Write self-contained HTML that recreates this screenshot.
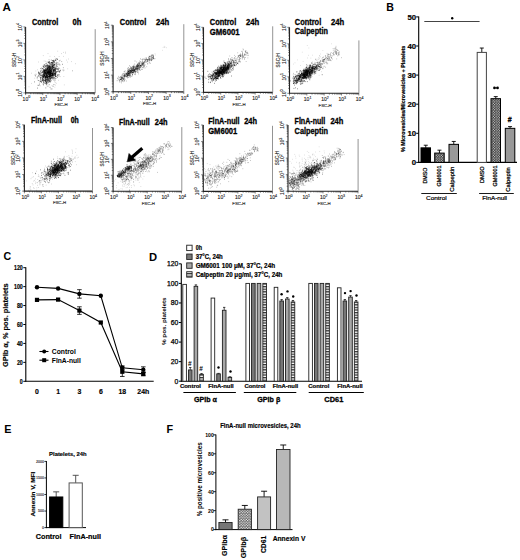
<!DOCTYPE html>
<html><head><meta charset="utf-8"><style>html,body{margin:0;padding:0;background:#fff;width:520px;height:560px;overflow:hidden;font-family:"Liberation Sans",sans-serif}svg{display:block}</style></head>
<body><svg width="520" height="560" viewBox="0 0 520 560" font-family='"Liberation Sans", sans-serif'><defs>
<pattern id="chk" width="2.6" height="2.6" patternUnits="userSpaceOnUse"><rect width="2.6" height="2.6" fill="#333"/><circle cx="0.65" cy="0.65" r="0.55" fill="#fff"/><circle cx="1.95" cy="1.95" r="0.55" fill="#fff"/></pattern>
<pattern id="chk2" width="2.6" height="2.6" patternUnits="userSpaceOnUse"><rect width="2.6" height="2.6" fill="#555"/><circle cx="0.65" cy="0.65" r="0.7" fill="#fff"/><circle cx="1.95" cy="1.95" r="0.7" fill="#fff"/></pattern>
<pattern id="gry" width="2" height="2" patternUnits="userSpaceOnUse"><rect width="2" height="2" fill="#bbb"/><rect width="1" height="1" fill="#999"/></pattern>
<pattern id="str" width="4" height="2.6" patternUnits="userSpaceOnUse"><rect width="4" height="2.6" fill="#fff"/><rect width="4" height="1.3" fill="#333"/></pattern>
</defs><rect width="520" height="560" fill="#fff"/><text x="2.40" y="10.70" font-size="11.6" font-weight="bold" text-anchor="start" fill="#000">A</text>
<line x1="25.60" y1="26.90" x2="25.60" y2="93.40" stroke="#222" stroke-width="1.1"/>
<line x1="25.10" y1="92.90" x2="95.20" y2="92.90" stroke="#222" stroke-width="1.1"/>
<line x1="95.20" y1="29.20" x2="95.20" y2="92.90" stroke="#888" stroke-width="0.9"/>
<path d="M23.40 92.90H25.60M25.60 92.90V95.10M24.30 87.93H25.60M30.77 92.90V94.20M24.30 85.03H25.60M33.79 92.90V94.20M24.30 82.97H25.60M35.94 92.90V94.20M24.30 81.37H25.60M37.60 92.90V94.20M24.30 80.06H25.60M38.96 92.90V94.20M24.30 78.96H25.60M40.11 92.90V94.20M24.30 78.00H25.60M41.11 92.90V94.20M24.30 77.15H25.60M41.99 92.90V94.20M23.40 76.40H25.60M42.77 92.90V95.10M24.30 71.43H25.60M47.95 92.90V94.20M24.30 68.53H25.60M50.97 92.90V94.20M24.30 66.47H25.60M53.12 92.90V94.20M24.30 64.87H25.60M54.78 92.90V94.20M24.30 63.56H25.60M56.14 92.90V94.20M24.30 62.46H25.60M57.29 92.90V94.20M24.30 61.50H25.60M58.29 92.90V94.20M24.30 60.65H25.60M59.16 92.90V94.20M23.40 59.90H25.60M59.95 92.90V95.10M24.30 54.93H25.60M65.12 92.90V94.20M24.30 52.03H25.60M68.14 92.90V94.20M24.30 49.97H25.60M70.29 92.90V94.20M24.30 48.37H25.60M71.95 92.90V94.20M24.30 47.06H25.60M73.31 92.90V94.20M24.30 45.96H25.60M74.46 92.90V94.20M24.30 45.00H25.60M75.46 92.90V94.20M24.30 44.15H25.60M76.34 92.90V94.20M23.40 43.40H25.60M77.12 92.90V95.10M24.30 38.43H25.60M82.30 92.90V94.20M24.30 35.53H25.60M85.32 92.90V94.20M24.30 33.47H25.60M87.47 92.90V94.20M24.30 31.87H25.60M89.13 92.90V94.20M24.30 30.56H25.60M90.49 92.90V94.20M24.30 29.46H25.60M91.64 92.90V94.20M24.30 28.50H25.60M92.64 92.90V94.20M24.30 27.65H25.60M93.51 92.90V94.20M23.40 26.90H25.60M94.30 92.90V95.10" fill="none" stroke="#333" stroke-width="0.6"/>
<g transform="translate(21.60 92.90) rotate(-90)"><text x="0" y="0" font-size="5" text-anchor="middle" fill="#222" stroke="#222" stroke-width="0.12">10<tspan font-size="3.6" dy="-2.2">0</tspan></text></g>
<text x="26.40" y="100.60" font-size="5" text-anchor="middle" fill="#222" stroke="#222" stroke-width="0.12">10<tspan font-size="3.6" dy="-2.2">0</tspan></text>
<g transform="translate(21.60 76.40) rotate(-90)"><text x="0" y="0" font-size="5" text-anchor="middle" fill="#222" stroke="#222" stroke-width="0.12">10<tspan font-size="3.6" dy="-2.2">1</tspan></text></g>
<text x="43.57" y="100.60" font-size="5" text-anchor="middle" fill="#222" stroke="#222" stroke-width="0.12">10<tspan font-size="3.6" dy="-2.2">1</tspan></text>
<g transform="translate(21.60 59.90) rotate(-90)"><text x="0" y="0" font-size="5" text-anchor="middle" fill="#222" stroke="#222" stroke-width="0.12">10<tspan font-size="3.6" dy="-2.2">2</tspan></text></g>
<text x="60.75" y="100.60" font-size="5" text-anchor="middle" fill="#222" stroke="#222" stroke-width="0.12">10<tspan font-size="3.6" dy="-2.2">2</tspan></text>
<g transform="translate(21.60 43.40) rotate(-90)"><text x="0" y="0" font-size="5" text-anchor="middle" fill="#222" stroke="#222" stroke-width="0.12">10<tspan font-size="3.6" dy="-2.2">3</tspan></text></g>
<text x="77.92" y="100.60" font-size="5" text-anchor="middle" fill="#222" stroke="#222" stroke-width="0.12">10<tspan font-size="3.6" dy="-2.2">3</tspan></text>
<g transform="translate(21.60 26.90) rotate(-90)"><text x="0" y="0" font-size="5" text-anchor="middle" fill="#222" stroke="#222" stroke-width="0.12">10<tspan font-size="3.6" dy="-2.2">4</tspan></text></g>
<text x="95.10" y="100.60" font-size="5" text-anchor="middle" fill="#222" stroke="#222" stroke-width="0.12">10<tspan font-size="3.6" dy="-2.2">4</tspan></text>
<text x="60.95" y="106.20" font-size="4.3" text-anchor="middle" fill="#222" stroke="#222" stroke-width="0.12">FSC-H</text>
<text x="0" y="0" font-size="4.6" text-anchor="middle" fill="#222" stroke="#222" stroke-width="0.12" transform="translate(16.10 59.90) rotate(-90)">SSC-H</text>
<line x1="113.10" y1="25.20" x2="113.10" y2="92.30" stroke="#222" stroke-width="1.1"/>
<line x1="112.60" y1="91.80" x2="183.80" y2="91.80" stroke="#222" stroke-width="1.1"/>
<line x1="183.80" y1="24.20" x2="183.80" y2="91.80" stroke="#888" stroke-width="0.9"/>
<path d="M110.90 91.80H113.10M113.10 91.80V94.00M111.80 86.79H113.10M118.42 91.80V93.10M111.80 83.86H113.10M121.53 91.80V93.10M111.80 81.78H113.10M123.74 91.80V93.10M111.80 80.16H113.10M125.45 91.80V93.10M111.80 78.84H113.10M126.85 91.80V93.10M111.80 77.73H113.10M128.04 91.80V93.10M111.80 76.76H113.10M129.06 91.80V93.10M111.80 75.91H113.10M129.97 91.80V93.10M110.90 75.15H113.10M130.78 91.80V94.00M111.80 70.14H113.10M136.10 91.80V93.10M111.80 67.21H113.10M139.21 91.80V93.10M111.80 65.13H113.10M141.42 91.80V93.10M111.80 63.51H113.10M143.13 91.80V93.10M111.80 62.19H113.10M144.53 91.80V93.10M111.80 61.08H113.10M145.71 91.80V93.10M111.80 60.11H113.10M146.74 91.80V93.10M111.80 59.26H113.10M147.64 91.80V93.10M110.90 58.50H113.10M148.45 91.80V94.00M111.80 53.49H113.10M153.77 91.80V93.10M111.80 50.56H113.10M156.88 91.80V93.10M111.80 48.48H113.10M159.09 91.80V93.10M111.80 46.86H113.10M160.80 91.80V93.10M111.80 45.54H113.10M162.20 91.80V93.10M111.80 44.43H113.10M163.39 91.80V93.10M111.80 43.46H113.10M164.41 91.80V93.10M111.80 42.61H113.10M165.32 91.80V93.10M110.90 41.85H113.10M166.12 91.80V94.00M111.80 36.84H113.10M171.45 91.80V93.10M111.80 33.91H113.10M174.56 91.80V93.10M111.80 31.83H113.10M176.77 91.80V93.10M111.80 30.21H113.10M178.48 91.80V93.10M111.80 28.89H113.10M179.88 91.80V93.10M111.80 27.78H113.10M181.06 91.80V93.10M111.80 26.81H113.10M182.09 91.80V93.10M111.80 25.96H113.10M182.99 91.80V93.10M110.90 25.20H113.10M183.80 91.80V94.00" fill="none" stroke="#333" stroke-width="0.6"/>
<g transform="translate(109.10 91.80) rotate(-90)"><text x="0" y="0" font-size="5" text-anchor="middle" fill="#222" stroke="#222" stroke-width="0.12">10<tspan font-size="3.6" dy="-2.2">0</tspan></text></g>
<text x="113.90" y="99.50" font-size="5" text-anchor="middle" fill="#222" stroke="#222" stroke-width="0.12">10<tspan font-size="3.6" dy="-2.2">0</tspan></text>
<g transform="translate(109.10 75.15) rotate(-90)"><text x="0" y="0" font-size="5" text-anchor="middle" fill="#222" stroke="#222" stroke-width="0.12">10<tspan font-size="3.6" dy="-2.2">1</tspan></text></g>
<text x="131.58" y="99.50" font-size="5" text-anchor="middle" fill="#222" stroke="#222" stroke-width="0.12">10<tspan font-size="3.6" dy="-2.2">1</tspan></text>
<g transform="translate(109.10 58.50) rotate(-90)"><text x="0" y="0" font-size="5" text-anchor="middle" fill="#222" stroke="#222" stroke-width="0.12">10<tspan font-size="3.6" dy="-2.2">2</tspan></text></g>
<text x="149.25" y="99.50" font-size="5" text-anchor="middle" fill="#222" stroke="#222" stroke-width="0.12">10<tspan font-size="3.6" dy="-2.2">2</tspan></text>
<g transform="translate(109.10 41.85) rotate(-90)"><text x="0" y="0" font-size="5" text-anchor="middle" fill="#222" stroke="#222" stroke-width="0.12">10<tspan font-size="3.6" dy="-2.2">3</tspan></text></g>
<text x="166.93" y="99.50" font-size="5" text-anchor="middle" fill="#222" stroke="#222" stroke-width="0.12">10<tspan font-size="3.6" dy="-2.2">3</tspan></text>
<g transform="translate(109.10 25.20) rotate(-90)"><text x="0" y="0" font-size="5" text-anchor="middle" fill="#222" stroke="#222" stroke-width="0.12">10<tspan font-size="3.6" dy="-2.2">4</tspan></text></g>
<text x="184.60" y="99.50" font-size="5" text-anchor="middle" fill="#222" stroke="#222" stroke-width="0.12">10<tspan font-size="3.6" dy="-2.2">4</tspan></text>
<text x="149.45" y="105.10" font-size="4.3" text-anchor="middle" fill="#222" stroke="#222" stroke-width="0.12">FSC-H</text>
<text x="0" y="0" font-size="4.6" text-anchor="middle" fill="#222" stroke="#222" stroke-width="0.12" transform="translate(103.60 58.50) rotate(-90)">SSC-H</text>
<line x1="203.50" y1="27.30" x2="203.50" y2="92.90" stroke="#222" stroke-width="1.1"/>
<line x1="203.00" y1="92.40" x2="272.70" y2="92.40" stroke="#222" stroke-width="1.1"/>
<line x1="272.70" y1="26.30" x2="272.70" y2="92.40" stroke="#888" stroke-width="0.9"/>
<path d="M201.30 92.40H203.50M203.50 92.40V94.60M202.20 87.50H203.50M208.69 92.40V93.70M202.20 84.63H203.50M211.72 92.40V93.70M202.20 82.60H203.50M213.87 92.40V93.70M202.20 81.02H203.50M215.54 92.40V93.70M202.20 79.74H203.50M216.90 92.40V93.70M202.20 78.65H203.50M218.06 92.40V93.70M202.20 77.70H203.50M219.06 92.40V93.70M202.20 76.87H203.50M219.94 92.40V93.70M201.30 76.12H203.50M220.72 92.40V94.60M202.20 71.23H203.50M225.91 92.40V93.70M202.20 68.36H203.50M228.94 92.40V93.70M202.20 66.33H203.50M231.10 92.40V93.70M202.20 64.75H203.50M232.76 92.40V93.70M202.20 63.46H203.50M234.13 92.40V93.70M202.20 62.37H203.50M235.28 92.40V93.70M202.20 61.43H203.50M236.28 92.40V93.70M202.20 60.59H203.50M237.16 92.40V93.70M201.30 59.85H203.50M237.95 92.40V94.60M202.20 54.95H203.50M243.14 92.40V93.70M202.20 52.08H203.50M246.17 92.40V93.70M202.20 50.05H203.50M248.32 92.40V93.70M202.20 48.47H203.50M249.99 92.40V93.70M202.20 47.19H203.50M251.35 92.40V93.70M202.20 46.10H203.50M252.51 92.40V93.70M202.20 45.15H203.50M253.51 92.40V93.70M202.20 44.32H203.50M254.39 92.40V93.70M201.30 43.58H203.50M255.17 92.40V94.60M202.20 38.68H203.50M260.36 92.40V93.70M202.20 35.81H203.50M263.39 92.40V93.70M202.20 33.78H203.50M265.55 92.40V93.70M202.20 32.20H203.50M267.21 92.40V93.70M202.20 30.91H203.50M268.58 92.40V93.70M202.20 29.82H203.50M269.73 92.40V93.70M202.20 28.88H203.50M270.73 92.40V93.70M202.20 28.04H203.50M271.61 92.40V93.70M201.30 27.30H203.50M272.40 92.40V94.60" fill="none" stroke="#333" stroke-width="0.6"/>
<g transform="translate(199.50 92.40) rotate(-90)"><text x="0" y="0" font-size="5" text-anchor="middle" fill="#222" stroke="#222" stroke-width="0.12">10<tspan font-size="3.6" dy="-2.2">0</tspan></text></g>
<text x="204.30" y="100.10" font-size="5" text-anchor="middle" fill="#222" stroke="#222" stroke-width="0.12">10<tspan font-size="3.6" dy="-2.2">0</tspan></text>
<g transform="translate(199.50 76.12) rotate(-90)"><text x="0" y="0" font-size="5" text-anchor="middle" fill="#222" stroke="#222" stroke-width="0.12">10<tspan font-size="3.6" dy="-2.2">1</tspan></text></g>
<text x="221.53" y="100.10" font-size="5" text-anchor="middle" fill="#222" stroke="#222" stroke-width="0.12">10<tspan font-size="3.6" dy="-2.2">1</tspan></text>
<g transform="translate(199.50 59.85) rotate(-90)"><text x="0" y="0" font-size="5" text-anchor="middle" fill="#222" stroke="#222" stroke-width="0.12">10<tspan font-size="3.6" dy="-2.2">2</tspan></text></g>
<text x="238.75" y="100.10" font-size="5" text-anchor="middle" fill="#222" stroke="#222" stroke-width="0.12">10<tspan font-size="3.6" dy="-2.2">2</tspan></text>
<g transform="translate(199.50 43.58) rotate(-90)"><text x="0" y="0" font-size="5" text-anchor="middle" fill="#222" stroke="#222" stroke-width="0.12">10<tspan font-size="3.6" dy="-2.2">3</tspan></text></g>
<text x="255.97" y="100.10" font-size="5" text-anchor="middle" fill="#222" stroke="#222" stroke-width="0.12">10<tspan font-size="3.6" dy="-2.2">3</tspan></text>
<g transform="translate(199.50 27.30) rotate(-90)"><text x="0" y="0" font-size="5" text-anchor="middle" fill="#222" stroke="#222" stroke-width="0.12">10<tspan font-size="3.6" dy="-2.2">4</tspan></text></g>
<text x="273.20" y="100.10" font-size="5" text-anchor="middle" fill="#222" stroke="#222" stroke-width="0.12">10<tspan font-size="3.6" dy="-2.2">4</tspan></text>
<text x="238.95" y="105.70" font-size="4.3" text-anchor="middle" fill="#222" stroke="#222" stroke-width="0.12">FSC-H</text>
<text x="0" y="0" font-size="4.6" text-anchor="middle" fill="#222" stroke="#222" stroke-width="0.12" transform="translate(194.00 59.85) rotate(-90)">SSC-H</text>
<line x1="289.50" y1="27.30" x2="289.50" y2="93.80" stroke="#222" stroke-width="1.1"/>
<line x1="289.00" y1="93.30" x2="358.90" y2="93.30" stroke="#222" stroke-width="1.1"/>
<line x1="358.90" y1="40.40" x2="358.90" y2="93.30" stroke="#888" stroke-width="0.9"/>
<path d="M287.30 93.30H289.50M289.50 93.30V95.50M288.20 88.33H289.50M294.72 93.30V94.60M288.20 85.43H289.50M297.77 93.30V94.60M288.20 83.37H289.50M299.93 93.30V94.60M288.20 81.77H289.50M301.61 93.30V94.60M288.20 80.46H289.50M302.98 93.30V94.60M288.20 79.36H289.50M304.14 93.30V94.60M288.20 78.40H289.50M305.15 93.30V94.60M288.20 77.55H289.50M306.03 93.30V94.60M287.30 76.80H289.50M306.82 93.30V95.50M288.20 71.83H289.50M312.04 93.30V94.60M288.20 68.93H289.50M315.09 93.30V94.60M288.20 66.87H289.50M317.26 93.30V94.60M288.20 65.27H289.50M318.93 93.30V94.60M288.20 63.96H289.50M320.31 93.30V94.60M288.20 62.86H289.50M321.47 93.30V94.60M288.20 61.90H289.50M322.47 93.30V94.60M288.20 61.05H289.50M323.36 93.30V94.60M287.30 60.30H289.50M324.15 93.30V95.50M288.20 55.33H289.50M329.37 93.30V94.60M288.20 52.43H289.50M332.42 93.30V94.60M288.20 50.37H289.50M334.58 93.30V94.60M288.20 48.77H289.50M336.26 93.30V94.60M288.20 47.46H289.50M337.63 93.30V94.60M288.20 46.36H289.50M338.79 93.30V94.60M288.20 45.40H289.50M339.80 93.30V94.60M288.20 44.55H289.50M340.68 93.30V94.60M287.30 43.80H289.50M341.48 93.30V95.50M288.20 38.83H289.50M346.69 93.30V94.60M288.20 35.93H289.50M349.74 93.30V94.60M288.20 33.87H289.50M351.91 93.30V94.60M288.20 32.27H289.50M353.58 93.30V94.60M288.20 30.96H289.50M354.96 93.30V94.60M288.20 29.86H289.50M356.12 93.30V94.60M288.20 28.90H289.50M357.12 93.30V94.60M288.20 28.05H289.50M358.01 93.30V94.60M287.30 27.30H289.50M358.80 93.30V95.50" fill="none" stroke="#333" stroke-width="0.6"/>
<g transform="translate(285.50 93.30) rotate(-90)"><text x="0" y="0" font-size="5" text-anchor="middle" fill="#222" stroke="#222" stroke-width="0.12">10<tspan font-size="3.6" dy="-2.2">0</tspan></text></g>
<text x="290.30" y="101.00" font-size="5" text-anchor="middle" fill="#222" stroke="#222" stroke-width="0.12">10<tspan font-size="3.6" dy="-2.2">0</tspan></text>
<g transform="translate(285.50 76.80) rotate(-90)"><text x="0" y="0" font-size="5" text-anchor="middle" fill="#222" stroke="#222" stroke-width="0.12">10<tspan font-size="3.6" dy="-2.2">1</tspan></text></g>
<text x="307.62" y="101.00" font-size="5" text-anchor="middle" fill="#222" stroke="#222" stroke-width="0.12">10<tspan font-size="3.6" dy="-2.2">1</tspan></text>
<g transform="translate(285.50 60.30) rotate(-90)"><text x="0" y="0" font-size="5" text-anchor="middle" fill="#222" stroke="#222" stroke-width="0.12">10<tspan font-size="3.6" dy="-2.2">2</tspan></text></g>
<text x="324.95" y="101.00" font-size="5" text-anchor="middle" fill="#222" stroke="#222" stroke-width="0.12">10<tspan font-size="3.6" dy="-2.2">2</tspan></text>
<g transform="translate(285.50 43.80) rotate(-90)"><text x="0" y="0" font-size="5" text-anchor="middle" fill="#222" stroke="#222" stroke-width="0.12">10<tspan font-size="3.6" dy="-2.2">3</tspan></text></g>
<text x="342.28" y="101.00" font-size="5" text-anchor="middle" fill="#222" stroke="#222" stroke-width="0.12">10<tspan font-size="3.6" dy="-2.2">3</tspan></text>
<g transform="translate(285.50 27.30) rotate(-90)"><text x="0" y="0" font-size="5" text-anchor="middle" fill="#222" stroke="#222" stroke-width="0.12">10<tspan font-size="3.6" dy="-2.2">4</tspan></text></g>
<text x="359.60" y="101.00" font-size="5" text-anchor="middle" fill="#222" stroke="#222" stroke-width="0.12">10<tspan font-size="3.6" dy="-2.2">4</tspan></text>
<text x="325.15" y="106.60" font-size="4.3" text-anchor="middle" fill="#222" stroke="#222" stroke-width="0.12">FSC-H</text>
<text x="0" y="0" font-size="4.6" text-anchor="middle" fill="#222" stroke="#222" stroke-width="0.12" transform="translate(280.00 60.30) rotate(-90)">SSC-H</text>
<line x1="24.40" y1="124.80" x2="24.40" y2="191.60" stroke="#222" stroke-width="1.1"/>
<line x1="23.90" y1="191.10" x2="92.50" y2="191.10" stroke="#222" stroke-width="1.1"/>
<line x1="92.50" y1="128.00" x2="92.50" y2="191.10" stroke="#888" stroke-width="0.9"/>
<path d="M22.20 191.10H24.40M24.40 191.10V193.30M23.10 186.11H24.40M29.53 191.10V192.40M23.10 183.19H24.40M32.52 191.10V192.40M23.10 181.12H24.40M34.65 191.10V192.40M23.10 179.51H24.40M36.30 191.10V192.40M23.10 178.20H24.40M37.65 191.10V192.40M23.10 177.09H24.40M38.79 191.10V192.40M23.10 176.13H24.40M39.78 191.10V192.40M23.10 175.28H24.40M40.65 191.10V192.40M22.20 174.53H24.40M41.42 191.10V193.30M23.10 169.54H24.40M46.55 191.10V192.40M23.10 166.62H24.40M49.55 191.10V192.40M23.10 164.55H24.40M51.68 191.10V192.40M23.10 162.94H24.40M53.32 191.10V192.40M23.10 161.63H24.40M54.67 191.10V192.40M23.10 160.52H24.40M55.81 191.10V192.40M23.10 159.56H24.40M56.80 191.10V192.40M23.10 158.71H24.40M57.67 191.10V192.40M22.20 157.95H24.40M58.45 191.10V193.30M23.10 152.96H24.40M63.58 191.10V192.40M23.10 150.04H24.40M66.57 191.10V192.40M23.10 147.97H24.40M68.70 191.10V192.40M23.10 146.36H24.40M70.35 191.10V192.40M23.10 145.05H24.40M71.70 191.10V192.40M23.10 143.94H24.40M72.84 191.10V192.40M23.10 142.98H24.40M73.83 191.10V192.40M23.10 142.13H24.40M74.70 191.10V192.40M22.20 141.38H24.40M75.47 191.10V193.30M23.10 136.39H24.40M80.60 191.10V192.40M23.10 133.47H24.40M83.60 191.10V192.40M23.10 131.40H24.40M85.73 191.10V192.40M23.10 129.79H24.40M87.37 191.10V192.40M23.10 128.48H24.40M88.72 191.10V192.40M23.10 127.37H24.40M89.86 191.10V192.40M23.10 126.41H24.40M90.85 191.10V192.40M23.10 125.56H24.40M91.72 191.10V192.40M22.20 124.80H24.40M92.50 191.10V193.30" fill="none" stroke="#333" stroke-width="0.6"/>
<g transform="translate(20.40 191.10) rotate(-90)"><text x="0" y="0" font-size="5" text-anchor="middle" fill="#222" stroke="#222" stroke-width="0.12">10<tspan font-size="3.6" dy="-2.2">0</tspan></text></g>
<text x="25.20" y="198.80" font-size="5" text-anchor="middle" fill="#222" stroke="#222" stroke-width="0.12">10<tspan font-size="3.6" dy="-2.2">0</tspan></text>
<g transform="translate(20.40 174.53) rotate(-90)"><text x="0" y="0" font-size="5" text-anchor="middle" fill="#222" stroke="#222" stroke-width="0.12">10<tspan font-size="3.6" dy="-2.2">1</tspan></text></g>
<text x="42.22" y="198.80" font-size="5" text-anchor="middle" fill="#222" stroke="#222" stroke-width="0.12">10<tspan font-size="3.6" dy="-2.2">1</tspan></text>
<g transform="translate(20.40 157.95) rotate(-90)"><text x="0" y="0" font-size="5" text-anchor="middle" fill="#222" stroke="#222" stroke-width="0.12">10<tspan font-size="3.6" dy="-2.2">2</tspan></text></g>
<text x="59.25" y="198.80" font-size="5" text-anchor="middle" fill="#222" stroke="#222" stroke-width="0.12">10<tspan font-size="3.6" dy="-2.2">2</tspan></text>
<g transform="translate(20.40 141.38) rotate(-90)"><text x="0" y="0" font-size="5" text-anchor="middle" fill="#222" stroke="#222" stroke-width="0.12">10<tspan font-size="3.6" dy="-2.2">3</tspan></text></g>
<text x="76.27" y="198.80" font-size="5" text-anchor="middle" fill="#222" stroke="#222" stroke-width="0.12">10<tspan font-size="3.6" dy="-2.2">3</tspan></text>
<g transform="translate(20.40 124.80) rotate(-90)"><text x="0" y="0" font-size="5" text-anchor="middle" fill="#222" stroke="#222" stroke-width="0.12">10<tspan font-size="3.6" dy="-2.2">4</tspan></text></g>
<text x="93.30" y="198.80" font-size="5" text-anchor="middle" fill="#222" stroke="#222" stroke-width="0.12">10<tspan font-size="3.6" dy="-2.2">4</tspan></text>
<text x="59.45" y="204.40" font-size="4.3" text-anchor="middle" fill="#222" stroke="#222" stroke-width="0.12">FSC-H</text>
<text x="0" y="0" font-size="4.6" text-anchor="middle" fill="#222" stroke="#222" stroke-width="0.12" transform="translate(14.90 157.95) rotate(-90)">SSC-H</text>
<line x1="113.10" y1="127.50" x2="113.10" y2="191.70" stroke="#222" stroke-width="1.1"/>
<line x1="112.60" y1="191.20" x2="181.80" y2="191.20" stroke="#222" stroke-width="1.1"/>
<line x1="181.80" y1="127.10" x2="181.80" y2="191.20" stroke="#888" stroke-width="0.9"/>
<path d="M110.90 191.20H113.10M113.10 191.20V193.40M111.80 186.41H113.10M118.25 191.20V192.50M111.80 183.60H113.10M121.26 191.20V192.50M111.80 181.61H113.10M123.40 191.20V192.50M111.80 180.07H113.10M125.05 191.20V192.50M111.80 178.81H113.10M126.41 191.20V192.50M111.80 177.74H113.10M127.55 191.20V192.50M111.80 176.82H113.10M128.54 191.20V192.50M111.80 176.00H113.10M129.42 191.20V192.50M110.90 175.27H113.10M130.20 191.20V193.40M111.80 170.48H113.10M135.35 191.20V192.50M111.80 167.68H113.10M138.36 191.20V192.50M111.80 165.69H113.10M140.50 191.20V192.50M111.80 164.14H113.10M142.15 191.20V192.50M111.80 162.88H113.10M143.51 191.20V192.50M111.80 161.82H113.10M144.65 191.20V192.50M111.80 160.89H113.10M145.64 191.20V192.50M111.80 160.08H113.10M146.52 191.20V192.50M110.90 159.35H113.10M147.30 191.20V193.40M111.80 154.56H113.10M152.45 191.20V192.50M111.80 151.75H113.10M155.46 191.20V192.50M111.80 149.76H113.10M157.60 191.20V192.50M111.80 148.22H113.10M159.25 191.20V192.50M111.80 146.96H113.10M160.61 191.20V192.50M111.80 145.89H113.10M161.75 191.20V192.50M111.80 144.97H113.10M162.74 191.20V192.50M111.80 144.15H113.10M163.62 191.20V192.50M110.90 143.43H113.10M164.40 191.20V193.40M111.80 138.63H113.10M169.55 191.20V192.50M111.80 135.83H113.10M172.56 191.20V192.50M111.80 133.84H113.10M174.70 191.20V192.50M111.80 132.29H113.10M176.35 191.20V192.50M111.80 131.03H113.10M177.71 191.20V192.50M111.80 129.97H113.10M178.85 191.20V192.50M111.80 129.04H113.10M179.84 191.20V192.50M111.80 128.23H113.10M180.72 191.20V192.50M110.90 127.50H113.10M181.50 191.20V193.40" fill="none" stroke="#333" stroke-width="0.6"/>
<g transform="translate(109.10 191.20) rotate(-90)"><text x="0" y="0" font-size="5" text-anchor="middle" fill="#222" stroke="#222" stroke-width="0.12">10<tspan font-size="3.6" dy="-2.2">0</tspan></text></g>
<text x="113.90" y="198.90" font-size="5" text-anchor="middle" fill="#222" stroke="#222" stroke-width="0.12">10<tspan font-size="3.6" dy="-2.2">0</tspan></text>
<g transform="translate(109.10 175.27) rotate(-90)"><text x="0" y="0" font-size="5" text-anchor="middle" fill="#222" stroke="#222" stroke-width="0.12">10<tspan font-size="3.6" dy="-2.2">1</tspan></text></g>
<text x="131.00" y="198.90" font-size="5" text-anchor="middle" fill="#222" stroke="#222" stroke-width="0.12">10<tspan font-size="3.6" dy="-2.2">1</tspan></text>
<g transform="translate(109.10 159.35) rotate(-90)"><text x="0" y="0" font-size="5" text-anchor="middle" fill="#222" stroke="#222" stroke-width="0.12">10<tspan font-size="3.6" dy="-2.2">2</tspan></text></g>
<text x="148.10" y="198.90" font-size="5" text-anchor="middle" fill="#222" stroke="#222" stroke-width="0.12">10<tspan font-size="3.6" dy="-2.2">2</tspan></text>
<g transform="translate(109.10 143.43) rotate(-90)"><text x="0" y="0" font-size="5" text-anchor="middle" fill="#222" stroke="#222" stroke-width="0.12">10<tspan font-size="3.6" dy="-2.2">3</tspan></text></g>
<text x="165.20" y="198.90" font-size="5" text-anchor="middle" fill="#222" stroke="#222" stroke-width="0.12">10<tspan font-size="3.6" dy="-2.2">3</tspan></text>
<g transform="translate(109.10 127.50) rotate(-90)"><text x="0" y="0" font-size="5" text-anchor="middle" fill="#222" stroke="#222" stroke-width="0.12">10<tspan font-size="3.6" dy="-2.2">4</tspan></text></g>
<text x="182.30" y="198.90" font-size="5" text-anchor="middle" fill="#222" stroke="#222" stroke-width="0.12">10<tspan font-size="3.6" dy="-2.2">4</tspan></text>
<text x="148.30" y="204.50" font-size="4.3" text-anchor="middle" fill="#222" stroke="#222" stroke-width="0.12">FSC-H</text>
<text x="0" y="0" font-size="4.6" text-anchor="middle" fill="#222" stroke="#222" stroke-width="0.12" transform="translate(103.60 159.35) rotate(-90)">SSC-H</text>
<line x1="203.30" y1="125.00" x2="203.30" y2="191.90" stroke="#222" stroke-width="1.1"/>
<line x1="202.80" y1="191.40" x2="272.50" y2="191.40" stroke="#222" stroke-width="1.1"/>
<line x1="272.50" y1="125.80" x2="272.50" y2="191.40" stroke="#888" stroke-width="0.9"/>
<path d="M201.10 191.40H203.30M203.30 191.40V193.60M202.00 186.40H203.30M208.51 191.40V192.70M202.00 183.48H203.30M211.55 191.40V192.70M202.00 181.41H203.30M213.72 191.40V192.70M202.00 179.80H203.30M215.39 191.40V192.70M202.00 178.48H203.30M216.76 191.40V192.70M202.00 177.37H203.30M217.92 191.40V192.70M202.00 176.41H203.30M218.92 191.40V192.70M202.00 175.56H203.30M219.81 191.40V192.70M201.10 174.80H203.30M220.60 191.40V193.60M202.00 169.80H203.30M225.81 191.40V192.70M202.00 166.88H203.30M228.85 191.40V192.70M202.00 164.81H203.30M231.02 191.40V192.70M202.00 163.20H203.30M232.69 191.40V192.70M202.00 161.88H203.30M234.06 191.40V192.70M202.00 160.77H203.30M235.22 191.40V192.70M202.00 159.81H203.30M236.22 191.40V192.70M202.00 158.96H203.30M237.11 191.40V192.70M201.10 158.20H203.30M237.90 191.40V193.60M202.00 153.20H203.30M243.11 191.40V192.70M202.00 150.28H203.30M246.15 191.40V192.70M202.00 148.21H203.30M248.32 191.40V192.70M202.00 146.60H203.30M249.99 191.40V192.70M202.00 145.28H203.30M251.36 191.40V192.70M202.00 144.17H203.30M252.52 191.40V192.70M202.00 143.21H203.30M253.52 191.40V192.70M202.00 142.36H203.30M254.41 191.40V192.70M201.10 141.60H203.30M255.20 191.40V193.60M202.00 136.60H203.30M260.41 191.40V192.70M202.00 133.68H203.30M263.45 191.40V192.70M202.00 131.61H203.30M265.62 191.40V192.70M202.00 130.00H203.30M267.29 191.40V192.70M202.00 128.68H203.30M268.66 191.40V192.70M202.00 127.57H203.30M269.82 191.40V192.70M202.00 126.61H203.30M270.82 191.40V192.70M202.00 125.76H203.30M271.71 191.40V192.70M201.10 125.00H203.30M272.50 191.40V193.60" fill="none" stroke="#333" stroke-width="0.6"/>
<g transform="translate(199.30 191.40) rotate(-90)"><text x="0" y="0" font-size="5" text-anchor="middle" fill="#222" stroke="#222" stroke-width="0.12">10<tspan font-size="3.6" dy="-2.2">0</tspan></text></g>
<text x="204.10" y="199.10" font-size="5" text-anchor="middle" fill="#222" stroke="#222" stroke-width="0.12">10<tspan font-size="3.6" dy="-2.2">0</tspan></text>
<g transform="translate(199.30 174.80) rotate(-90)"><text x="0" y="0" font-size="5" text-anchor="middle" fill="#222" stroke="#222" stroke-width="0.12">10<tspan font-size="3.6" dy="-2.2">1</tspan></text></g>
<text x="221.40" y="199.10" font-size="5" text-anchor="middle" fill="#222" stroke="#222" stroke-width="0.12">10<tspan font-size="3.6" dy="-2.2">1</tspan></text>
<g transform="translate(199.30 158.20) rotate(-90)"><text x="0" y="0" font-size="5" text-anchor="middle" fill="#222" stroke="#222" stroke-width="0.12">10<tspan font-size="3.6" dy="-2.2">2</tspan></text></g>
<text x="238.70" y="199.10" font-size="5" text-anchor="middle" fill="#222" stroke="#222" stroke-width="0.12">10<tspan font-size="3.6" dy="-2.2">2</tspan></text>
<g transform="translate(199.30 141.60) rotate(-90)"><text x="0" y="0" font-size="5" text-anchor="middle" fill="#222" stroke="#222" stroke-width="0.12">10<tspan font-size="3.6" dy="-2.2">3</tspan></text></g>
<text x="256.00" y="199.10" font-size="5" text-anchor="middle" fill="#222" stroke="#222" stroke-width="0.12">10<tspan font-size="3.6" dy="-2.2">3</tspan></text>
<g transform="translate(199.30 125.00) rotate(-90)"><text x="0" y="0" font-size="5" text-anchor="middle" fill="#222" stroke="#222" stroke-width="0.12">10<tspan font-size="3.6" dy="-2.2">4</tspan></text></g>
<text x="273.30" y="199.10" font-size="5" text-anchor="middle" fill="#222" stroke="#222" stroke-width="0.12">10<tspan font-size="3.6" dy="-2.2">4</tspan></text>
<text x="238.90" y="204.70" font-size="4.3" text-anchor="middle" fill="#222" stroke="#222" stroke-width="0.12">FSC-H</text>
<text x="0" y="0" font-size="4.6" text-anchor="middle" fill="#222" stroke="#222" stroke-width="0.12" transform="translate(193.80 158.20) rotate(-90)">SSC-H</text>
<line x1="288.00" y1="125.00" x2="288.00" y2="191.70" stroke="#222" stroke-width="1.1"/>
<line x1="287.50" y1="191.20" x2="358.10" y2="191.20" stroke="#222" stroke-width="1.1"/>
<line x1="358.10" y1="139.00" x2="358.10" y2="191.20" stroke="#888" stroke-width="0.9"/>
<path d="M285.80 191.20H288.00M288.00 191.20V193.40M286.70 186.22H288.00M293.27 191.20V192.50M286.70 183.30H288.00M296.35 191.20V192.50M286.70 181.24H288.00M298.54 191.20V192.50M286.70 179.63H288.00M300.23 191.20V192.50M286.70 178.32H288.00M301.62 191.20V192.50M286.70 177.21H288.00M302.79 191.20V192.50M286.70 176.25H288.00M303.80 191.20V192.50M286.70 175.41H288.00M304.70 191.20V192.50M285.80 174.65H288.00M305.50 191.20V193.40M286.70 169.67H288.00M310.77 191.20V192.50M286.70 166.75H288.00M313.85 191.20V192.50M286.70 164.69H288.00M316.04 191.20V192.50M286.70 163.08H288.00M317.73 191.20V192.50M286.70 161.77H288.00M319.12 191.20V192.50M286.70 160.66H288.00M320.29 191.20V192.50M286.70 159.70H288.00M321.30 191.20V192.50M286.70 158.86H288.00M322.20 191.20V192.50M285.80 158.10H288.00M323.00 191.20V193.40M286.70 153.12H288.00M328.27 191.20V192.50M286.70 150.20H288.00M331.35 191.20V192.50M286.70 148.14H288.00M333.54 191.20V192.50M286.70 146.53H288.00M335.23 191.20V192.50M286.70 145.22H288.00M336.62 191.20V192.50M286.70 144.11H288.00M337.79 191.20V192.50M286.70 143.15H288.00M338.80 191.20V192.50M286.70 142.31H288.00M339.70 191.20V192.50M285.80 141.55H288.00M340.50 191.20V193.40M286.70 136.57H288.00M345.77 191.20V192.50M286.70 133.65H288.00M348.85 191.20V192.50M286.70 131.59H288.00M351.04 191.20V192.50M286.70 129.98H288.00M352.73 191.20V192.50M286.70 128.67H288.00M354.12 191.20V192.50M286.70 127.56H288.00M355.29 191.20V192.50M286.70 126.60H288.00M356.30 191.20V192.50M286.70 125.76H288.00M357.20 191.20V192.50M285.80 125.00H288.00M358.00 191.20V193.40" fill="none" stroke="#333" stroke-width="0.6"/>
<g transform="translate(284.00 191.20) rotate(-90)"><text x="0" y="0" font-size="5" text-anchor="middle" fill="#222" stroke="#222" stroke-width="0.12">10<tspan font-size="3.6" dy="-2.2">0</tspan></text></g>
<text x="288.80" y="198.90" font-size="5" text-anchor="middle" fill="#222" stroke="#222" stroke-width="0.12">10<tspan font-size="3.6" dy="-2.2">0</tspan></text>
<g transform="translate(284.00 174.65) rotate(-90)"><text x="0" y="0" font-size="5" text-anchor="middle" fill="#222" stroke="#222" stroke-width="0.12">10<tspan font-size="3.6" dy="-2.2">1</tspan></text></g>
<text x="306.30" y="198.90" font-size="5" text-anchor="middle" fill="#222" stroke="#222" stroke-width="0.12">10<tspan font-size="3.6" dy="-2.2">1</tspan></text>
<g transform="translate(284.00 158.10) rotate(-90)"><text x="0" y="0" font-size="5" text-anchor="middle" fill="#222" stroke="#222" stroke-width="0.12">10<tspan font-size="3.6" dy="-2.2">2</tspan></text></g>
<text x="323.80" y="198.90" font-size="5" text-anchor="middle" fill="#222" stroke="#222" stroke-width="0.12">10<tspan font-size="3.6" dy="-2.2">2</tspan></text>
<g transform="translate(284.00 141.55) rotate(-90)"><text x="0" y="0" font-size="5" text-anchor="middle" fill="#222" stroke="#222" stroke-width="0.12">10<tspan font-size="3.6" dy="-2.2">3</tspan></text></g>
<text x="341.30" y="198.90" font-size="5" text-anchor="middle" fill="#222" stroke="#222" stroke-width="0.12">10<tspan font-size="3.6" dy="-2.2">3</tspan></text>
<g transform="translate(284.00 125.00) rotate(-90)"><text x="0" y="0" font-size="5" text-anchor="middle" fill="#222" stroke="#222" stroke-width="0.12">10<tspan font-size="3.6" dy="-2.2">4</tspan></text></g>
<text x="358.80" y="198.90" font-size="5" text-anchor="middle" fill="#222" stroke="#222" stroke-width="0.12">10<tspan font-size="3.6" dy="-2.2">4</tspan></text>
<text x="324.00" y="204.50" font-size="4.3" text-anchor="middle" fill="#222" stroke="#222" stroke-width="0.12">FSC-H</text>
<text x="0" y="0" font-size="4.6" text-anchor="middle" fill="#222" stroke="#222" stroke-width="0.12" transform="translate(278.50 158.10) rotate(-90)">SSC-H</text>
<path d="M52.5 74.3h0.7M57.1 74.9h0.7M54.5 77.4h0.7M45.6 76.5h0.7M49.9 76.0h0.7M46.4 77.7h0.7M49.5 72.2h0.7M57.8 68.1h0.7M43.4 72.5h0.7M50.4 77.4h0.7M50.3 69.7h0.7M54.5 73.0h0.7M49.9 72.1h0.7M44.1 75.9h0.7M49.8 73.0h0.7M53.4 70.0h0.7M45.1 79.3h0.7M49.1 75.6h0.7M41.7 81.2h0.7M38.5 75.2h0.7M46.3 83.5h0.7M50.5 74.8h0.7M45.7 79.2h0.7M50.0 71.0h0.7M52.7 73.4h0.7M47.0 72.4h0.7M39.2 84.1h0.7M46.8 74.8h0.7M52.6 74.7h0.7M45.0 69.2h0.7M48.1 82.4h0.7M45.6 73.6h0.7M42.6 75.4h0.7M50.5 78.8h0.7M51.9 66.6h0.7M42.5 74.2h0.7M47.8 71.8h0.7M54.6 69.4h0.7M51.0 77.5h0.7M47.3 72.1h0.7M50.6 72.5h0.7M51.4 73.3h0.7M43.3 77.5h0.7M50.3 72.5h0.7M53.0 65.2h0.7M42.7 79.4h0.7M50.0 66.9h0.7M49.6 71.8h0.7M47.2 75.7h0.7M53.2 60.9h0.7M50.0 67.6h0.7M48.9 80.5h0.7M49.9 72.3h0.7M53.5 70.9h0.7M52.2 75.4h0.7M52.9 69.8h0.7M55.9 76.7h0.7M48.4 67.3h0.7M55.8 66.3h0.7M46.0 75.2h0.7M55.4 74.6h0.7M52.9 77.8h0.7M43.3 68.1h0.7M42.4 76.7h0.7M49.3 76.5h0.7M50.9 74.7h0.7M54.0 69.0h0.7M52.2 66.2h0.7M46.4 80.0h0.7M48.7 77.6h0.7M50.7 68.8h0.7M46.2 84.5h0.7M40.6 70.6h0.7M50.7 73.9h0.7M49.5 63.9h0.7M54.1 70.4h0.7M47.3 73.6h0.7M45.1 72.6h0.7M49.4 74.3h0.7M50.7 62.7h0.7M44.9 72.9h0.7M43.2 71.1h0.7M50.0 70.4h0.7M50.2 73.8h0.7M51.6 75.2h0.7M45.2 77.8h0.7M52.2 74.2h0.7M47.7 74.6h0.7M52.2 66.1h0.7M52.7 69.9h0.7M52.2 74.3h0.7M49.9 68.2h0.7M47.2 73.6h0.7M51.7 66.5h0.7M49.2 72.5h0.7M47.9 67.6h0.7M48.3 80.9h0.7M48.8 69.8h0.7M45.4 81.9h0.7M40.3 81.4h0.7M49.2 74.5h0.7M47.5 77.7h0.7M48.2 70.7h0.7M62.0 64.3h0.7M47.7 77.3h0.7M52.7 78.7h0.7M52.6 73.0h0.7M48.4 68.5h0.7M47.3 72.5h0.7M49.7 74.2h0.7M51.3 68.8h0.7M50.7 69.7h0.7M45.0 77.2h0.7M43.1 69.5h0.7M48.4 71.7h0.7M38.9 73.8h0.7M50.9 71.6h0.7M44.2 75.5h0.7M49.7 66.0h0.7M48.9 70.9h0.7M50.1 72.3h0.7M42.8 72.8h0.7M43.2 69.8h0.7M39.7 80.8h0.7M39.2 74.5h0.7M47.1 68.7h0.7M47.6 86.2h0.7M48.2 66.0h0.7M45.8 82.5h0.7M47.0 65.9h0.7M47.4 77.2h0.7M50.3 67.7h0.7M49.2 71.5h0.7M46.2 81.3h0.7M58.2 69.0h0.7M53.9 65.2h0.7M49.2 72.9h0.7M45.1 72.0h0.7M50.3 74.2h0.7M45.3 76.9h0.7M54.9 68.1h0.7M47.2 75.0h0.7M54.3 75.7h0.7M40.4 72.9h0.7M46.2 75.0h0.7M47.9 80.5h0.7M51.7 65.1h0.7M46.1 71.7h0.7M51.1 66.8h0.7M44.7 69.7h0.7M47.3 76.1h0.7M55.6 78.4h0.7M50.9 77.3h0.7M45.6 70.3h0.7M45.2 72.7h0.7M46.8 73.1h0.7M48.0 81.3h0.7M44.0 75.0h0.7M51.8 62.5h0.7M49.7 77.4h0.7M48.5 79.3h0.7M48.8 69.9h0.7M49.7 63.0h0.7M39.8 77.1h0.7M46.2 72.1h0.7M40.1 71.6h0.7M46.1 82.8h0.7M49.2 67.3h0.7M50.4 73.3h0.7M55.0 75.3h0.7M50.4 78.3h0.7M46.8 67.9h0.7M50.1 76.7h0.7M52.2 75.1h0.7M43.3 76.7h0.7M42.4 76.9h0.7M52.7 65.2h0.7M42.5 72.1h0.7M54.5 73.4h0.7M41.4 68.1h0.7M44.2 72.6h0.7M46.6 74.5h0.7M50.2 68.6h0.7M48.6 74.2h0.7M49.4 73.6h0.7M48.4 71.8h0.7M56.1 68.2h0.7M44.4 64.9h0.7M50.1 70.3h0.7M45.1 73.9h0.7M45.3 79.7h0.7M52.5 67.8h0.7M49.1 65.6h0.7M46.6 71.9h0.7M53.1 70.9h0.7M52.4 68.9h0.7M49.4 66.8h0.7M58.1 71.2h0.7M54.8 78.8h0.7M49.0 61.8h0.7M46.2 79.3h0.7M59.4 72.3h0.7M52.9 71.1h0.7M52.3 68.2h0.7M54.0 62.2h0.7M51.8 63.6h0.7M44.9 77.9h0.7M42.2 80.1h0.7M53.8 69.4h0.7M44.7 76.9h0.7M47.6 71.6h0.7M47.8 65.8h0.7M43.9 80.8h0.7M39.9 81.7h0.7M49.2 70.6h0.7M52.4 73.9h0.7M49.4 74.2h0.7M50.7 73.0h0.7M47.5 77.4h0.7M44.6 80.3h0.7M48.1 72.9h0.7M45.1 76.8h0.7M46.4 82.2h0.7M47.1 67.7h0.7M53.0 75.0h0.7M50.3 70.2h0.7M43.7 76.1h0.7M45.5 74.8h0.7M43.9 76.3h0.7M46.8 77.2h0.7M47.3 70.0h0.7M50.2 78.4h0.7M47.6 69.0h0.7M42.9 66.4h0.7M52.8 60.5h0.7M38.6 75.9h0.7M51.5 67.6h0.7M52.0 74.7h0.7M51.0 73.5h0.7M40.5 77.4h0.7M45.2 73.3h0.7M56.8 71.6h0.7M49.7 73.3h0.7M49.3 71.9h0.7M51.4 75.7h0.7M60.1 70.7h0.7M53.0 74.7h0.7M42.8 84.0h0.7M48.0 76.5h0.7M45.0 83.6h0.7M37.3 88.1h0.7M44.1 73.1h0.7M53.2 65.5h0.7M46.2 70.4h0.7M45.3 78.3h0.7M46.5 77.4h0.7M59.7 70.6h0.7M46.8 69.9h0.7M48.8 71.8h0.7M48.3 72.3h0.7M50.5 72.9h0.7M54.7 70.0h0.7M49.1 68.5h0.7M47.1 69.7h0.7M40.8 74.8h0.7M47.6 68.0h0.7M48.6 76.8h0.7M52.4 66.7h0.7M42.0 77.1h0.7M47.4 72.3h0.7M49.1 72.4h0.7M46.6 80.1h0.7M52.3 62.3h0.7M52.6 64.3h0.7M41.9 71.4h0.7M47.7 66.2h0.7M55.2 73.2h0.7M34.3 81.9h0.7M48.7 70.4h0.7M49.5 73.0h0.7M48.1 71.2h0.7M43.2 76.4h0.7M48.0 73.6h0.7M48.4 73.2h0.7M52.3 66.0h0.7M44.1 67.2h0.7M48.5 72.1h0.7M50.9 62.8h0.7M45.6 74.2h0.7M48.5 74.7h0.7M45.5 82.9h0.7M56.5 65.8h0.7M50.3 66.4h0.7M54.6 69.2h0.7M54.7 70.9h0.7M52.9 73.8h0.7M54.0 73.7h0.7M47.8 73.3h0.7M47.8 73.0h0.7M51.7 73.5h0.7M49.3 62.0h0.7M51.3 69.8h0.7M47.2 71.6h0.7M46.1 74.6h0.7M41.7 72.5h0.7M51.0 62.4h0.7M50.5 69.6h0.7M52.0 73.5h0.7M51.0 75.9h0.7M45.4 77.9h0.7M48.2 72.3h0.7M49.0 66.3h0.7M49.1 75.1h0.7M47.5 73.0h0.7M50.2 74.5h0.7M54.8 74.9h0.7M44.1 80.5h0.7M43.6 70.8h0.7M43.8 75.2h0.7M47.1 65.1h0.7M43.0 74.1h0.7M54.8 71.7h0.7M54.3 64.8h0.7M43.3 71.2h0.7M49.2 76.6h0.7M53.5 73.6h0.7M47.9 71.7h0.7M43.9 76.2h0.7M49.3 69.3h0.7M55.9 62.3h0.7M50.2 74.8h0.7M52.1 75.5h0.7M49.6 79.9h0.7M53.7 72.8h0.7M49.5 81.2h0.7M47.7 79.2h0.7M48.1 62.9h0.7M45.9 76.8h0.7M53.2 67.2h0.7M52.4 63.7h0.7M52.6 72.6h0.7M49.5 68.8h0.7M52.0 60.5h0.7M52.9 75.9h0.7M49.3 76.6h0.7M45.6 79.7h0.7M52.0 73.8h0.7M56.8 66.5h0.7M52.9 67.9h0.7M38.5 72.8h0.7M44.3 75.5h0.7M46.1 74.1h0.7M46.8 69.0h0.7M49.0 73.7h0.7M53.4 73.3h0.7M48.4 69.9h0.7M44.6 71.8h0.7M55.2 76.2h0.7M48.2 70.4h0.7M44.9 70.5h0.7M51.3 70.1h0.7M55.9 63.3h0.7M48.6 68.0h0.7M51.6 73.4h0.7M42.4 80.2h0.7M47.3 68.6h0.7M43.7 82.7h0.7M47.2 81.0h0.7M49.6 66.7h0.7M52.1 69.2h0.7M48.3 72.9h0.7M52.7 86.3h0.7M45.7 73.0h0.7M51.3 78.3h0.7M50.7 68.9h0.7M55.4 60.3h0.7M51.9 72.5h0.7M49.4 78.0h0.7M49.4 80.7h0.7M49.9 73.2h0.7M46.6 72.1h0.7M43.9 77.3h0.7M50.9 72.6h0.7M47.4 79.3h0.7M56.7 69.0h0.7M53.5 67.5h0.7M55.6 68.6h0.7M52.3 77.5h0.7M51.1 69.9h0.7M44.0 70.3h0.7M44.2 72.2h0.7M43.5 71.5h0.7M50.1 81.9h0.7M42.0 78.3h0.7M55.2 70.4h0.7M50.3 74.3h0.7M55.0 74.3h0.7M55.1 68.9h0.7M43.5 81.1h0.7M46.0 76.0h0.7M49.8 71.5h0.7M50.7 70.6h0.7M46.2 73.3h0.7M52.0 66.9h0.7M54.6 74.1h0.7M40.1 75.5h0.7M47.0 77.6h0.7M48.6 66.5h0.7M51.0 70.2h0.7M45.9 83.7h0.7M52.9 65.2h0.7M53.2 70.6h0.7M48.1 62.5h0.7M51.3 76.3h0.7M46.2 72.8h0.7M47.6 79.3h0.7M57.2 59.4h0.7M40.4 68.6h0.7M51.4 62.7h0.7M47.7 76.1h0.7M54.3 74.2h0.7M44.9 81.5h0.7M48.7 74.8h0.7M47.5 64.6h0.7M49.7 81.4h0.7M57.9 70.0h0.7M50.1 70.6h0.7M45.2 77.3h0.7M42.4 72.0h0.7M50.4 76.3h0.7M57.3 77.4h0.7M49.6 76.4h0.7M50.5 78.9h0.7M49.8 74.9h0.7M42.8 75.9h0.7M49.3 81.4h0.7M45.0 70.3h0.7M51.0 67.3h0.7M45.3 80.7h0.7M51.8 73.9h0.7M48.3 76.4h0.7M47.3 78.1h0.7M49.2 66.5h0.7M43.4 72.7h0.7M53.7 64.6h0.7M44.4 75.1h0.7M46.1 67.9h0.7M44.4 71.2h0.7M45.2 75.3h0.7M45.0 65.9h0.7M44.3 70.7h0.7M45.7 66.2h0.7M49.4 72.9h0.7M47.0 78.7h0.7M55.0 76.4h0.7M44.5 69.3h0.7M49.8 66.1h0.7M49.1 78.7h0.7M48.2 72.1h0.7M42.8 80.7h0.7M56.3 72.0h0.7M44.7 77.3h0.7M40.0 79.6h0.7M44.7 70.2h0.7M53.4 67.2h0.7M45.4 80.8h0.7M41.5 75.5h0.7M43.7 74.4h0.7M47.3 79.1h0.7M51.9 71.4h0.7M44.6 75.3h0.7M48.8 77.2h0.7M52.5 70.3h0.7M41.2 73.0h0.7M49.3 69.5h0.7M47.4 78.1h0.7M43.6 77.6h0.7M36.8 78.0h0.7M53.7 62.1h0.7M50.4 75.3h0.7M54.7 73.9h0.7M42.1 68.5h0.7M57.6 76.2h0.7M45.6 70.0h0.7M57.7 64.1h0.7M49.7 79.9h0.7M47.4 82.2h0.7M46.4 77.8h0.7M41.4 77.1h0.7M53.2 69.5h0.7M49.2 66.7h0.7M38.3 72.8h0.7M53.6 84.6h0.7M50.1 75.4h0.7M58.8 68.3h0.7M37.7 85.3h0.7M55.2 72.2h0.7M50.7 80.8h0.7M57.0 69.7h0.7M45.7 77.9h0.7M44.4 71.6h0.7M43.9 79.8h0.7M39.2 73.4h0.7M47.9 62.0h0.7M51.7 68.2h0.7M44.7 72.6h0.7M45.9 76.5h0.7M43.0 81.9h0.7M53.8 77.8h0.7M53.0 74.8h0.7M48.6 72.7h0.7M52.5 75.0h0.7M43.2 76.7h0.7M47.8 72.0h0.7M51.7 74.1h0.7M49.0 63.4h0.7M53.7 62.1h0.7M44.5 70.6h0.7M47.1 76.5h0.7M53.9 75.6h0.7M44.8 74.1h0.7M47.5 76.6h0.7M46.0 71.0h0.7M42.3 75.7h0.7M47.0 66.9h0.7M53.2 75.5h0.7M57.1 75.3h0.7M50.0 74.1h0.7M44.6 74.8h0.7M48.4 78.5h0.7M47.2 72.9h0.7M49.9 76.6h0.7M50.6 71.6h0.7M49.9 72.8h0.7M46.8 80.5h0.7M47.4 70.9h0.7M43.7 78.5h0.7M41.8 72.4h0.7M46.7 73.0h0.7M38.3 80.5h0.7M48.8 71.6h0.7M46.5 69.8h0.7M48.8 73.3h0.7M49.1 75.3h0.7M43.5 71.7h0.7M43.5 75.9h0.7M45.2 72.0h0.7M49.7 76.5h0.7M54.6 74.9h0.7M48.0 80.1h0.7M48.6 70.4h0.7M54.0 74.2h0.7M43.9 70.3h0.7M52.4 77.3h0.7M48.6 68.2h0.7M35.3 75.9h0.7M58.6 74.7h0.7M54.6 73.9h0.7M46.6 69.0h0.7M50.7 70.6h0.7M46.4 75.3h0.7M48.5 73.8h0.7M46.3 66.3h0.7M48.2 68.8h0.7M51.1 72.1h0.7M45.2 80.6h0.7M54.4 71.7h0.7M52.8 66.4h0.7M59.4 71.3h0.7M47.5 69.8h0.7M45.1 80.9h0.7M45.9 64.0h0.7M44.7 70.8h0.7M45.5 87.9h0.7M47.2 68.6h0.7M46.2 81.0h0.7M44.9 78.9h0.7M43.8 73.7h0.7M51.7 65.1h0.7M46.3 73.3h0.7M48.3 70.0h0.7M56.6 64.6h0.7M55.8 65.2h0.7M46.9 71.8h0.7M45.4 71.9h0.7M46.1 79.4h0.7M46.6 75.7h0.7M53.5 71.9h0.7M58.5 75.0h0.7M52.0 73.2h0.7M51.9 67.1h0.7M46.1 76.0h0.7M46.2 71.0h0.7M48.4 66.9h0.7M47.6 67.5h0.7M51.0 66.0h0.7M48.9 69.5h0.7M50.4 75.2h0.7M48.8 69.7h0.7M45.4 77.2h0.7M40.3 78.6h0.7M55.9 72.2h0.7M50.4 73.5h0.7M55.5 73.9h0.7M46.4 82.6h0.7M52.5 76.9h0.7M46.4 75.0h0.7M48.6 78.1h0.7M50.7 88.9h0.7M44.2 71.8h0.7M55.4 69.8h0.7M55.4 73.4h0.7M48.5 76.2h0.7M51.3 73.8h0.7M55.3 70.7h0.7M38.6 85.4h0.7M49.9 73.7h0.7M47.9 67.9h0.7M48.9 67.5h0.7M52.1 62.3h0.7M51.9 66.1h0.7M50.4 70.9h0.7M51.3 71.6h0.7M46.8 65.6h0.7M53.7 78.8h0.7M52.6 74.6h0.7M54.0 68.9h0.7M53.7 61.5h0.7M48.2 73.0h0.7M50.6 73.6h0.7M50.9 72.0h0.7M47.7 62.2h0.7M51.3 73.8h0.7M62.7 70.0h0.7M40.2 73.9h0.7M51.6 75.1h0.7M49.6 74.0h0.7M51.0 68.0h0.7M56.5 69.4h0.7M40.7 78.0h0.7M46.8 77.4h0.7M54.7 73.3h0.7M46.4 75.4h0.7M43.1 79.4h0.7M52.5 67.1h0.7M49.1 68.9h0.7M55.4 72.6h0.7M44.7 73.1h0.7M54.9 68.6h0.7M44.3 71.2h0.7M54.4 67.8h0.7M45.9 76.8h0.7M38.2 72.0h0.7M49.6 71.2h0.7M43.5 74.0h0.7M49.6 68.0h0.7M54.7 73.8h0.7M42.7 75.0h0.7M45.8 70.0h0.7M52.6 76.8h0.7M52.1 67.8h0.7M52.0 78.4h0.7M48.7 75.2h0.7M49.8 64.4h0.7M55.5 60.5h0.7M58.9 64.2h0.7M52.2 73.7h0.7M49.7 71.2h0.7M53.8 64.4h0.7M48.3 72.7h0.7M44.2 76.3h0.7M55.5 75.3h0.7M50.4 70.0h0.7M42.9 74.5h0.7M42.5 80.0h0.7M47.0 81.1h0.7M53.1 70.0h0.7M46.3 76.0h0.7M46.4 71.8h0.7M49.7 71.2h0.7M45.5 66.0h0.7M43.8 71.6h0.7M53.1 71.2h0.7M44.8 76.0h0.7M49.1 74.9h0.7M49.8 79.9h0.7M54.5 67.6h0.7M49.0 72.5h0.7M53.6 80.1h0.7M50.1 75.4h0.7M47.2 72.8h0.7M53.4 70.0h0.7M45.5 81.3h0.7M43.1 76.1h0.7M48.1 74.4h0.7M56.1 58.8h0.7M45.6 63.7h0.7M48.1 72.6h0.7M50.2 68.1h0.7M53.8 60.8h0.7M43.0 70.5h0.7M46.8 73.5h0.7M52.5 65.9h0.7M50.8 69.9h0.7M47.4 66.7h0.7M49.5 76.1h0.7M50.9 60.1h0.7M53.4 63.0h0.7M54.9 71.8h0.7M48.8 67.5h0.7M41.3 81.9h0.7M54.4 71.0h0.7M47.2 72.6h0.7M49.4 69.5h0.7M51.8 69.2h0.7M51.3 76.0h0.7M36.9 77.0h0.7M47.4 68.9h0.7M43.5 74.3h0.7M44.5 72.0h0.7M44.4 73.9h0.7M45.3 72.5h0.7M43.0 84.9h0.7M49.8 64.3h0.7M50.2 71.2h0.7M53.6 67.3h0.7M52.6 60.7h0.7M49.5 72.4h0.7M48.8 84.7h0.7M47.3 77.5h0.7M43.3 77.4h0.7M47.3 74.8h0.7M46.3 70.2h0.7M43.9 83.2h0.7M52.8 72.1h0.7M41.9 78.6h0.7M49.2 70.4h0.7M52.2 74.9h0.7M46.5 73.0h0.7M49.4 73.0h0.7M44.1 73.2h0.7M44.6 74.0h0.7M42.3 80.1h0.7M55.7 76.4h0.7M53.3 62.0h0.7M53.3 61.1h0.7M51.2 64.4h0.7M50.6 68.3h0.7M49.0 77.0h0.7M53.9 65.1h0.7M55.2 76.3h0.7M49.5 73.0h0.7M52.6 76.4h0.7M50.1 72.3h0.7M49.6 75.7h0.7M44.2 70.1h0.7M45.4 77.7h0.7M47.7 74.1h0.7M55.1 60.0h0.7M42.1 68.8h0.7M51.0 75.1h0.7M49.4 68.8h0.7M49.8 67.8h0.7M44.9 77.6h0.7M47.7 73.0h0.7M53.0 68.3h0.7M45.8 68.6h0.7M46.5 70.0h0.7M54.6 64.7h0.7M47.4 76.1h0.7M48.1 71.2h0.7M45.7 74.0h0.7M50.9 63.1h0.7M43.0 82.3h0.7M50.7 77.9h0.7M44.1 73.1h0.7M55.7 71.6h0.7M53.5 70.7h0.7M51.8 64.2h0.7M46.7 81.9h0.7M46.7 65.8h0.7M42.7 70.7h0.7M43.0 73.4h0.7M49.3 68.8h0.7M45.2 76.5h0.7M41.2 82.2h0.7M48.2 74.4h0.7M37.8 76.2h0.7M48.6 76.6h0.7M45.7 67.8h0.7M47.9 69.5h0.7M52.5 63.3h0.7M44.8 71.3h0.7M40.1 77.8h0.7M43.6 74.4h0.7M46.2 77.1h0.7M47.2 79.7h0.7M52.1 71.1h0.7M44.0 73.9h0.7M40.6 81.1h0.7M48.2 67.0h0.7M50.1 73.7h0.7M43.7 66.8h0.7M53.2 74.0h0.7M49.4 68.1h0.7M46.7 70.7h0.7M53.8 66.5h0.7M53.5 72.0h0.7M51.2 70.9h0.7M53.5 72.1h0.7M45.0 80.1h0.7M52.3 75.4h0.7M52.1 75.9h0.7M49.3 71.0h0.7M49.4 82.0h0.7M54.4 64.1h0.7M49.6 71.9h0.7M42.5 76.9h0.7M43.0 80.7h0.7M50.6 75.2h0.7M44.6 70.4h0.7M48.9 77.2h0.7M50.4 72.4h0.7M47.9 76.1h0.7M43.8 65.5h0.7M46.5 75.9h0.7M50.9 73.7h0.7M49.6 65.8h0.7M57.0 59.1h0.7M38.6 73.3h0.7M49.7 75.9h0.7M44.4 75.5h0.7M54.1 69.8h0.7M39.8 74.9h0.7M49.7 76.1h0.7M48.2 72.0h0.7M48.6 78.8h0.7M43.2 75.6h0.7M45.6 73.7h0.7M49.7 87.3h0.7M42.1 78.3h0.7M45.6 73.2h0.7M48.6 71.0h0.7M45.3 71.4h0.7M47.4 83.7h0.7M53.0 77.8h0.7M49.2 66.9h0.7M45.3 66.3h0.7M52.4 74.8h0.7M49.8 78.9h0.7M53.5 70.5h0.7M50.9 77.4h0.7M42.8 76.8h0.7M46.1 76.2h0.7M49.0 62.3h0.7M45.2 68.6h0.7M55.5 68.0h0.7M45.5 73.6h0.7M58.9 71.5h0.7M47.4 75.6h0.7M46.5 72.0h0.7M58.9 60.8h0.7M56.9 71.6h0.7M49.0 75.8h0.7M45.0 70.5h0.7M51.1 71.3h0.7M56.9 68.5h0.7M46.0 74.0h0.7M41.4 80.0h0.7M51.3 75.6h0.7M49.5 72.5h0.7M45.9 69.7h0.7M51.8 64.8h0.7M47.6 69.3h0.7M52.4 68.6h0.7M46.0 78.2h0.7M55.2 69.9h0.7M57.5 62.7h0.7M46.4 65.5h0.7M51.0 71.7h0.7M52.3 73.1h0.7M55.8 63.8h0.7M49.4 79.0h0.7M47.0 71.9h0.7M47.4 68.2h0.7M54.1 70.1h0.7M44.4 72.7h0.7M43.2 66.8h0.7M51.4 75.6h0.7M47.1 70.4h0.7M47.6 72.4h0.7M41.2 75.7h0.7M44.8 70.0h0.7M48.0 65.7h0.7M45.0 76.7h0.7M49.4 74.2h0.7M43.8 64.7h0.7M48.1 79.2h0.7M45.9 69.2h0.7M42.5 75.9h0.7" stroke="#000" stroke-width="0.65" stroke-opacity="0.85" fill="none"/>
<path d="M55.8 67.2h0.6M48.6 71.8h0.6M39.9 85.8h0.6M63.1 56.4h0.6M35.6 71.0h0.6M54.9 73.0h0.6M53.0 71.9h0.6M60.2 60.3h0.6M51.3 80.4h0.6M63.9 70.2h0.6M38.8 72.4h0.6M54.9 59.4h0.6M51.7 85.6h0.6M54.2 81.8h0.6M61.1 53.6h0.6M46.6 63.7h0.6M47.7 68.0h0.6M65.0 52.1h0.6M45.0 61.3h0.6M43.8 78.5h0.6M49.4 59.9h0.6M34.8 75.2h0.6M63.3 67.8h0.6M56.0 59.2h0.6M45.2 76.1h0.6M48.2 80.0h0.6M55.4 74.7h0.6M48.4 70.2h0.6M42.6 79.8h0.6M50.3 63.5h0.6M49.9 78.6h0.6M41.4 69.7h0.6M47.9 74.1h0.6M55.9 73.1h0.6M42.8 83.9h0.6M63.6 76.5h0.6M55.4 80.2h0.6M42.3 74.4h0.6M38.9 82.2h0.6M34.5 74.9h0.6M54.0 70.4h0.6M43.3 80.2h0.6M63.9 84.9h0.6M58.7 64.2h0.6M47.7 53.6h0.6M58.8 56.5h0.6M48.3 74.9h0.6M35.3 74.2h0.6M53.6 59.8h0.6M50.6 67.8h0.6M60.4 64.9h0.6M49.3 71.1h0.6M54.9 58.3h0.6M60.5 69.3h0.6M52.9 63.8h0.6M51.4 65.6h0.6M46.3 62.1h0.6M47.9 66.3h0.6M55.0 73.5h0.6M49.7 56.3h0.6M45.7 75.6h0.6M67.1 62.1h0.6M47.3 71.0h0.6M58.9 65.5h0.6M43.8 67.2h0.6M54.6 80.4h0.6M71.3 61.6h0.6M48.8 75.6h0.6M31.4 73.2h0.6M39.3 72.4h0.6M52.4 79.3h0.6M75.2 63.7h0.6M53.1 71.9h0.6M63.4 70.9h0.6M39.2 76.8h0.6M51.8 68.3h0.6M55.2 66.8h0.6M66.1 60.1h0.6M37.0 69.8h0.6M59.4 72.0h0.6M58.9 76.2h0.6M36.4 74.3h0.6M43.1 65.4h0.6M49.7 75.8h0.6M28.7 86.8h0.6M42.9 55.6h0.6M58.2 71.8h0.6M47.4 76.2h0.6M37.2 80.1h0.6M72.0 71.0h0.6M52.8 70.6h0.6M54.2 60.4h0.6M61.5 61.5h0.6M40.8 70.9h0.6M52.5 61.9h0.6M50.0 75.8h0.6M46.8 69.7h0.6M47.1 70.4h0.6M58.3 80.3h0.6M62.9 67.6h0.6M54.9 75.0h0.6M51.4 75.8h0.6M50.2 76.5h0.6M59.9 76.6h0.6M42.9 78.9h0.6M55.3 85.1h0.6M44.9 67.7h0.6M44.3 75.1h0.6M42.3 66.1h0.6M43.5 75.0h0.6M68.2 59.0h0.6M67.5 68.8h0.6M50.2 65.2h0.6M49.6 72.4h0.6M65.3 53.2h0.6M48.9 65.8h0.6M43.4 66.8h0.6M52.7 69.9h0.6M43.8 61.0h0.6M61.5 61.6h0.6M50.0 72.3h0.6M63.1 52.4h0.6M38.1 73.9h0.6M48.5 59.7h0.6M51.5 89.1h0.6M57.5 51.2h0.6M55.1 82.3h0.6M52.5 75.4h0.6M55.4 63.0h0.6M54.0 56.5h0.6M46.5 85.8h0.6M55.9 83.3h0.6M34.5 78.2h0.6M49.6 69.5h0.6M54.4 78.0h0.6M48.9 76.4h0.6M54.6 87.2h0.6M44.2 72.2h0.6M46.9 80.5h0.6M47.9 61.7h0.6M72.2 70.6h0.6M31.4 83.4h0.6M38.2 62.0h0.6M46.1 74.6h0.6M53.1 67.5h0.6M52.1 88.9h0.6M47.2 71.5h0.6M41.9 80.0h0.6M58.4 69.5h0.6" stroke="#000" stroke-width="0.60" stroke-opacity="0.4" fill="none"/>
<path d="M139.2 62.9h0.6M130.2 68.6h0.6M137.2 66.1h0.6M133.3 66.4h0.6M131.4 72.9h0.6M133.6 71.9h0.6M135.1 74.6h0.6M128.0 75.2h0.6M137.9 65.1h0.6M123.7 74.4h0.6M134.7 61.0h0.6M136.5 66.1h0.6M131.3 70.6h0.6M128.9 74.8h0.6M131.4 72.2h0.6M135.1 69.6h0.6M136.2 68.0h0.6M134.2 70.4h0.6M138.8 68.9h0.6M127.9 71.0h0.6M132.8 69.0h0.6M122.2 74.3h0.6M137.7 70.0h0.6M134.2 71.8h0.6M130.6 73.2h0.6M136.9 64.4h0.6M135.9 68.2h0.6M116.8 80.7h0.6M132.3 70.5h0.6M124.1 75.6h0.6M138.2 67.3h0.6M144.8 60.6h0.6M130.1 73.7h0.6M132.6 70.6h0.6M130.4 71.0h0.6M133.8 69.0h0.6M135.0 67.4h0.6M139.7 66.9h0.6M126.5 73.8h0.6M140.7 65.1h0.6M126.6 73.4h0.6M131.9 67.3h0.6M139.1 67.5h0.6M134.7 66.3h0.6M127.7 75.0h0.6M128.7 73.7h0.6M127.8 69.8h0.6M130.8 69.3h0.6M137.6 65.5h0.6M124.3 74.1h0.6M133.3 67.0h0.6M136.0 69.3h0.6M134.7 68.1h0.6M134.9 69.3h0.6M139.6 64.2h0.6M134.9 69.1h0.6M135.8 66.2h0.6M135.0 68.4h0.6M142.1 64.7h0.6M121.9 77.6h0.6M138.4 65.0h0.6M129.5 69.9h0.6M130.7 71.8h0.6M127.2 74.6h0.6M121.8 77.1h0.6M129.2 70.8h0.6M128.9 73.9h0.6M137.2 72.3h0.6M123.8 75.5h0.6M140.0 65.7h0.6M133.8 70.0h0.6M128.0 67.6h0.6M128.4 73.3h0.6M127.1 72.4h0.6M127.4 76.8h0.6M128.8 72.2h0.6M131.2 69.3h0.6M130.8 70.8h0.6M124.6 76.0h0.6M130.0 70.7h0.6M127.2 73.8h0.6M131.5 67.9h0.6M141.7 63.2h0.6M136.1 69.3h0.6M132.4 74.6h0.6M124.1 77.6h0.6M124.7 76.2h0.6M124.2 78.5h0.6M136.9 69.3h0.6M129.6 75.8h0.6M133.5 71.9h0.6M128.6 72.6h0.6M132.8 70.5h0.6M139.6 65.5h0.6M128.7 73.5h0.6M130.4 72.1h0.6M126.9 72.4h0.6M134.5 64.1h0.6M125.8 73.3h0.6M123.9 71.7h0.6M124.7 75.8h0.6M124.5 75.8h0.6M132.8 66.3h0.6M146.4 61.9h0.6M127.6 75.5h0.6M137.2 67.1h0.6M135.1 72.0h0.6M128.1 77.4h0.6M129.3 69.8h0.6M131.8 72.9h0.6M128.8 73.7h0.6M142.7 63.9h0.6M122.8 79.0h0.6M133.3 68.0h0.6M133.2 68.4h0.6M128.1 71.4h0.6M132.0 68.8h0.6M136.6 67.1h0.6M131.3 67.8h0.6M133.1 67.4h0.6M136.3 68.8h0.6M121.1 78.0h0.6M140.3 65.6h0.6M142.2 59.2h0.6M136.4 65.7h0.6M136.8 65.9h0.6M124.5 75.8h0.6M130.8 70.1h0.6M128.6 74.9h0.6M128.8 72.6h0.6M137.2 66.9h0.6M127.7 73.5h0.6M132.0 72.0h0.6M121.4 76.9h0.6M132.3 72.7h0.6M133.0 70.8h0.6M128.4 73.4h0.6M128.2 73.2h0.6M142.6 64.2h0.6M126.6 76.5h0.6M127.4 75.8h0.6M128.1 74.1h0.6M139.3 67.3h0.6M143.3 62.8h0.6M135.1 71.1h0.6M128.2 73.1h0.6M127.6 69.0h0.6M139.1 68.5h0.6M127.3 74.1h0.6M138.5 63.4h0.6M139.3 64.9h0.6M131.5 68.9h0.6M137.6 71.2h0.6M136.5 68.4h0.6M138.7 62.4h0.6M127.0 75.2h0.6M137.9 65.5h0.6M132.0 74.7h0.6M126.8 71.8h0.6M130.2 66.8h0.6M130.9 71.4h0.6M126.4 73.7h0.6M123.1 75.8h0.6M124.8 70.9h0.6M140.2 65.7h0.6M144.2 65.7h0.6M133.5 65.3h0.6M139.5 67.8h0.6M128.7 71.6h0.6M134.0 74.3h0.6M134.0 70.1h0.6M126.0 74.3h0.6M127.9 75.8h0.6M133.1 70.9h0.6M129.7 70.8h0.6M127.1 75.5h0.6M133.5 68.3h0.6M128.8 68.8h0.6M139.5 69.7h0.6M131.6 70.0h0.6M129.8 70.7h0.6M133.0 70.5h0.6M129.5 68.8h0.6M127.0 71.0h0.6M129.3 71.3h0.6M135.5 66.9h0.6M135.5 68.2h0.6M140.0 67.4h0.6M122.5 76.1h0.6M130.4 72.7h0.6M130.4 72.9h0.6M131.8 68.3h0.6M129.8 72.5h0.6M128.3 71.0h0.6M137.3 69.1h0.6M133.4 70.5h0.6M125.8 74.9h0.6M137.7 63.5h0.6M137.4 67.0h0.6M128.2 71.5h0.6M137.2 68.4h0.6M128.0 73.1h0.6M137.2 65.1h0.6M131.8 72.7h0.6M128.5 74.6h0.6M129.4 71.0h0.6M129.1 75.1h0.6M132.7 69.3h0.6M132.6 69.4h0.6M132.3 70.5h0.6M128.3 71.5h0.6M132.3 69.9h0.6M123.5 79.8h0.6M134.8 71.8h0.6M137.8 65.9h0.6M135.1 71.9h0.6M129.9 71.9h0.6M131.4 71.7h0.6M132.2 72.3h0.6M129.4 73.0h0.6M131.4 76.2h0.6M127.3 74.3h0.6M137.1 64.3h0.6M133.3 72.5h0.6M136.7 66.3h0.6M130.4 71.0h0.6M129.3 65.8h0.6M132.1 72.6h0.6M135.3 70.0h0.6M137.2 68.6h0.6M134.3 71.0h0.6M130.2 75.5h0.6M127.8 73.3h0.6M141.8 65.7h0.6M129.7 70.4h0.6M130.1 71.1h0.6M140.9 66.6h0.6M138.2 67.0h0.6M133.5 66.5h0.6M130.2 72.5h0.6M144.3 61.5h0.6M133.2 67.8h0.6M135.4 69.1h0.6M130.7 70.5h0.6M122.8 73.5h0.6M123.7 73.8h0.6M136.0 71.6h0.6M132.5 66.8h0.6M131.0 71.7h0.6" stroke="#000" stroke-width="0.60" stroke-opacity="0.8" fill="none"/>
<path d="M151.1 59.6h0.6M128.4 70.3h0.6M121.1 77.9h0.6M119.6 79.3h0.6M148.7 58.3h0.6M128.9 72.1h0.6M124.1 79.7h0.6M136.5 62.0h0.6M148.9 61.3h0.6M141.9 69.5h0.6M123.7 76.8h0.6M132.6 70.6h0.6M128.5 75.1h0.6M121.0 82.9h0.6M150.9 55.2h0.6M134.6 69.4h0.6M122.9 76.8h0.6M150.0 59.9h0.6M153.1 56.8h0.6M147.7 61.7h0.6M126.8 73.6h0.6M125.1 75.9h0.6M136.1 66.6h0.6M138.1 65.2h0.6M149.0 58.9h0.6M152.1 56.8h0.6M149.0 56.5h0.6M132.1 74.6h0.6M138.8 66.0h0.6M121.2 75.2h0.6M137.8 69.6h0.6M120.1 77.5h0.6M122.8 78.5h0.6M122.6 77.4h0.6M129.2 73.5h0.6M129.4 73.2h0.6M142.5 62.4h0.6M121.1 78.6h0.6M124.5 80.9h0.6M139.0 61.0h0.6M142.0 64.2h0.6M143.7 63.9h0.6M142.5 61.3h0.6M140.1 62.2h0.6M140.1 70.4h0.6M143.9 61.9h0.6M123.5 81.7h0.6M126.4 76.1h0.6M144.4 62.6h0.6M125.7 76.5h0.6M137.7 68.5h0.6M128.8 75.9h0.6M134.0 70.6h0.6M147.8 60.4h0.6M141.7 64.7h0.6M135.4 71.7h0.6M128.9 75.1h0.6M145.5 59.4h0.6M140.7 63.5h0.6M134.2 70.3h0.6M148.2 58.4h0.6M142.2 63.1h0.6M151.7 55.2h0.6M141.4 63.9h0.6M150.4 59.3h0.6M138.7 68.6h0.6M143.3 63.2h0.6M150.1 63.3h0.6M121.5 78.1h0.6M138.4 73.9h0.6M140.7 67.3h0.6M121.0 79.8h0.6M145.5 60.5h0.6M140.4 58.7h0.6M151.0 57.5h0.6M131.6 71.7h0.6M136.9 72.1h0.6M148.8 56.2h0.6M134.9 73.4h0.6M147.3 59.8h0.6M133.9 71.3h0.6M127.5 68.3h0.6M128.3 73.9h0.6M125.5 74.7h0.6M134.2 71.0h0.6M124.2 76.6h0.6M146.1 58.6h0.6M153.5 58.3h0.6M122.6 79.1h0.6M121.0 80.0h0.6M119.6 81.9h0.6M152.2 59.6h0.6M121.0 78.6h0.6M140.7 61.8h0.6M127.5 70.9h0.6M126.8 77.7h0.6M127.8 75.5h0.6M142.6 63.9h0.6M118.6 79.3h0.6M148.7 59.5h0.6M138.3 66.7h0.6M126.3 74.2h0.6M124.9 74.3h0.6M143.7 67.9h0.6M140.7 65.5h0.6M128.9 71.8h0.6M128.7 70.3h0.6M133.8 68.1h0.6M151.0 59.5h0.6M138.1 68.6h0.6M147.6 59.7h0.6M140.9 65.0h0.6M137.7 66.3h0.6M134.3 66.8h0.6M143.6 66.0h0.6M136.0 69.1h0.6M146.5 66.7h0.6M124.0 74.8h0.6M129.5 72.4h0.6M149.9 60.6h0.6M132.0 70.5h0.6M146.4 57.8h0.6M150.2 56.2h0.6M138.8 66.6h0.6M122.3 78.5h0.6M144.8 61.9h0.6M142.8 65.9h0.6M129.7 74.9h0.6M149.0 60.0h0.6M135.3 68.8h0.6M120.1 78.6h0.6M121.4 79.6h0.6M127.4 76.3h0.6M139.8 65.7h0.6M147.4 61.4h0.6M121.5 77.5h0.6M117.7 77.7h0.6M139.1 63.8h0.6M133.6 71.7h0.6M134.3 70.4h0.6M148.8 63.0h0.6M150.6 58.2h0.6M153.2 58.3h0.6M147.1 63.6h0.6M119.6 81.9h0.6M123.0 75.8h0.6M138.8 65.9h0.6M152.0 57.5h0.6M120.2 76.9h0.6M136.9 68.7h0.6M133.4 72.4h0.6M132.1 69.8h0.6M129.9 77.0h0.6M127.6 73.4h0.6M126.5 74.3h0.6M121.8 77.5h0.6M137.0 65.9h0.6M134.5 70.3h0.6M143.4 63.2h0.6M142.6 67.5h0.6M152.4 58.3h0.6M130.9 73.0h0.6M149.0 58.7h0.6M130.3 68.9h0.6M141.4 64.3h0.6M145.7 59.6h0.6M133.3 72.3h0.6M134.0 69.6h0.6M142.3 67.7h0.6M123.1 78.9h0.6M137.9 68.8h0.6M122.0 78.5h0.6M126.5 75.3h0.6M140.9 66.3h0.6M153.4 58.3h0.6M152.6 55.1h0.6M128.1 74.9h0.6M126.4 81.0h0.6M136.5 67.7h0.6M133.6 69.3h0.6M130.9 70.1h0.6M143.7 59.5h0.6M144.5 65.1h0.6M138.1 66.9h0.6M140.5 65.8h0.6M140.8 69.2h0.6M144.8 67.9h0.6M149.9 56.6h0.6M152.7 59.1h0.6M153.4 57.7h0.6M148.9 60.2h0.6M122.6 78.6h0.6M134.2 69.4h0.6M147.5 64.0h0.6M129.4 74.2h0.6M140.0 66.3h0.6M121.7 81.0h0.6M126.5 76.9h0.6M132.9 71.4h0.6M121.2 79.2h0.6M135.2 72.9h0.6M127.0 75.6h0.6M148.5 59.4h0.6M128.6 71.3h0.6M131.4 70.7h0.6M145.3 59.4h0.6M138.1 67.0h0.6M120.4 79.6h0.6M123.8 71.9h0.6M139.8 65.6h0.6M126.1 76.6h0.6M127.3 74.7h0.6M139.2 63.8h0.6M137.1 70.4h0.6M127.1 72.8h0.6M136.6 65.0h0.6M139.4 63.4h0.6M119.8 79.4h0.6M129.0 75.3h0.6M130.4 74.8h0.6M149.4 59.5h0.6M118.9 77.3h0.6M129.8 71.0h0.6M124.2 74.3h0.6M142.5 63.3h0.6M144.9 58.0h0.6M120.5 79.2h0.6M149.3 60.5h0.6M142.6 63.3h0.6M126.5 75.9h0.6M149.4 56.8h0.6M127.1 71.0h0.6M145.3 60.3h0.6M122.3 80.4h0.6M135.5 71.0h0.6M135.6 67.4h0.6M151.1 60.6h0.6M147.3 59.6h0.6M139.2 69.5h0.6M120.7 79.9h0.6M133.0 69.3h0.6M132.4 72.6h0.6M152.4 55.1h0.6M141.2 62.5h0.6M131.0 68.3h0.6M131.4 72.0h0.6M145.2 61.7h0.6M121.7 78.0h0.6M146.6 60.0h0.6M143.4 66.4h0.6M133.2 69.2h0.6M142.5 62.1h0.6M133.7 72.7h0.6M124.9 79.2h0.6M133.4 70.8h0.6M118.3 76.4h0.6M120.8 77.4h0.6M134.4 70.7h0.6M147.3 60.5h0.6M127.2 77.9h0.6M134.5 66.1h0.6M153.4 57.8h0.6M146.7 59.4h0.6M151.4 60.6h0.6M141.9 63.9h0.6M140.1 67.8h0.6M138.1 65.3h0.6M137.9 63.6h0.6M133.5 67.4h0.6M130.4 70.7h0.6M125.6 73.0h0.6M122.0 80.7h0.6M132.8 73.6h0.6M145.6 62.2h0.6M136.6 65.4h0.6M124.0 76.2h0.6M146.2 59.6h0.6M121.4 81.7h0.6M151.3 58.4h0.6M141.7 65.4h0.6M137.4 66.3h0.6M130.7 67.3h0.6M146.4 59.2h0.6M117.4 78.5h0.6M119.4 80.6h0.6M136.7 68.0h0.6M127.9 72.0h0.6M132.0 70.1h0.6M138.9 69.9h0.6M118.9 77.8h0.6M151.8 55.2h0.6M141.9 63.6h0.6M121.1 76.9h0.6M143.8 61.9h0.6M137.6 68.3h0.6M144.3 66.5h0.6M142.3 59.8h0.6M153.1 56.4h0.6M122.6 77.6h0.6M153.2 56.2h0.6M134.9 68.6h0.6M125.1 75.0h0.6M132.6 72.9h0.6M130.6 70.9h0.6M149.6 58.5h0.6M136.8 67.7h0.6M120.9 79.0h0.6M143.2 62.8h0.6M136.9 69.9h0.6M146.9 60.7h0.6M120.2 79.5h0.6M148.6 59.4h0.6M148.6 57.2h0.6M117.8 78.9h0.6M134.0 67.2h0.6M122.9 77.8h0.6M136.2 66.5h0.6M120.4 76.6h0.6M149.7 59.3h0.6M125.4 76.8h0.6M139.9 61.5h0.6M143.1 67.2h0.6M129.7 72.7h0.6M125.8 75.0h0.6M151.6 59.9h0.6M119.9 79.5h0.6M126.6 73.3h0.6M132.2 75.9h0.6M137.7 64.6h0.6M131.2 71.3h0.6M123.2 79.0h0.6M137.2 64.9h0.6M143.6 62.7h0.6M143.5 63.9h0.6M138.1 72.3h0.6M128.2 71.6h0.6M118.7 80.1h0.6M137.8 68.5h0.6M140.5 65.3h0.6M132.5 67.8h0.6M152.4 57.8h0.6M125.6 75.7h0.6M147.4 61.4h0.6M144.8 64.8h0.6M151.0 60.2h0.6M151.2 58.7h0.6M127.0 75.2h0.6M149.5 56.4h0.6M132.4 70.4h0.6M142.4 64.3h0.6M151.3 56.7h0.6M139.3 66.1h0.6M137.9 65.0h0.6M122.5 81.1h0.6M141.6 69.3h0.6M126.4 74.0h0.6M132.4 71.6h0.6M131.4 70.9h0.6M153.8 58.8h0.6M141.2 65.6h0.6M143.9 63.0h0.6M124.2 75.9h0.6M129.2 73.2h0.6M148.0 57.6h0.6M123.3 78.5h0.6M151.0 56.2h0.6M133.9 70.9h0.6M132.2 71.2h0.6M137.6 69.7h0.6M133.9 69.6h0.6M136.0 70.6h0.6M132.2 68.7h0.6M143.6 64.4h0.6M127.8 73.4h0.6M124.4 76.7h0.6M133.7 70.0h0.6M122.5 79.7h0.6M131.9 66.4h0.6M136.1 68.9h0.6M144.2 59.1h0.6M123.5 79.6h0.6M130.2 67.7h0.6M144.6 59.9h0.6M128.4 69.6h0.6M149.4 62.7h0.6M142.2 61.0h0.6M120.0 79.6h0.6M131.3 70.2h0.6M143.3 59.0h0.6M136.5 67.1h0.6M142.7 65.2h0.6M152.9 56.2h0.6M143.1 65.5h0.6M137.1 66.6h0.6M148.0 59.9h0.6M133.0 69.4h0.6M119.1 80.7h0.6M130.0 76.8h0.6M139.6 66.6h0.6M151.8 57.8h0.6M139.0 64.7h0.6M127.5 72.4h0.6M154.7 58.7h0.6M131.2 69.0h0.6M125.4 73.5h0.6M137.6 66.9h0.6M130.0 71.4h0.6M124.4 80.8h0.6M140.8 59.5h0.6M143.0 64.2h0.6M153.2 58.0h0.6M122.0 75.3h0.6M149.6 57.4h0.6M146.8 61.8h0.6M129.0 76.8h0.6M134.2 67.4h0.6M138.7 62.7h0.6M130.5 74.3h0.6M123.8 80.2h0.6M147.3 59.6h0.6" stroke="#000" stroke-width="0.60" stroke-opacity="0.6" fill="none"/>
<path d="M153.5 55.0h0.6M153.1 55.3h0.6M151.6 55.8h0.6M163.8 46.3h0.6M151.5 55.9h0.6M164.0 47.4h0.6M151.7 55.1h0.6M154.7 53.7h0.6M153.0 55.3h0.6M166.0 47.7h0.6M151.7 57.3h0.6M162.8 47.5h0.6M155.0 55.0h0.6M164.7 47.0h0.6M162.3 50.3h0.6" stroke="#000" stroke-width="0.60" stroke-opacity="0.3" fill="none"/>
<path d="M227.5 73.1h0.7M228.4 59.9h0.7M228.9 65.7h0.7M223.7 73.9h0.7M220.4 73.5h0.7M225.6 66.1h0.7M224.8 69.1h0.7M222.6 73.0h0.7M215.7 78.8h0.7M211.1 76.1h0.7M224.9 71.1h0.7M226.4 68.6h0.7M227.7 70.1h0.7M217.0 78.4h0.7M227.1 66.5h0.7M217.2 70.3h0.7M224.6 70.3h0.7M226.6 72.8h0.7M218.6 75.3h0.7M219.2 73.6h0.7M214.1 83.3h0.7M215.7 72.5h0.7M213.6 79.4h0.7M223.6 68.3h0.7M222.4 70.9h0.7M227.0 67.8h0.7M225.9 72.5h0.7M217.4 71.6h0.7M223.1 68.7h0.7M217.8 69.5h0.7M225.9 69.6h0.7M223.1 69.0h0.7M217.3 75.5h0.7M220.6 69.0h0.7M221.8 70.1h0.7M221.7 74.1h0.7M226.5 67.3h0.7M231.9 65.8h0.7M220.7 73.4h0.7M219.7 71.6h0.7M208.0 76.4h0.7M222.6 73.3h0.7M219.9 72.9h0.7M211.8 80.9h0.7M220.9 66.1h0.7M223.0 65.7h0.7M215.3 69.7h0.7M218.9 70.7h0.7M218.2 76.6h0.7M226.8 69.2h0.7M213.9 76.6h0.7M220.5 72.4h0.7M233.4 65.2h0.7M221.9 70.2h0.7M225.0 70.0h0.7M221.4 71.8h0.7M212.9 71.3h0.7M221.3 70.4h0.7M226.0 72.0h0.7M216.0 74.1h0.7M223.6 69.5h0.7M227.8 65.2h0.7M227.1 66.1h0.7M215.1 79.0h0.7M216.5 74.1h0.7M212.1 75.1h0.7M223.6 61.1h0.7M224.5 67.6h0.7M223.1 64.7h0.7M214.9 70.8h0.7M216.8 76.8h0.7M223.3 72.0h0.7M220.0 67.0h0.7M218.6 75.8h0.7M223.4 71.3h0.7M224.4 67.1h0.7M224.2 71.5h0.7M214.3 71.8h0.7M209.2 76.6h0.7M218.7 69.3h0.7M221.4 68.3h0.7M221.8 73.6h0.7M218.0 70.1h0.7M216.8 71.4h0.7M224.6 66.5h0.7M222.0 71.6h0.7M222.2 69.9h0.7M218.0 76.2h0.7M217.8 72.0h0.7M221.2 68.0h0.7M216.0 73.8h0.7M215.3 75.8h0.7M219.0 70.5h0.7M228.8 67.0h0.7M225.4 73.7h0.7M229.0 64.5h0.7M221.3 71.6h0.7M222.1 74.7h0.7M213.7 75.0h0.7M217.8 71.5h0.7M228.2 63.6h0.7M224.3 70.5h0.7M226.6 69.2h0.7M225.5 68.1h0.7M222.0 71.1h0.7M222.6 74.1h0.7M223.8 72.2h0.7M223.7 65.8h0.7M224.4 69.2h0.7M224.7 69.3h0.7M223.7 71.7h0.7M217.6 73.4h0.7M219.7 70.7h0.7M216.4 73.6h0.7M225.0 63.9h0.7M210.7 78.7h0.7M220.0 70.6h0.7M235.3 62.9h0.7M218.8 70.3h0.7M215.3 74.4h0.7M220.6 69.2h0.7M227.4 64.1h0.7M222.0 72.9h0.7M224.6 67.8h0.7M223.1 71.4h0.7M218.5 70.2h0.7M238.9 59.4h0.7M220.1 67.5h0.7M218.5 72.0h0.7M218.7 71.8h0.7M224.7 70.6h0.7M224.4 69.7h0.7M225.8 67.7h0.7M223.8 72.0h0.7M214.6 76.6h0.7M225.5 70.0h0.7M221.3 73.5h0.7M220.3 71.9h0.7M213.7 75.9h0.7M219.3 73.7h0.7M217.5 72.8h0.7M222.3 71.8h0.7M215.7 78.4h0.7M223.3 72.3h0.7M222.1 69.7h0.7M214.3 72.7h0.7M218.5 73.1h0.7M217.2 73.9h0.7M228.2 69.6h0.7M208.0 79.6h0.7M219.8 71.8h0.7M214.1 78.5h0.7M219.0 71.6h0.7M226.2 67.5h0.7M220.8 76.5h0.7M224.6 73.2h0.7M218.3 75.2h0.7M232.6 64.2h0.7M225.5 65.7h0.7M228.7 67.8h0.7M214.9 76.0h0.7M216.4 75.4h0.7M227.0 65.9h0.7M220.9 71.6h0.7M220.3 71.5h0.7M224.1 70.3h0.7M217.1 78.3h0.7M226.5 68.7h0.7M219.9 67.7h0.7M223.2 67.3h0.7M216.3 70.4h0.7M223.6 67.5h0.7M218.9 74.6h0.7M227.5 68.1h0.7M227.2 65.6h0.7M227.1 68.0h0.7M223.7 67.6h0.7M223.4 65.9h0.7M205.7 78.4h0.7M225.3 66.2h0.7M222.3 74.6h0.7M220.7 68.0h0.7M222.1 74.3h0.7M216.3 78.6h0.7M218.8 72.6h0.7M225.4 68.4h0.7M228.7 64.5h0.7M218.6 73.2h0.7M218.0 75.5h0.7M229.7 65.5h0.7M218.5 76.1h0.7M234.5 65.4h0.7M222.7 71.4h0.7M217.7 74.8h0.7M227.1 67.1h0.7M231.4 65.2h0.7M212.8 74.2h0.7M230.8 65.9h0.7M220.7 72.3h0.7M228.7 63.7h0.7M222.7 76.4h0.7M212.3 75.0h0.7M223.5 67.4h0.7M227.2 68.0h0.7M230.5 59.4h0.7M230.1 63.0h0.7M223.6 65.4h0.7M219.4 70.0h0.7M219.0 72.6h0.7M220.8 72.6h0.7M219.0 76.1h0.7M221.5 73.4h0.7M209.9 82.6h0.7M223.7 71.3h0.7M221.2 70.1h0.7M237.1 63.4h0.7M225.3 67.2h0.7M218.6 71.5h0.7M226.9 71.7h0.7M216.4 77.0h0.7M219.0 73.6h0.7M213.0 79.3h0.7M230.7 67.2h0.7M223.3 66.1h0.7M215.5 75.1h0.7M220.1 68.9h0.7M227.1 67.6h0.7M223.7 67.8h0.7M225.8 72.0h0.7M218.0 75.1h0.7M217.5 71.7h0.7M222.4 70.5h0.7M225.2 65.2h0.7M217.6 74.1h0.7M216.7 76.1h0.7M228.4 67.1h0.7M214.4 70.7h0.7M227.2 66.2h0.7M223.9 70.9h0.7M227.0 68.2h0.7M232.7 66.6h0.7M223.9 65.9h0.7M226.7 69.0h0.7M216.2 73.1h0.7M218.5 73.9h0.7M225.9 69.3h0.7M231.0 66.5h0.7M228.6 64.6h0.7M234.5 62.6h0.7M222.0 67.5h0.7M221.1 67.5h0.7M228.0 68.2h0.7M222.0 70.7h0.7M219.5 68.1h0.7M215.2 73.2h0.7M227.2 67.2h0.7M218.3 77.8h0.7M226.0 70.9h0.7M215.4 77.7h0.7M225.4 63.4h0.7M216.3 74.5h0.7M227.0 68.6h0.7M214.0 77.6h0.7M220.1 73.3h0.7M227.9 66.1h0.7M220.0 77.2h0.7M224.2 73.4h0.7M219.3 72.5h0.7M208.3 77.7h0.7M226.3 73.6h0.7M223.5 68.2h0.7M217.6 77.3h0.7M227.5 72.3h0.7M216.4 72.1h0.7M217.0 75.2h0.7M221.5 70.2h0.7M219.0 74.4h0.7M234.6 62.9h0.7M216.2 80.4h0.7M226.6 69.2h0.7M227.2 67.2h0.7M212.9 80.4h0.7M212.3 76.8h0.7M224.4 68.1h0.7M222.3 76.9h0.7M222.9 67.9h0.7M227.3 65.7h0.7M220.0 72.4h0.7M214.9 72.9h0.7M204.6 77.1h0.7M224.4 72.1h0.7M215.9 72.9h0.7M222.9 68.7h0.7M222.7 69.3h0.7M213.3 74.2h0.7M229.7 62.4h0.7M227.9 67.2h0.7M229.6 72.2h0.7M216.6 76.7h0.7M220.7 73.8h0.7M217.0 70.1h0.7M219.7 72.4h0.7M214.4 72.9h0.7M225.3 70.7h0.7M222.8 69.6h0.7M223.9 69.6h0.7M219.1 72.6h0.7M228.0 65.0h0.7M220.9 67.3h0.7M208.1 82.2h0.7M216.7 70.7h0.7M220.1 68.9h0.7M226.7 66.7h0.7M219.4 70.7h0.7M220.9 72.3h0.7M219.7 75.3h0.7M225.8 68.9h0.7M219.8 72.9h0.7M218.7 73.2h0.7M219.1 75.3h0.7M222.5 65.3h0.7M219.6 73.6h0.7M211.8 75.4h0.7M223.6 66.2h0.7M218.2 73.5h0.7M223.3 68.8h0.7M224.7 70.6h0.7M229.8 68.5h0.7M224.4 62.6h0.7M218.8 72.9h0.7M223.6 75.2h0.7M216.2 77.3h0.7M232.8 67.4h0.7M224.4 69.4h0.7M227.5 63.0h0.7M218.7 70.0h0.7M212.0 79.9h0.7M231.3 67.0h0.7M221.5 69.2h0.7M222.3 69.9h0.7M222.6 71.2h0.7M223.0 65.2h0.7M224.3 68.2h0.7M215.6 79.9h0.7M230.6 71.0h0.7M219.0 72.7h0.7M221.9 76.1h0.7M230.4 63.5h0.7M225.8 65.9h0.7M217.2 67.9h0.7M213.3 79.6h0.7M222.3 69.6h0.7M227.9 73.3h0.7M221.9 71.8h0.7M215.5 75.9h0.7M215.3 70.4h0.7M217.2 78.4h0.7M222.6 69.4h0.7M226.1 67.5h0.7M224.5 62.9h0.7M219.2 75.4h0.7M224.5 71.9h0.7M224.1 67.7h0.7M219.3 73.0h0.7M221.7 72.2h0.7M234.5 64.8h0.7M223.2 70.3h0.7M228.9 70.8h0.7M219.3 72.1h0.7M221.3 69.6h0.7M212.2 76.4h0.7M218.4 66.2h0.7M227.2 64.9h0.7M234.4 65.0h0.7M228.6 66.9h0.7M224.5 66.8h0.7M222.7 71.4h0.7M216.1 69.3h0.7M220.7 71.0h0.7M225.9 69.6h0.7M218.7 75.1h0.7M225.9 66.0h0.7M217.9 76.3h0.7M214.9 81.1h0.7M216.0 73.9h0.7M214.0 78.5h0.7M212.6 73.1h0.7M225.4 63.0h0.7M221.7 72.8h0.7M223.1 70.2h0.7M228.4 67.0h0.7M227.9 65.1h0.7M218.9 72.2h0.7M230.1 67.5h0.7M226.2 72.7h0.7M221.7 70.5h0.7M222.1 66.1h0.7M216.0 78.6h0.7M218.5 75.0h0.7M222.3 72.6h0.7M225.4 69.0h0.7M223.0 76.7h0.7M221.4 71.5h0.7M227.8 68.3h0.7M227.0 62.1h0.7M225.3 67.0h0.7M227.8 64.9h0.7M219.7 72.4h0.7M220.8 72.7h0.7M222.6 68.3h0.7M222.6 75.3h0.7M217.8 70.8h0.7M230.1 63.9h0.7M221.2 72.1h0.7M215.1 72.1h0.7M225.3 70.2h0.7M232.5 65.3h0.7M222.0 70.1h0.7M231.0 69.9h0.7M219.7 72.7h0.7M219.7 73.3h0.7M217.0 71.7h0.7M219.0 68.3h0.7M230.9 62.9h0.7M215.4 74.6h0.7M230.0 63.9h0.7M217.6 76.1h0.7M217.5 67.3h0.7M224.9 65.6h0.7M222.9 65.1h0.7M225.2 72.4h0.7M212.4 76.0h0.7M223.2 68.6h0.7M215.0 72.6h0.7M236.8 63.0h0.7M220.3 70.9h0.7M223.2 70.6h0.7M213.1 71.3h0.7M220.9 74.9h0.7M215.6 76.5h0.7M227.9 68.3h0.7M222.2 74.2h0.7M224.7 68.4h0.7M218.1 73.1h0.7M220.2 74.1h0.7M229.4 66.9h0.7M216.4 74.1h0.7M212.4 77.7h0.7M223.4 68.4h0.7M216.8 76.5h0.7M220.8 74.3h0.7M226.8 67.5h0.7M220.1 77.5h0.7M224.6 64.7h0.7M218.0 73.0h0.7M232.1 68.6h0.7M228.4 65.2h0.7M217.3 69.6h0.7M222.6 74.3h0.7M218.2 75.0h0.7M221.4 67.9h0.7M229.1 68.1h0.7M212.9 74.4h0.7M225.0 65.0h0.7M214.7 75.6h0.7M216.7 73.2h0.7M211.0 75.5h0.7M232.7 62.4h0.7M220.9 68.8h0.7M223.3 70.1h0.7M218.3 73.4h0.7M228.6 68.3h0.7M210.1 77.9h0.7M220.3 68.3h0.7M231.9 60.2h0.7M219.6 71.9h0.7M224.1 73.7h0.7M226.6 70.0h0.7M216.8 72.7h0.7M223.3 72.6h0.7M225.5 65.1h0.7M224.3 72.1h0.7M223.4 68.8h0.7M221.1 73.7h0.7M224.4 70.9h0.7M221.9 70.2h0.7M230.1 66.1h0.7M224.4 66.2h0.7M220.5 71.7h0.7M210.3 82.1h0.7M231.2 76.0h0.7M226.9 69.4h0.7M217.2 74.5h0.7M210.0 76.4h0.7M217.3 77.2h0.7M224.7 64.3h0.7M215.2 73.4h0.7M220.0 73.3h0.7M221.5 67.8h0.7M230.5 69.3h0.7M223.3 73.0h0.7M220.7 70.2h0.7M218.3 71.9h0.7M228.9 62.3h0.7M225.8 64.3h0.7M222.0 72.1h0.7M215.3 77.3h0.7M218.2 74.5h0.7M225.4 69.3h0.7M217.4 72.5h0.7M227.2 68.3h0.7M221.9 66.8h0.7M223.5 69.8h0.7M227.4 71.3h0.7M226.3 71.6h0.7M216.8 73.2h0.7M219.8 71.5h0.7M236.2 64.8h0.7M217.9 78.8h0.7M217.4 69.9h0.7M227.0 66.1h0.7M221.4 72.0h0.7M219.2 76.2h0.7M213.8 74.3h0.7M225.6 70.1h0.7M227.0 66.5h0.7M232.5 70.2h0.7M222.8 71.5h0.7M227.3 66.8h0.7M216.0 74.1h0.7M224.2 72.3h0.7M219.2 74.7h0.7M221.4 68.2h0.7M226.2 68.5h0.7M225.9 64.4h0.7M215.7 73.2h0.7M227.0 63.7h0.7M217.7 70.2h0.7M215.6 73.4h0.7M219.7 69.7h0.7M214.9 77.4h0.7M223.0 72.4h0.7M223.2 69.4h0.7M219.4 69.5h0.7M225.9 70.4h0.7M217.6 68.3h0.7M219.4 67.2h0.7M215.2 77.7h0.7M223.0 72.0h0.7M218.7 75.9h0.7M219.3 72.2h0.7M219.8 68.9h0.7M222.3 69.2h0.7M213.9 78.1h0.7M212.6 75.3h0.7M219.4 70.7h0.7M222.6 66.5h0.7M222.3 67.4h0.7M227.8 69.2h0.7M229.5 66.9h0.7M223.0 66.9h0.7M220.4 68.9h0.7M215.7 73.7h0.7M217.6 75.5h0.7M217.9 70.4h0.7M223.1 69.6h0.7M220.3 66.0h0.7M220.3 68.5h0.7M221.7 72.3h0.7M226.5 70.3h0.7M221.5 68.0h0.7M222.5 68.3h0.7M224.6 71.3h0.7M218.5 72.2h0.7M215.7 73.7h0.7M225.2 70.1h0.7M224.4 69.7h0.7M222.2 73.8h0.7M220.8 74.0h0.7M233.3 61.3h0.7M217.7 73.5h0.7M220.7 71.6h0.7M221.6 67.4h0.7M214.5 73.4h0.7M223.9 72.3h0.7M229.4 61.2h0.7M228.2 69.3h0.7M225.7 69.1h0.7M224.9 68.4h0.7M223.3 71.5h0.7M227.7 68.2h0.7M222.7 73.8h0.7M219.2 71.7h0.7M222.2 70.1h0.7M226.4 67.1h0.7M226.2 73.2h0.7M226.8 70.2h0.7M209.9 76.7h0.7M227.9 65.8h0.7M233.5 60.9h0.7M229.1 66.0h0.7M220.5 72.5h0.7M220.5 78.4h0.7M221.0 66.4h0.7M218.1 76.5h0.7M226.4 69.0h0.7M218.2 71.6h0.7M226.9 67.1h0.7M228.5 64.9h0.7M211.2 78.6h0.7M224.8 71.7h0.7M216.2 70.7h0.7M216.2 78.7h0.7M218.2 72.5h0.7M222.8 74.6h0.7M228.0 67.9h0.7M215.5 78.9h0.7M228.3 68.1h0.7M234.1 65.5h0.7M225.2 68.8h0.7M223.8 67.3h0.7M222.8 72.3h0.7M216.6 76.7h0.7M227.6 72.9h0.7M221.3 65.7h0.7M225.6 67.8h0.7M237.0 63.4h0.7M224.2 65.9h0.7M223.9 68.9h0.7M233.1 69.1h0.7M216.7 78.6h0.7M214.7 73.5h0.7M221.8 75.0h0.7M220.0 75.6h0.7M226.7 69.8h0.7M220.8 72.8h0.7M231.5 64.9h0.7M228.9 63.6h0.7M225.4 67.1h0.7M220.9 73.8h0.7M225.4 68.9h0.7M228.7 71.4h0.7M215.8 74.3h0.7M220.6 65.1h0.7M225.3 67.7h0.7M223.5 70.7h0.7M230.8 65.8h0.7M228.5 66.5h0.7M216.5 72.5h0.7M224.6 73.3h0.7M216.6 72.8h0.7M226.0 70.1h0.7M217.0 73.6h0.7M225.3 65.2h0.7M225.9 72.2h0.7M223.8 62.6h0.7M220.1 69.9h0.7M214.8 77.2h0.7M230.9 63.7h0.7M222.0 73.0h0.7M229.2 65.6h0.7M223.7 68.5h0.7M228.4 72.5h0.7M231.4 63.7h0.7M223.6 69.4h0.7M228.0 63.7h0.7M213.1 75.1h0.7M227.5 68.9h0.7M221.4 72.9h0.7M221.3 71.5h0.7M221.1 69.6h0.7M224.7 71.0h0.7M228.5 61.6h0.7M211.7 77.2h0.7M221.9 70.3h0.7M217.0 72.0h0.7M228.4 66.9h0.7M218.8 71.3h0.7M223.3 67.7h0.7M222.2 75.8h0.7M226.5 69.9h0.7M229.0 69.4h0.7M219.9 72.5h0.7M223.5 72.6h0.7M215.4 77.7h0.7M225.2 72.1h0.7M229.7 72.2h0.7M218.7 72.6h0.7M228.3 67.3h0.7M210.9 78.6h0.7M207.5 71.3h0.7M212.8 73.5h0.7M219.4 72.8h0.7M222.9 72.1h0.7M220.8 70.2h0.7M223.1 73.4h0.7M227.5 70.7h0.7M218.9 72.0h0.7M217.1 78.4h0.7M217.7 78.9h0.7" stroke="#000" stroke-width="0.65" stroke-opacity="0.9" fill="none"/>
<path d="M215.9 73.8h0.6M237.9 61.7h0.6M231.3 61.0h0.6M224.6 69.0h0.6M238.9 57.9h0.6M232.2 60.6h0.6M217.3 72.5h0.6M225.6 63.0h0.6M235.3 58.9h0.6M230.1 58.7h0.6M232.6 68.4h0.6M239.0 61.8h0.6M215.7 77.6h0.6M211.0 78.4h0.6M211.5 79.9h0.6M234.2 64.5h0.6M226.8 69.1h0.6M241.9 58.1h0.6M244.8 51.1h0.6M213.8 76.8h0.6M222.7 67.8h0.6M223.4 65.6h0.6M228.3 62.2h0.6M244.1 55.2h0.6M233.1 64.7h0.6M218.8 68.3h0.6M236.4 64.2h0.6M223.4 72.8h0.6M229.6 63.3h0.6M212.2 75.5h0.6M230.3 63.6h0.6M228.4 67.8h0.6M233.0 60.9h0.6M229.1 61.7h0.6M231.2 64.2h0.6M234.4 55.4h0.6M214.3 75.7h0.6M239.0 60.8h0.6M233.1 62.7h0.6M236.2 61.8h0.6M224.8 69.1h0.6M213.2 78.0h0.6M244.2 54.4h0.6M239.4 55.2h0.6M245.8 52.2h0.6M226.4 66.4h0.6M244.2 57.4h0.6M244.2 58.4h0.6M230.4 64.9h0.6M242.3 53.3h0.6M239.0 55.7h0.6M212.7 75.9h0.6M215.9 77.9h0.6M224.9 68.6h0.6M229.2 64.5h0.6M232.8 60.0h0.6M231.6 65.3h0.6M242.7 55.9h0.6M239.4 57.3h0.6M213.0 76.4h0.6M224.0 72.9h0.6M242.5 54.7h0.6M239.8 61.6h0.6M211.2 80.8h0.6M232.9 62.2h0.6M214.9 77.2h0.6M228.0 65.2h0.6M245.7 50.7h0.6M211.5 76.5h0.6M239.1 55.1h0.6M228.0 66.9h0.6M246.2 52.6h0.6M242.4 56.8h0.6M212.5 78.7h0.6M229.5 56.0h0.6M242.1 56.3h0.6M217.3 68.2h0.6M236.0 60.3h0.6M217.5 70.6h0.6M216.9 73.6h0.6M223.4 72.5h0.6M218.0 68.0h0.6M245.8 53.4h0.6M217.8 72.5h0.6M222.7 64.1h0.6M228.3 67.0h0.6M235.3 60.4h0.6M245.2 51.9h0.6M231.4 61.1h0.6M245.8 61.5h0.6M213.5 74.7h0.6M231.8 57.9h0.6M214.4 72.7h0.6M241.6 54.8h0.6M231.1 62.2h0.6M214.1 75.2h0.6M240.0 54.2h0.6M229.6 65.8h0.6M226.8 65.0h0.6M210.4 74.4h0.6M242.4 53.1h0.6M228.0 64.4h0.6M242.9 57.2h0.6M212.5 77.8h0.6M234.4 60.0h0.6M223.3 68.9h0.6M229.7 64.9h0.6M235.3 65.8h0.6M239.6 55.6h0.6M244.7 54.9h0.6M216.3 75.8h0.6M240.4 54.1h0.6M213.7 76.2h0.6M209.6 79.0h0.6M219.8 70.0h0.6M220.5 72.3h0.6M239.6 60.0h0.6M231.7 65.9h0.6M223.5 68.2h0.6M239.3 58.0h0.6M247.6 57.9h0.6M232.0 59.7h0.6M234.1 61.8h0.6M242.9 57.3h0.6M220.3 71.4h0.6M247.7 53.3h0.6M215.9 74.6h0.6M211.7 79.1h0.6M241.9 59.1h0.6M215.3 73.9h0.6M222.0 70.3h0.6M228.4 65.0h0.6M212.7 75.3h0.6M225.1 67.5h0.6M221.0 67.4h0.6M213.2 78.0h0.6M234.1 65.8h0.6M228.3 69.9h0.6M216.7 77.0h0.6M237.7 56.0h0.6M226.5 70.7h0.6M209.1 77.0h0.6M242.3 55.2h0.6M226.9 71.3h0.6M211.1 74.6h0.6M221.0 72.7h0.6M219.0 72.6h0.6M210.5 77.5h0.6M220.5 68.5h0.6M215.9 75.2h0.6M216.5 72.4h0.6M236.0 62.7h0.6M216.6 76.9h0.6M208.1 75.9h0.6M215.1 73.3h0.6M219.8 70.5h0.6M213.8 72.4h0.6M230.3 60.9h0.6M242.5 55.4h0.6M240.3 56.2h0.6M224.8 63.3h0.6M238.2 56.8h0.6M239.7 58.6h0.6M231.6 59.7h0.6M238.3 55.7h0.6M225.4 71.6h0.6M239.1 61.2h0.6M226.8 62.0h0.6M235.3 56.6h0.6M237.6 59.7h0.6M210.0 75.1h0.6M240.4 56.0h0.6M209.8 77.2h0.6M226.0 68.5h0.6M228.2 58.5h0.6M237.5 52.8h0.6M209.6 75.2h0.6M235.8 62.7h0.6M221.9 69.4h0.6M208.4 74.8h0.6M222.3 70.9h0.6M234.2 63.0h0.6M211.8 76.3h0.6M240.8 55.5h0.6M211.2 78.6h0.6M219.6 74.7h0.6M221.7 70.4h0.6M212.1 78.2h0.6M244.1 53.9h0.6M245.2 52.2h0.6M242.2 52.9h0.6M216.9 74.1h0.6M240.3 56.0h0.6M221.5 69.4h0.6M221.2 72.9h0.6M235.8 61.2h0.6M213.4 78.3h0.6M207.2 76.0h0.6M245.1 54.9h0.6M221.7 68.4h0.6M238.2 56.1h0.6M224.1 66.0h0.6M214.1 78.7h0.6M228.1 67.7h0.6M214.6 73.1h0.6M210.6 74.8h0.6M209.7 78.5h0.6M223.6 67.4h0.6M220.9 75.0h0.6M219.9 67.3h0.6M243.2 49.8h0.6M240.2 56.2h0.6M235.8 60.0h0.6M218.4 72.6h0.6M238.5 60.1h0.6M238.2 63.9h0.6M228.6 64.1h0.6M217.4 71.6h0.6M214.7 70.2h0.6M225.3 68.1h0.6M220.6 73.1h0.6M242.3 54.6h0.6M228.2 68.5h0.6M234.8 60.8h0.6M245.0 57.5h0.6M233.0 62.8h0.6M213.8 72.8h0.6M220.3 69.2h0.6M242.1 51.3h0.6M208.5 74.6h0.6M217.8 73.5h0.6M233.6 63.9h0.6M244.0 59.4h0.6M240.1 56.7h0.6M236.5 58.8h0.6M234.3 58.1h0.6M224.5 70.7h0.6M211.8 78.0h0.6M232.4 60.8h0.6M212.6 78.3h0.6M240.1 58.5h0.6M211.6 72.1h0.6M210.9 79.7h0.6M247.1 52.3h0.6M214.9 73.8h0.6M230.6 62.5h0.6M213.6 80.5h0.6M248.2 55.3h0.6M212.0 81.8h0.6M233.7 58.4h0.6M240.2 55.0h0.6M221.4 72.6h0.6M207.8 76.6h0.6M209.5 76.7h0.6M209.0 74.1h0.6M240.0 62.0h0.6M230.4 66.6h0.6M243.7 55.6h0.6M233.3 62.3h0.6M231.0 62.2h0.6M216.2 72.8h0.6M218.3 74.1h0.6M245.3 51.3h0.6M246.8 55.5h0.6M225.0 66.3h0.6M238.1 56.0h0.6M238.0 61.9h0.6M219.4 71.2h0.6M217.3 74.6h0.6M236.9 58.0h0.6M242.7 49.0h0.6M247.1 53.4h0.6M220.9 66.9h0.6M212.9 79.2h0.6M219.2 67.6h0.6M209.3 73.8h0.6M246.9 52.9h0.6M221.2 71.5h0.6M241.3 56.3h0.6M216.8 70.2h0.6M246.6 54.7h0.6M225.7 63.2h0.6M240.1 55.7h0.6M230.8 61.4h0.6M237.6 57.6h0.6M212.9 78.6h0.6M211.5 75.5h0.6M223.3 70.4h0.6M243.2 56.5h0.6M241.4 51.4h0.6M234.5 57.7h0.6M231.3 62.1h0.6M210.1 76.6h0.6M244.7 54.5h0.6M231.6 57.7h0.6M233.3 63.7h0.6M241.9 57.6h0.6M217.8 72.3h0.6M230.8 59.8h0.6M235.0 60.6h0.6" stroke="#000" stroke-width="0.60" stroke-opacity="0.6" fill="none"/>
<path d="M303.0 76.2h0.7M310.9 74.1h0.7M305.9 74.9h0.7M309.9 70.7h0.7M305.7 79.0h0.7M313.2 66.6h0.7M294.1 85.1h0.7M299.8 77.5h0.7M309.2 72.6h0.7M297.3 80.1h0.7M310.5 71.5h0.7M298.9 78.8h0.7M305.5 72.1h0.7M300.0 76.5h0.7M304.1 76.7h0.7M306.9 73.2h0.7M303.8 72.1h0.7M302.9 74.1h0.7M317.6 64.2h0.7M306.0 73.9h0.7M300.7 78.3h0.7M311.6 70.7h0.7M309.9 69.5h0.7M313.2 69.3h0.7M314.5 64.3h0.7M296.6 71.8h0.7M312.1 69.8h0.7M310.4 66.2h0.7M304.7 72.1h0.7M305.8 70.6h0.7M301.0 73.8h0.7M316.8 67.6h0.7M295.0 80.1h0.7M301.2 73.6h0.7M305.5 69.7h0.7M310.0 72.8h0.7M316.0 68.5h0.7M296.9 82.6h0.7M308.8 77.7h0.7M311.4 71.3h0.7M298.8 79.8h0.7M305.6 73.9h0.7M317.1 66.9h0.7M313.2 68.2h0.7M307.9 70.1h0.7M293.6 88.4h0.7M302.7 70.7h0.7M308.6 73.1h0.7M304.9 76.2h0.7M305.9 74.6h0.7M322.6 60.0h0.7M304.5 74.5h0.7M299.7 76.9h0.7M305.9 70.8h0.7M304.1 75.2h0.7M303.6 74.4h0.7M304.7 73.2h0.7M311.5 72.4h0.7M305.9 70.9h0.7M299.7 79.6h0.7M304.4 73.3h0.7M309.4 73.0h0.7M303.4 76.0h0.7M313.0 70.0h0.7M309.1 68.9h0.7M299.2 76.3h0.7M306.7 71.0h0.7M317.8 66.6h0.7M316.1 69.4h0.7M307.2 76.4h0.7M310.5 69.4h0.7M302.2 76.8h0.7M295.3 76.3h0.7M306.1 67.2h0.7M306.2 71.2h0.7M308.0 70.6h0.7M303.7 70.9h0.7M305.4 69.0h0.7M303.8 77.1h0.7M307.6 70.5h0.7M308.5 67.2h0.7M308.9 79.0h0.7M310.9 71.1h0.7M295.3 80.2h0.7M302.4 78.4h0.7M313.3 66.7h0.7M318.4 70.4h0.7M305.3 69.8h0.7M303.6 71.7h0.7M298.4 78.6h0.7M307.0 71.0h0.7M312.5 73.8h0.7M295.1 76.4h0.7M308.2 70.3h0.7M309.1 72.5h0.7M309.3 73.4h0.7M300.8 80.4h0.7M309.6 72.5h0.7M300.3 84.4h0.7M313.9 67.1h0.7M307.0 73.8h0.7M300.4 80.3h0.7M313.3 68.0h0.7M312.2 68.8h0.7M301.5 75.5h0.7M317.8 64.0h0.7M298.6 75.5h0.7M307.0 71.6h0.7M310.7 66.1h0.7M293.3 83.6h0.7M309.5 66.7h0.7M308.4 78.4h0.7M308.2 77.5h0.7M301.2 80.4h0.7M307.6 72.2h0.7M298.7 77.0h0.7M302.0 80.2h0.7M303.6 76.0h0.7M299.6 79.9h0.7M314.1 66.3h0.7M299.7 81.3h0.7M300.4 75.2h0.7M304.2 75.4h0.7M303.5 70.3h0.7M309.6 69.4h0.7M311.4 71.7h0.7M303.5 74.2h0.7M303.1 74.5h0.7M307.2 75.4h0.7M310.6 70.5h0.7M311.7 73.7h0.7M299.6 70.9h0.7M294.8 83.1h0.7M319.1 66.6h0.7M309.3 67.0h0.7M305.6 70.2h0.7M309.1 74.4h0.7M301.4 73.7h0.7M299.2 76.5h0.7M304.8 76.4h0.7M304.2 74.1h0.7M303.0 77.3h0.7M296.3 77.8h0.7M304.5 75.7h0.7M310.8 73.9h0.7M303.5 76.5h0.7M303.0 69.3h0.7M294.8 83.3h0.7M304.8 74.8h0.7M304.0 72.5h0.7M300.7 81.6h0.7M293.5 77.1h0.7M310.9 76.1h0.7M300.3 75.8h0.7M311.0 75.2h0.7M303.4 75.4h0.7M307.7 68.7h0.7M304.1 75.4h0.7M297.6 80.5h0.7M306.2 75.3h0.7M305.5 77.4h0.7M308.5 69.5h0.7M304.0 76.7h0.7M304.7 76.9h0.7M310.5 70.0h0.7M311.4 67.4h0.7M309.0 68.9h0.7M313.0 71.4h0.7M309.7 73.8h0.7M309.2 69.2h0.7M309.2 67.7h0.7M310.0 74.9h0.7M304.1 70.4h0.7M307.0 73.7h0.7M318.8 62.8h0.7M303.6 70.2h0.7M304.7 75.1h0.7M303.5 74.9h0.7M307.7 77.0h0.7M310.5 77.6h0.7M299.1 77.9h0.7M295.9 83.8h0.7M309.1 74.9h0.7M295.9 79.1h0.7M306.2 71.1h0.7M309.0 76.7h0.7M312.1 68.6h0.7M315.6 67.3h0.7M307.7 71.8h0.7M302.5 75.8h0.7M298.3 77.2h0.7M302.4 78.5h0.7M307.9 76.3h0.7M293.4 81.2h0.7M304.4 70.7h0.7M305.9 74.0h0.7M307.6 68.3h0.7M303.1 73.9h0.7M308.2 76.0h0.7M304.9 81.6h0.7M303.8 76.5h0.7M294.1 78.6h0.7M307.7 75.0h0.7M311.8 63.2h0.7M305.9 71.8h0.7M310.2 75.6h0.7M301.3 79.3h0.7M312.3 65.4h0.7M299.2 73.5h0.7M311.8 72.5h0.7M306.5 73.4h0.7M299.5 76.4h0.7M312.5 70.7h0.7M305.2 72.6h0.7M304.3 69.2h0.7M309.7 73.8h0.7M304.9 72.6h0.7M302.3 73.3h0.7M306.8 69.3h0.7M303.9 76.0h0.7M305.2 72.0h0.7M302.9 77.8h0.7M296.9 79.2h0.7M303.5 78.7h0.7M302.5 75.0h0.7M305.1 72.5h0.7M310.1 65.2h0.7M294.6 78.2h0.7M307.7 74.9h0.7M297.3 88.8h0.7M298.1 75.4h0.7M301.5 73.7h0.7M293.3 83.4h0.7M295.8 82.1h0.7M305.9 71.9h0.7M306.5 73.7h0.7M303.0 71.0h0.7M300.8 76.4h0.7M319.7 67.3h0.7M307.3 77.9h0.7M300.7 76.9h0.7M315.3 66.8h0.7M310.1 72.4h0.7M305.3 77.6h0.7M313.5 70.2h0.7M305.8 71.7h0.7M310.2 72.1h0.7M308.6 75.0h0.7M299.0 76.4h0.7M309.7 67.3h0.7M307.6 74.3h0.7M300.6 78.6h0.7M302.8 78.9h0.7M311.6 70.3h0.7M302.9 74.0h0.7M305.6 72.8h0.7M308.3 69.2h0.7M305.4 71.4h0.7M296.3 78.7h0.7M309.0 70.4h0.7M312.9 72.5h0.7M309.3 68.0h0.7M315.2 67.5h0.7M307.2 71.3h0.7M312.5 73.9h0.7M315.5 68.2h0.7M303.7 74.3h0.7M317.1 68.8h0.7M316.1 67.2h0.7M309.8 69.9h0.7M318.7 69.9h0.7M311.9 72.0h0.7M303.2 80.9h0.7M314.1 71.8h0.7M308.9 74.2h0.7M308.5 72.6h0.7M305.3 71.1h0.7M314.8 70.0h0.7M309.2 71.9h0.7M302.8 78.0h0.7M308.7 72.0h0.7M309.2 69.6h0.7M300.3 74.7h0.7M304.4 77.0h0.7M305.5 78.1h0.7M302.0 75.7h0.7M308.6 73.5h0.7M313.8 72.8h0.7M315.8 64.8h0.7M312.4 68.5h0.7M310.3 67.6h0.7M314.2 71.9h0.7M314.1 69.2h0.7M303.1 74.4h0.7M307.7 67.8h0.7M307.6 72.3h0.7M306.6 76.5h0.7M302.9 75.1h0.7M302.4 75.0h0.7M305.3 76.3h0.7M297.1 76.2h0.7M309.0 72.0h0.7M306.6 75.2h0.7M305.5 71.9h0.7M306.8 70.9h0.7M310.5 71.6h0.7M302.4 76.0h0.7M305.0 73.8h0.7M296.9 80.6h0.7M293.4 83.1h0.7M293.4 79.6h0.7M313.9 66.5h0.7M296.0 82.0h0.7M310.2 74.4h0.7M316.4 70.9h0.7M302.1 74.0h0.7M316.9 69.8h0.7M317.7 68.3h0.7M311.4 70.2h0.7M320.4 65.6h0.7M310.7 73.2h0.7M304.2 80.5h0.7M307.5 69.7h0.7M304.2 76.9h0.7M298.2 78.7h0.7M298.3 78.5h0.7M321.0 67.2h0.7M304.0 77.7h0.7M304.4 71.9h0.7M301.7 75.9h0.7M307.1 73.8h0.7M302.7 71.9h0.7M304.8 77.3h0.7M298.9 78.5h0.7M298.0 79.8h0.7M302.2 77.5h0.7M310.2 76.5h0.7M318.1 65.8h0.7M311.6 69.0h0.7M319.0 70.3h0.7M308.2 71.0h0.7M304.8 73.1h0.7M296.4 76.2h0.7M307.6 76.1h0.7M294.0 82.8h0.7M305.0 76.0h0.7M315.7 67.8h0.7M307.8 72.3h0.7M311.5 67.8h0.7M302.8 73.8h0.7M298.7 80.1h0.7M303.5 76.0h0.7M306.0 78.8h0.7M312.0 67.6h0.7M316.9 65.1h0.7M300.4 74.7h0.7M305.9 78.1h0.7M303.5 71.9h0.7M305.1 76.8h0.7M300.9 81.7h0.7M306.4 73.2h0.7M309.2 73.9h0.7M305.4 68.0h0.7M298.6 77.8h0.7M303.2 70.9h0.7M296.2 81.0h0.7M311.4 70.3h0.7M299.1 76.3h0.7M305.8 76.9h0.7M304.0 76.3h0.7M302.0 75.0h0.7M299.3 76.9h0.7M293.8 77.7h0.7M315.9 66.7h0.7M310.5 77.2h0.7M306.7 71.3h0.7M318.9 66.5h0.7M304.8 73.1h0.7M310.5 73.3h0.7M306.9 74.6h0.7M312.7 68.7h0.7M306.6 68.2h0.7M307.3 71.5h0.7M306.3 77.3h0.7M307.4 72.2h0.7M313.8 70.6h0.7M293.4 81.0h0.7M302.8 70.5h0.7M304.3 76.3h0.7M304.9 75.7h0.7M293.9 80.4h0.7M309.9 70.2h0.7M301.6 77.7h0.7M304.0 73.5h0.7M303.7 76.5h0.7M296.2 79.9h0.7M300.3 70.7h0.7M295.3 80.7h0.7M299.9 76.3h0.7M303.2 73.3h0.7M306.7 74.7h0.7M305.8 72.6h0.7M306.1 75.5h0.7M320.1 67.7h0.7M308.9 72.4h0.7M296.9 75.4h0.7M301.6 74.7h0.7M303.6 78.3h0.7M304.8 74.0h0.7M301.5 74.5h0.7M301.1 77.0h0.7M316.4 68.4h0.7M306.8 74.2h0.7M305.1 76.5h0.7M303.6 73.1h0.7M304.5 74.1h0.7M313.9 67.9h0.7M308.9 71.9h0.7M309.8 65.1h0.7M306.2 69.8h0.7M314.2 72.5h0.7M319.8 69.3h0.7M308.7 77.2h0.7M297.3 82.2h0.7M308.9 70.5h0.7M304.0 78.1h0.7M295.5 80.4h0.7M303.4 77.5h0.7M311.1 67.8h0.7M312.3 67.9h0.7M311.0 72.0h0.7M302.5 81.6h0.7M320.8 63.9h0.7M302.5 83.0h0.7M309.5 79.8h0.7M296.0 76.8h0.7M313.8 68.6h0.7M307.5 70.1h0.7M311.2 70.1h0.7M306.0 72.4h0.7M305.7 73.9h0.7M308.5 75.1h0.7M296.5 83.1h0.7M312.3 70.5h0.7M311.5 70.2h0.7M304.1 75.6h0.7M306.3 74.1h0.7M308.7 73.8h0.7M315.3 67.7h0.7M309.4 73.1h0.7M304.7 71.0h0.7M304.4 77.4h0.7M299.9 83.3h0.7M303.0 76.5h0.7M304.7 70.6h0.7M306.6 77.6h0.7M306.2 72.8h0.7M306.4 64.8h0.7M308.5 71.6h0.7M308.7 74.0h0.7M310.6 72.0h0.7M309.0 75.6h0.7M306.9 75.2h0.7M309.1 72.2h0.7M293.5 76.5h0.7M312.0 66.6h0.7M299.0 79.2h0.7M312.0 71.9h0.7M304.9 71.6h0.7M311.8 68.2h0.7M307.1 74.6h0.7M298.1 73.6h0.7M309.8 65.6h0.7M307.0 72.6h0.7M307.3 73.8h0.7M306.1 72.5h0.7M308.9 65.2h0.7M311.0 70.6h0.7M305.8 70.2h0.7M298.2 81.2h0.7M303.8 75.1h0.7M307.3 73.9h0.7M317.6 68.1h0.7M307.8 71.2h0.7M306.9 75.8h0.7M314.9 71.6h0.7M306.2 75.0h0.7M308.0 76.6h0.7M306.3 71.9h0.7M298.9 81.5h0.7M312.2 70.6h0.7M307.4 70.1h0.7M304.5 74.7h0.7M298.9 77.1h0.7M306.8 71.8h0.7M314.5 68.5h0.7M304.0 78.4h0.7M299.7 77.3h0.7M308.9 72.4h0.7M295.0 77.0h0.7M293.6 82.7h0.7M305.3 77.9h0.7M303.4 78.1h0.7M305.4 75.8h0.7M302.4 74.8h0.7M306.9 70.5h0.7M304.9 74.4h0.7M301.0 73.4h0.7M302.0 73.0h0.7M311.3 73.2h0.7M310.6 68.1h0.7M314.1 73.9h0.7M308.4 68.1h0.7M298.9 75.3h0.7M304.7 75.3h0.7M306.1 70.8h0.7M297.0 80.2h0.7M314.4 67.9h0.7M307.5 71.6h0.7M303.4 77.2h0.7M309.4 76.2h0.7M303.5 73.9h0.7M303.1 78.5h0.7M309.4 71.9h0.7M303.7 75.5h0.7M301.2 83.8h0.7M299.6 71.8h0.7M304.7 72.8h0.7M297.6 74.2h0.7M313.2 68.2h0.7M299.7 77.5h0.7M321.8 74.7h0.7M312.0 70.9h0.7M303.4 81.1h0.7M308.9 75.9h0.7M312.6 68.2h0.7M305.9 75.5h0.7M301.7 81.8h0.7M307.2 73.6h0.7M318.2 66.4h0.7M298.4 80.6h0.7M307.5 68.5h0.7M305.3 72.0h0.7M306.1 74.9h0.7M304.9 76.4h0.7M303.2 73.1h0.7M311.9 69.0h0.7M309.7 71.1h0.7M300.4 77.3h0.7M316.4 69.0h0.7M299.0 79.0h0.7M310.5 71.5h0.7M305.5 70.1h0.7M311.9 66.8h0.7M308.9 73.0h0.7M310.3 66.3h0.7M306.6 74.3h0.7M311.1 68.5h0.7M307.3 70.7h0.7M319.8 66.6h0.7M301.4 75.0h0.7M312.1 67.3h0.7M308.2 70.5h0.7M307.5 73.1h0.7M306.9 81.6h0.7M306.1 67.6h0.7M297.8 79.4h0.7M298.1 78.5h0.7M311.8 72.8h0.7M296.9 79.0h0.7M311.3 63.0h0.7M306.6 77.5h0.7M306.3 70.5h0.7M306.8 73.3h0.7M306.9 69.2h0.7M303.3 72.5h0.7M303.6 74.1h0.7M306.9 75.9h0.7M313.7 71.3h0.7M312.2 68.0h0.7M314.5 69.7h0.7M308.0 71.5h0.7M305.4 74.7h0.7M296.9 80.5h0.7M311.0 72.4h0.7M310.4 69.1h0.7M303.9 75.0h0.7M311.4 70.9h0.7M314.0 68.8h0.7M305.8 71.6h0.7M314.9 73.1h0.7M307.6 71.5h0.7M297.4 82.0h0.7M303.9 75.9h0.7M305.7 77.8h0.7M306.4 67.1h0.7M304.2 81.2h0.7M303.6 74.9h0.7M299.1 74.9h0.7M306.4 74.1h0.7M309.9 78.0h0.7M312.8 70.9h0.7M309.3 68.0h0.7M306.7 72.0h0.7M309.7 75.4h0.7M305.1 70.3h0.7M306.8 72.8h0.7M315.0 67.0h0.7M295.0 87.8h0.7M305.0 73.7h0.7M310.0 75.1h0.7M312.0 67.8h0.7M298.9 76.3h0.7M309.8 74.3h0.7M312.3 71.5h0.7M301.4 71.8h0.7M296.2 82.4h0.7M305.2 76.4h0.7M298.6 77.1h0.7M310.5 71.5h0.7M301.8 77.5h0.7M316.1 65.7h0.7M306.4 71.9h0.7M300.8 75.4h0.7M303.1 75.0h0.7M298.2 75.2h0.7M308.6 72.0h0.7M313.0 64.7h0.7M305.3 74.6h0.7M311.7 69.8h0.7M299.5 75.2h0.7M309.4 74.2h0.7M322.5 68.6h0.7M300.1 81.9h0.7M311.7 66.0h0.7M315.0 71.7h0.7M295.8 81.4h0.7M298.0 79.1h0.7M299.9 76.2h0.7M312.0 69.8h0.7M305.8 78.2h0.7M306.2 75.4h0.7M309.9 70.0h0.7M306.2 71.8h0.7M307.1 71.9h0.7M305.3 76.1h0.7M315.5 73.1h0.7M300.4 74.5h0.7M316.1 67.1h0.7M303.9 74.2h0.7M300.7 75.2h0.7M310.7 71.9h0.7M309.8 73.0h0.7M292.9 78.5h0.7M306.2 70.6h0.7M300.2 81.4h0.7M302.0 77.5h0.7M311.7 71.6h0.7M300.7 76.0h0.7M307.9 71.5h0.7M304.8 76.1h0.7M316.9 65.1h0.7M304.3 71.7h0.7M299.6 78.2h0.7M301.2 79.8h0.7M299.7 75.1h0.7M308.6 75.3h0.7M307.3 75.1h0.7M310.8 68.1h0.7M307.3 73.0h0.7M307.0 73.1h0.7M309.1 73.7h0.7M306.5 75.5h0.7M306.2 69.8h0.7M309.0 67.8h0.7M312.3 72.7h0.7M303.3 76.0h0.7M296.7 81.4h0.7M302.1 77.5h0.7M310.1 75.7h0.7M290.2 80.9h0.7M305.1 77.8h0.7M307.8 70.2h0.7M304.1 77.4h0.7M301.7 80.8h0.7M314.6 64.0h0.7M314.9 69.1h0.7M304.4 74.1h0.7M313.6 67.9h0.7M313.9 68.7h0.7M298.3 76.0h0.7M320.5 61.2h0.7M301.8 78.7h0.7M305.9 76.5h0.7M299.2 76.8h0.7M304.7 70.4h0.7M301.9 83.6h0.7" stroke="#000" stroke-width="0.65" stroke-opacity="0.9" fill="none"/>
<path d="M300.6 75.2h0.6M321.9 61.1h0.6M297.1 75.5h0.6M301.0 73.2h0.6M335.9 53.7h0.6M309.2 65.7h0.6M317.6 62.2h0.6M301.7 73.7h0.6M316.4 66.0h0.6M292.2 78.0h0.6M321.0 65.9h0.6M336.2 51.5h0.6M324.0 59.8h0.6M322.9 60.3h0.6M317.4 63.1h0.6M306.2 69.7h0.6M329.9 60.0h0.6M311.0 70.0h0.6M308.2 71.0h0.6M319.4 66.7h0.6M336.6 50.0h0.6M327.4 60.2h0.6M323.8 60.8h0.6M297.5 75.8h0.6M331.0 58.1h0.6M310.2 65.4h0.6M322.6 63.5h0.6M317.4 62.4h0.6M329.4 58.1h0.6M296.3 83.4h0.6M298.2 79.7h0.6M305.0 71.6h0.6M302.1 75.2h0.6M323.6 59.7h0.6M296.6 75.5h0.6M295.6 76.4h0.6M317.2 65.3h0.6M296.7 80.6h0.6M326.8 53.4h0.6M307.9 71.2h0.6M307.4 73.2h0.6M320.4 63.3h0.6M336.2 49.3h0.6M307.3 74.9h0.6M301.6 72.1h0.6M310.6 71.5h0.6M330.8 60.7h0.6M332.8 48.5h0.6M300.3 77.3h0.6M294.7 81.2h0.6M307.2 72.5h0.6M306.5 70.0h0.6M326.7 57.8h0.6M322.1 57.6h0.6M327.3 58.7h0.6M311.6 70.5h0.6M311.6 66.9h0.6M334.7 50.5h0.6M294.4 79.1h0.6M293.8 80.8h0.6M293.7 81.1h0.6M330.1 56.1h0.6M316.7 65.7h0.6M322.9 57.4h0.6M319.1 55.8h0.6M331.0 57.6h0.6M319.1 68.0h0.6M306.0 68.5h0.6M297.1 76.7h0.6M312.1 69.4h0.6M303.1 77.4h0.6M336.2 54.2h0.6M329.6 60.5h0.6M305.8 72.6h0.6M316.9 66.5h0.6M314.9 67.8h0.6M320.0 61.9h0.6M337.9 54.7h0.6M306.3 74.2h0.6M322.3 64.5h0.6M315.4 65.1h0.6M338.0 54.1h0.6M301.4 72.6h0.6M323.1 62.3h0.6M293.4 73.4h0.6M316.4 62.6h0.6M337.8 53.3h0.6M325.2 58.4h0.6M294.5 80.9h0.6M335.7 47.8h0.6M319.7 68.0h0.6M320.2 64.8h0.6M336.1 52.2h0.6M320.2 64.3h0.6M303.4 75.3h0.6M314.5 71.1h0.6M327.5 58.8h0.6M309.0 66.3h0.6M300.2 75.8h0.6M312.4 72.1h0.6M298.4 79.5h0.6M296.9 77.6h0.6M299.3 79.0h0.6M316.3 66.0h0.6M308.4 72.8h0.6M298.9 72.7h0.6M325.5 56.8h0.6M321.8 63.9h0.6M330.1 55.7h0.6M300.7 77.2h0.6M323.9 66.3h0.6M304.5 72.7h0.6M315.9 66.7h0.6M312.5 66.6h0.6M318.7 62.2h0.6M318.9 63.7h0.6M332.9 50.2h0.6M318.6 57.9h0.6M310.8 73.4h0.6M329.1 56.7h0.6M301.8 78.8h0.6M328.5 57.8h0.6M319.5 64.0h0.6M305.7 74.8h0.6M328.3 59.7h0.6M296.4 75.5h0.6M296.1 82.8h0.6M304.0 71.1h0.6M316.3 66.3h0.6M325.2 67.2h0.6M307.4 71.9h0.6M321.6 67.0h0.6M337.3 50.5h0.6M339.4 51.9h0.6M326.0 59.3h0.6M307.3 73.0h0.6M313.5 65.0h0.6M328.6 54.7h0.6M334.0 54.8h0.6M334.3 48.9h0.6M309.5 67.8h0.6M309.2 72.3h0.6M307.4 69.9h0.6M327.6 55.4h0.6M335.2 49.7h0.6M318.9 64.4h0.6M312.7 67.1h0.6M323.6 61.2h0.6M311.9 68.1h0.6M321.5 67.6h0.6M300.9 74.8h0.6M294.7 74.5h0.6M311.6 69.2h0.6M305.2 73.2h0.6M300.0 77.1h0.6M334.9 48.4h0.6M326.3 62.3h0.6M310.6 69.4h0.6M338.2 50.8h0.6M295.6 75.0h0.6M309.5 71.7h0.6M333.3 54.1h0.6M339.0 54.3h0.6M328.6 56.2h0.6M299.7 73.2h0.6M319.0 64.3h0.6M294.9 77.4h0.6M296.3 80.4h0.6M330.9 52.6h0.6M292.8 81.2h0.6M297.0 78.0h0.6M297.7 78.2h0.6M324.8 58.5h0.6M320.5 60.4h0.6M302.7 74.7h0.6M310.9 67.7h0.6M336.7 52.4h0.6M302.1 74.4h0.6M292.9 74.9h0.6M322.4 61.4h0.6M299.7 81.0h0.6M318.8 64.9h0.6M305.4 74.8h0.6M295.0 81.4h0.6M322.4 60.2h0.6M325.5 55.6h0.6M308.4 73.4h0.6M301.5 78.7h0.6M338.4 52.5h0.6M304.6 74.8h0.6M304.7 74.7h0.6M309.6 70.1h0.6M304.2 74.6h0.6M304.1 73.9h0.6M335.6 53.6h0.6M295.3 77.1h0.6M330.2 54.4h0.6M318.1 66.1h0.6M294.0 79.7h0.6M296.5 72.0h0.6M323.1 61.5h0.6M315.4 59.6h0.6M306.5 77.8h0.6M307.2 73.9h0.6M336.2 54.2h0.6M325.7 57.4h0.6M321.7 58.8h0.6M334.9 52.5h0.6M303.5 74.4h0.6M306.9 69.8h0.6M331.5 55.9h0.6M314.0 69.3h0.6M314.1 68.9h0.6M328.5 54.4h0.6M335.7 46.3h0.6M333.5 54.1h0.6M327.3 56.4h0.6M313.9 68.6h0.6M327.4 63.0h0.6M305.4 77.8h0.6M304.9 74.2h0.6M303.7 77.4h0.6M326.3 63.7h0.6M336.4 52.3h0.6M327.8 58.7h0.6M306.2 75.0h0.6M323.1 61.0h0.6M308.3 69.7h0.6M329.6 54.6h0.6M315.1 66.5h0.6M303.5 72.6h0.6M307.3 74.1h0.6M296.3 78.2h0.6M311.4 73.3h0.6M310.0 73.4h0.6M312.2 64.9h0.6M324.4 63.4h0.6M334.9 52.0h0.6M332.2 59.0h0.6M319.8 64.8h0.6M309.4 70.3h0.6M301.6 77.6h0.6M319.2 62.2h0.6M296.3 80.2h0.6M295.9 80.6h0.6M322.1 61.4h0.6M300.9 77.2h0.6M330.4 53.3h0.6M324.3 62.0h0.6M315.3 62.9h0.6M336.6 53.8h0.6M299.6 78.4h0.6M308.0 73.4h0.6M315.4 64.8h0.6M341.2 57.7h0.6M296.2 78.7h0.6M320.7 63.3h0.6M334.0 51.7h0.6M301.4 79.9h0.6M324.5 58.9h0.6M325.9 62.2h0.6M308.2 68.6h0.6M317.9 65.6h0.6M335.3 51.9h0.6M315.6 68.9h0.6M313.4 66.9h0.6M317.6 62.4h0.6M295.0 81.5h0.6M328.4 54.2h0.6M294.0 78.1h0.6M338.8 52.9h0.6M334.9 47.9h0.6M331.4 57.8h0.6M333.4 53.1h0.6M319.9 60.8h0.6M307.3 72.6h0.6M321.4 64.2h0.6M323.2 59.5h0.6M299.2 76.9h0.6M329.5 59.2h0.6M307.8 73.7h0.6M316.3 65.7h0.6M304.1 71.9h0.6M304.6 71.0h0.6M332.3 53.4h0.6M329.1 59.1h0.6M296.6 80.8h0.6M328.7 58.4h0.6M337.1 55.8h0.6M324.8 59.3h0.6M324.1 59.5h0.6M304.5 72.7h0.6M327.5 63.8h0.6M307.6 65.9h0.6M335.6 53.7h0.6M325.8 60.7h0.6M307.8 71.8h0.6M336.5 58.9h0.6M330.0 60.0h0.6M303.2 76.9h0.6M301.6 73.2h0.6M294.2 82.2h0.6M327.7 57.1h0.6M297.0 79.1h0.6M305.8 73.5h0.6M326.1 57.9h0.6M307.8 73.4h0.6M308.2 76.0h0.6M297.4 81.6h0.6M295.6 80.5h0.6M316.6 60.2h0.6M300.7 79.5h0.6M338.5 54.0h0.6M293.9 80.5h0.6M306.8 71.0h0.6M302.3 77.3h0.6M333.1 52.3h0.6M328.4 60.0h0.6M296.7 76.1h0.6M294.3 78.2h0.6M296.8 79.1h0.6M324.9 56.0h0.6M327.2 58.6h0.6M322.7 63.2h0.6M313.7 64.0h0.6M315.4 69.2h0.6M319.5 62.2h0.6M298.7 79.4h0.6M329.7 57.5h0.6M328.0 56.8h0.6M323.5 59.6h0.6M301.5 71.1h0.6M301.9 73.7h0.6M336.9 49.9h0.6M338.6 55.6h0.6M328.6 60.5h0.6M327.2 54.8h0.6M315.0 69.1h0.6M333.4 55.0h0.6M324.1 59.6h0.6M313.6 69.1h0.6M325.2 62.2h0.6M295.9 78.1h0.6M310.7 69.0h0.6M331.9 55.9h0.6M313.7 64.9h0.6M318.7 64.9h0.6M318.6 64.2h0.6M335.3 51.2h0.6M301.1 73.8h0.6" stroke="#000" stroke-width="0.60" stroke-opacity="0.6" fill="none"/>
<path d="M312.1 55.2h0.6M320.4 54.0h0.6M315.1 58.9h0.6M306.0 73.3h0.6M323.2 61.1h0.6M321.2 71.7h0.6M319.1 58.8h0.6M322.6 50.5h0.6M300.0 65.5h0.6M313.2 67.1h0.6M312.2 76.3h0.6M303.9 70.5h0.6M331.3 43.8h0.6M323.3 56.8h0.6M293.8 76.5h0.6M316.7 59.1h0.6M302.8 61.5h0.6M313.8 37.9h0.6M310.6 58.1h0.6M314.5 69.8h0.6M314.4 62.3h0.6M306.9 45.5h0.6M312.3 61.8h0.6M301.9 52.2h0.6M318.8 75.3h0.6M318.3 59.5h0.6M294.7 62.8h0.6M315.3 67.0h0.6M307.4 58.0h0.6M309.1 69.0h0.6M320.1 56.8h0.6M293.1 64.1h0.6M310.8 68.8h0.6M297.1 59.9h0.6M323.5 66.3h0.6M307.2 65.8h0.6M308.2 55.3h0.6M308.6 48.0h0.6M301.4 83.7h0.6M323.0 67.7h0.6" stroke="#000" stroke-width="0.60" stroke-opacity="0.3" fill="none"/>
<path d="M47.3 169.5h0.7M63.2 161.2h0.7M58.4 170.5h0.7M55.7 170.8h0.7M59.5 175.1h0.7M58.0 174.8h0.7M64.9 166.2h0.7M58.4 170.7h0.7M44.1 171.3h0.7M65.9 160.4h0.7M60.5 165.7h0.7M50.6 172.7h0.7M52.5 167.4h0.7M50.4 170.3h0.7M55.4 167.3h0.7M60.2 170.7h0.7M58.4 169.7h0.7M52.9 170.7h0.7M51.9 171.5h0.7M61.3 167.4h0.7M54.9 168.2h0.7M67.7 161.3h0.7M49.6 168.1h0.7M61.6 168.5h0.7M58.3 171.6h0.7M53.1 172.9h0.7M64.3 166.1h0.7M57.7 170.0h0.7M55.1 177.4h0.7M55.2 171.1h0.7M59.7 162.9h0.7M48.5 171.1h0.7M64.7 166.6h0.7M61.7 169.8h0.7M56.3 172.3h0.7M64.8 167.0h0.7M65.8 164.1h0.7M57.3 163.9h0.7M56.3 167.2h0.7M63.2 158.9h0.7M63.6 163.5h0.7M49.6 169.3h0.7M55.6 170.4h0.7M55.1 169.8h0.7M51.3 166.2h0.7M49.9 176.3h0.7M62.4 168.3h0.7M54.8 165.9h0.7M57.2 169.5h0.7M64.9 166.5h0.7M53.1 170.7h0.7M57.5 171.7h0.7M58.2 169.0h0.7M55.9 173.5h0.7M56.2 170.3h0.7M60.2 166.5h0.7M57.2 170.7h0.7M64.6 166.9h0.7M53.0 172.6h0.7M56.8 167.7h0.7M47.8 172.4h0.7M55.3 169.0h0.7M51.9 170.5h0.7M63.9 165.4h0.7M60.6 167.4h0.7M59.0 167.5h0.7M66.1 163.2h0.7M64.3 165.0h0.7M62.7 170.8h0.7M54.8 174.7h0.7M48.0 173.0h0.7M57.0 170.6h0.7M54.1 169.9h0.7M53.0 171.4h0.7M54.6 169.9h0.7M46.9 173.5h0.7M62.1 161.1h0.7M46.7 167.4h0.7M53.3 172.2h0.7M61.3 170.4h0.7M46.6 172.8h0.7M62.1 167.6h0.7M60.8 165.3h0.7M55.3 171.2h0.7M49.6 171.2h0.7M53.6 170.5h0.7M46.6 175.5h0.7M60.0 159.0h0.7M57.1 169.8h0.7M52.4 171.6h0.7M47.8 166.5h0.7M60.5 169.1h0.7M64.3 164.3h0.7M50.1 174.3h0.7M54.0 172.3h0.7M46.6 174.4h0.7M58.3 164.5h0.7M56.6 167.8h0.7M67.6 160.7h0.7M59.3 175.3h0.7M57.1 175.4h0.7M52.0 170.7h0.7M60.3 165.5h0.7M48.4 175.8h0.7M61.3 168.3h0.7M56.7 166.9h0.7M52.2 168.7h0.7M54.8 177.2h0.7M63.7 168.4h0.7M63.8 159.3h0.7M51.3 166.7h0.7M57.9 165.6h0.7M65.9 164.0h0.7M54.1 172.9h0.7M54.6 169.5h0.7M47.5 169.7h0.7M56.0 170.5h0.7M57.0 171.2h0.7M54.3 170.9h0.7M51.8 170.7h0.7M49.1 176.2h0.7M49.3 173.9h0.7M49.5 170.0h0.7M60.0 167.5h0.7M51.7 168.0h0.7M53.5 174.7h0.7M60.6 168.3h0.7M57.8 165.1h0.7M52.8 172.5h0.7M55.1 174.6h0.7M56.5 161.9h0.7M58.1 167.8h0.7M54.7 176.3h0.7M55.3 164.8h0.7M56.0 169.1h0.7M60.1 162.1h0.7M51.8 172.2h0.7M57.3 160.5h0.7M56.1 164.0h0.7M50.3 171.6h0.7M62.2 166.2h0.7M61.8 167.2h0.7M50.2 175.0h0.7M68.7 165.5h0.7M51.5 175.1h0.7M52.8 174.4h0.7M53.2 168.1h0.7M60.3 166.4h0.7M64.6 175.3h0.7M59.6 175.3h0.7M65.0 166.8h0.7M59.8 169.9h0.7M65.4 167.1h0.7M70.7 158.7h0.7M60.6 173.6h0.7M42.2 177.4h0.7M53.9 170.8h0.7M54.2 178.5h0.7M53.6 164.0h0.7M57.5 170.0h0.7M47.2 169.4h0.7M49.3 171.8h0.7M54.9 170.1h0.7M54.8 169.2h0.7M42.9 178.8h0.7M60.4 164.2h0.7M56.5 169.1h0.7M54.5 166.5h0.7M57.4 167.4h0.7M48.8 169.5h0.7M57.2 171.2h0.7M59.9 162.6h0.7M63.3 167.4h0.7M58.3 166.8h0.7M54.5 169.6h0.7M54.0 175.2h0.7M63.7 165.1h0.7M56.2 162.9h0.7M55.0 172.1h0.7M40.1 169.8h0.7M52.2 173.1h0.7M45.5 175.2h0.7M60.9 161.6h0.7M57.6 169.0h0.7M51.9 171.3h0.7M58.2 175.4h0.7M69.7 159.3h0.7M66.1 170.0h0.7M51.4 177.6h0.7M54.8 168.4h0.7M48.5 171.7h0.7M49.3 178.8h0.7M57.2 168.5h0.7M69.8 161.3h0.7M64.5 163.3h0.7M54.7 166.3h0.7M53.8 169.8h0.7M56.0 166.3h0.7M59.6 162.0h0.7M48.1 173.8h0.7M49.2 180.5h0.7M69.3 166.8h0.7M57.9 168.3h0.7M65.4 164.1h0.7M58.6 169.9h0.7M66.7 167.6h0.7M53.6 172.4h0.7M58.4 166.5h0.7M64.3 163.0h0.7M63.9 168.6h0.7M58.2 177.6h0.7M60.3 164.7h0.7M49.5 166.7h0.7M50.0 176.5h0.7M59.2 167.4h0.7M64.3 164.8h0.7M63.1 169.5h0.7M49.7 174.1h0.7M59.0 163.0h0.7M57.0 162.1h0.7M53.9 170.9h0.7M41.0 175.4h0.7M62.5 166.5h0.7M59.2 163.1h0.7M58.6 166.8h0.7M44.6 171.9h0.7M47.7 173.8h0.7M61.3 164.7h0.7M61.8 168.1h0.7M61.4 171.0h0.7M54.8 169.8h0.7M57.2 165.9h0.7M56.7 176.3h0.7M55.3 171.5h0.7M52.7 174.1h0.7M58.9 170.0h0.7M56.5 174.6h0.7M63.3 168.6h0.7M61.5 168.6h0.7M53.2 174.3h0.7M65.2 160.7h0.7M49.3 171.9h0.7M58.8 167.6h0.7M62.6 165.8h0.7M63.5 164.9h0.7M44.8 178.1h0.7M62.0 165.9h0.7M62.5 164.0h0.7M61.7 160.2h0.7M45.5 179.5h0.7M53.7 173.3h0.7M54.5 167.6h0.7M54.8 172.3h0.7M64.5 165.6h0.7M52.8 172.1h0.7M60.2 160.4h0.7M57.6 164.4h0.7M47.4 173.1h0.7M53.6 177.0h0.7M52.5 169.0h0.7M56.4 168.2h0.7M60.1 163.1h0.7M54.6 168.9h0.7M62.0 167.0h0.7M44.4 169.9h0.7M35.0 173.3h0.7M55.7 172.3h0.7M59.1 167.9h0.7M53.5 169.2h0.7M52.5 175.5h0.7M60.4 170.4h0.7M63.7 157.2h0.7M55.6 169.4h0.7M54.2 174.8h0.7M50.7 170.8h0.7M66.8 161.6h0.7M57.8 172.0h0.7M59.4 166.6h0.7M61.3 162.0h0.7M61.3 163.8h0.7M49.2 169.4h0.7M62.7 167.4h0.7M58.3 162.1h0.7M60.8 170.2h0.7M59.4 161.7h0.7M53.4 171.6h0.7M53.7 166.0h0.7M53.0 170.5h0.7M62.3 169.3h0.7M54.7 174.6h0.7M60.8 171.3h0.7M50.3 173.1h0.7M56.0 170.1h0.7M54.8 171.3h0.7M56.8 171.4h0.7M56.5 168.0h0.7M57.2 172.9h0.7M55.8 171.0h0.7M46.9 179.8h0.7M63.4 166.7h0.7M54.1 173.4h0.7M53.9 168.5h0.7M51.2 171.4h0.7M59.9 162.6h0.7M51.0 171.9h0.7M59.0 167.2h0.7M64.3 167.3h0.7M63.5 160.4h0.7M68.3 173.3h0.7M59.7 166.9h0.7M51.9 176.9h0.7M65.3 167.4h0.7M58.9 158.8h0.7M60.7 165.8h0.7M63.3 170.2h0.7M52.9 163.0h0.7M54.9 173.2h0.7M61.0 163.2h0.7M62.8 163.7h0.7M51.1 173.7h0.7M58.5 161.4h0.7M58.2 169.0h0.7M60.3 164.6h0.7M56.8 166.5h0.7M63.8 167.2h0.7M67.9 174.5h0.7M62.0 167.1h0.7M49.8 175.7h0.7M61.0 166.3h0.7M55.6 167.4h0.7M50.7 174.1h0.7M62.9 170.7h0.7M49.3 174.8h0.7M62.9 168.4h0.7M65.5 162.7h0.7M57.9 177.5h0.7M58.9 161.9h0.7M60.0 169.2h0.7M61.0 168.4h0.7M49.5 174.9h0.7M58.1 164.4h0.7M55.4 166.0h0.7M60.2 166.1h0.7M56.8 169.6h0.7M60.6 162.4h0.7M56.3 165.7h0.7M61.2 168.3h0.7M65.8 167.0h0.7M56.7 167.3h0.7M60.9 164.0h0.7M56.6 166.7h0.7M63.5 173.7h0.7M54.5 172.4h0.7M60.7 166.4h0.7M65.0 167.5h0.7M59.9 175.4h0.7M62.9 169.4h0.7M56.6 164.2h0.7M50.4 173.0h0.7M57.9 167.0h0.7M63.3 163.8h0.7M52.0 168.0h0.7M46.2 174.6h0.7M56.0 165.8h0.7M53.7 172.4h0.7M67.1 162.7h0.7M54.1 165.9h0.7M53.8 165.0h0.7M52.4 170.3h0.7M59.0 170.0h0.7M54.4 172.5h0.7M51.6 172.3h0.7M50.9 161.2h0.7M51.4 170.9h0.7M62.6 162.7h0.7M49.7 172.6h0.7M54.2 166.5h0.7M52.2 170.6h0.7M48.0 172.5h0.7M70.1 170.2h0.7M46.3 178.5h0.7M64.2 163.7h0.7M48.9 174.1h0.7M56.9 168.7h0.7M69.2 161.8h0.7M44.4 175.8h0.7M49.1 174.1h0.7M65.4 167.2h0.7M58.9 170.8h0.7M54.2 172.0h0.7M58.6 172.7h0.7M51.8 173.2h0.7M55.7 166.4h0.7M61.9 159.6h0.7M53.4 168.9h0.7M57.3 168.6h0.7M63.8 166.0h0.7M69.2 165.0h0.7M52.5 169.9h0.7M56.9 166.2h0.7M54.8 173.2h0.7M55.1 174.5h0.7M53.7 169.5h0.7M53.8 172.4h0.7M49.5 178.8h0.7M46.4 177.1h0.7M52.6 171.7h0.7M53.9 163.6h0.7M65.4 168.3h0.7M54.8 172.8h0.7M55.9 170.2h0.7M59.5 165.8h0.7M58.6 163.5h0.7M55.8 169.4h0.7M56.2 169.2h0.7M68.6 165.4h0.7M52.8 167.4h0.7M56.3 174.6h0.7M47.9 175.1h0.7M60.9 170.7h0.7M53.6 167.8h0.7M67.5 163.4h0.7M56.8 173.5h0.7M61.2 166.7h0.7M59.3 162.3h0.7M65.0 162.6h0.7M50.4 175.2h0.7M62.8 160.2h0.7M54.3 165.6h0.7M56.4 170.2h0.7M53.4 168.0h0.7M55.6 172.4h0.7M52.8 167.5h0.7M41.0 172.9h0.7M58.1 165.5h0.7M59.4 172.8h0.7M50.1 170.4h0.7M56.3 169.5h0.7M69.5 161.8h0.7M57.1 165.5h0.7M56.3 173.4h0.7M66.2 163.7h0.7M53.1 173.2h0.7M53.0 165.6h0.7M50.8 166.8h0.7M50.8 163.2h0.7M60.3 166.2h0.7M59.4 166.7h0.7M53.9 173.7h0.7M58.4 173.5h0.7M56.7 168.3h0.7M54.0 170.0h0.7M57.2 170.5h0.7M55.2 175.7h0.7M51.3 169.8h0.7M57.9 170.7h0.7M50.6 172.3h0.7M58.3 167.0h0.7M56.9 172.0h0.7M50.4 170.5h0.7M51.6 168.7h0.7M55.1 172.6h0.7M55.7 169.8h0.7M56.8 168.2h0.7M55.3 169.7h0.7M52.7 173.6h0.7M63.7 163.4h0.7M62.7 168.1h0.7M57.9 170.0h0.7M64.2 169.7h0.7M60.4 171.3h0.7M56.6 172.4h0.7M56.7 168.5h0.7M71.1 160.3h0.7M61.0 164.3h0.7M66.9 172.8h0.7M54.1 170.1h0.7M60.7 168.6h0.7M71.0 164.8h0.7M56.7 164.4h0.7M61.0 163.5h0.7M62.7 163.9h0.7M58.4 164.6h0.7M63.0 160.6h0.7M57.0 167.2h0.7M61.4 170.8h0.7M54.4 173.3h0.7M70.8 160.2h0.7M58.3 168.3h0.7M54.5 164.7h0.7M65.2 166.2h0.7M54.7 172.1h0.7M54.8 166.6h0.7M52.7 172.6h0.7M56.4 168.8h0.7M53.7 169.4h0.7M57.9 164.9h0.7M54.8 168.1h0.7M51.9 169.0h0.7M55.8 171.5h0.7M56.6 170.7h0.7M54.4 171.9h0.7M61.3 165.6h0.7M59.5 166.0h0.7M60.7 174.0h0.7M47.2 168.8h0.7M61.3 170.5h0.7M50.3 174.7h0.7M57.7 168.9h0.7M56.0 167.9h0.7M53.1 170.8h0.7M50.2 169.2h0.7M50.6 168.3h0.7M67.4 161.9h0.7M52.5 166.1h0.7M56.9 172.2h0.7M63.6 168.8h0.7M53.2 159.2h0.7M59.7 161.7h0.7M50.5 174.3h0.7M51.1 173.6h0.7M74.6 158.0h0.7M57.1 170.5h0.7M56.3 172.2h0.7M58.9 171.0h0.7M64.8 170.4h0.7M50.3 173.5h0.7M59.5 170.5h0.7M53.8 165.3h0.7M60.0 166.7h0.7M55.5 165.7h0.7M56.0 174.7h0.7M55.8 178.2h0.7M44.5 179.1h0.7M59.7 162.7h0.7M48.6 174.1h0.7M54.5 170.8h0.7M65.8 164.1h0.7M56.2 173.5h0.7M61.4 169.6h0.7M51.2 163.4h0.7M62.6 170.4h0.7M56.0 168.0h0.7M53.0 169.7h0.7M66.1 168.2h0.7M54.8 169.6h0.7M47.2 170.5h0.7M52.7 167.1h0.7M59.6 167.6h0.7M52.2 175.5h0.7M63.2 170.4h0.7M60.4 166.3h0.7M67.1 160.8h0.7M55.8 175.6h0.7M59.4 165.9h0.7M50.1 178.8h0.7M54.8 171.4h0.7M57.6 169.6h0.7M58.4 167.3h0.7M56.8 170.3h0.7M55.4 168.5h0.7M52.2 169.8h0.7M54.0 170.5h0.7M57.2 166.7h0.7M60.1 168.2h0.7M60.1 167.4h0.7M61.5 165.3h0.7M62.6 164.7h0.7M46.7 175.0h0.7M56.7 175.5h0.7M55.7 169.9h0.7M52.2 170.1h0.7M61.7 165.0h0.7M61.7 168.4h0.7M55.7 169.2h0.7M57.0 168.6h0.7M62.9 164.3h0.7M55.0 171.0h0.7M55.6 171.4h0.7M62.1 167.3h0.7M56.4 163.6h0.7M62.4 161.8h0.7M54.3 161.5h0.7M61.9 168.8h0.7M55.5 174.0h0.7M53.7 175.9h0.7M56.8 169.7h0.7M44.4 181.4h0.7M58.7 167.8h0.7M61.6 165.7h0.7M54.5 165.2h0.7M54.2 168.1h0.7M61.4 164.1h0.7M57.9 171.8h0.7M64.5 170.1h0.7M67.5 160.6h0.7M61.0 167.8h0.7M62.0 166.8h0.7M58.0 165.7h0.7M55.1 164.2h0.7M56.8 166.5h0.7M54.6 165.5h0.7M61.8 164.8h0.7M47.8 174.5h0.7M54.9 169.8h0.7M59.8 166.7h0.7M52.9 173.5h0.7M54.5 167.4h0.7M54.4 174.0h0.7M56.2 163.6h0.7M61.3 166.5h0.7M64.9 165.3h0.7M58.0 165.6h0.7M50.2 167.8h0.7M59.0 170.1h0.7M58.5 165.7h0.7M65.3 166.5h0.7M46.5 178.6h0.7M58.6 168.0h0.7M46.9 175.6h0.7M62.0 169.4h0.7M59.6 168.8h0.7M57.7 165.3h0.7M61.6 166.7h0.7M59.5 169.4h0.7M53.5 172.1h0.7M58.8 168.6h0.7M62.7 164.8h0.7M55.8 169.4h0.7M55.2 166.9h0.7M47.9 169.9h0.7M64.6 168.2h0.7M52.9 169.5h0.7M53.0 172.4h0.7M51.8 167.1h0.7M52.3 172.7h0.7M53.9 168.1h0.7M68.2 172.4h0.7M59.1 164.1h0.7M62.6 162.0h0.7M66.0 166.6h0.7M53.7 175.3h0.7M55.7 162.4h0.7M64.9 164.8h0.7M70.2 163.7h0.7M47.1 171.1h0.7M50.2 175.9h0.7M58.2 166.4h0.7M53.2 168.0h0.7M50.8 171.9h0.7M57.9 166.9h0.7M50.2 168.6h0.7M48.2 182.7h0.7M55.7 168.3h0.7M56.0 167.0h0.7M61.3 169.3h0.7M61.4 165.9h0.7M59.7 172.1h0.7M54.9 169.5h0.7M53.6 172.5h0.7M48.0 175.2h0.7M54.5 171.3h0.7M61.5 165.4h0.7M59.9 166.8h0.7M70.1 166.5h0.7M54.7 168.2h0.7M46.3 174.1h0.7M60.4 165.7h0.7M63.0 167.2h0.7M51.1 174.4h0.7M49.6 177.2h0.7M55.2 165.5h0.7M60.8 167.6h0.7M50.4 172.8h0.7M54.3 169.8h0.7M52.7 172.4h0.7M47.1 168.5h0.7M50.1 174.6h0.7M57.5 169.2h0.7M52.3 167.1h0.7M52.9 171.4h0.7M45.3 182.2h0.7M65.2 162.4h0.7M52.5 174.1h0.7M55.5 169.3h0.7M49.2 171.2h0.7M57.1 165.8h0.7M47.9 173.6h0.7M59.1 172.3h0.7M56.9 172.0h0.7M60.3 164.5h0.7M52.4 175.6h0.7M52.9 171.3h0.7M54.2 168.5h0.7M68.3 163.3h0.7M47.3 172.2h0.7M55.5 164.5h0.7M55.2 174.9h0.7M55.2 163.8h0.7M60.9 168.5h0.7M54.8 165.1h0.7M57.9 168.4h0.7M57.7 167.9h0.7M52.7 170.3h0.7M51.8 164.7h0.7M47.6 174.8h0.7M54.6 170.5h0.7M51.0 169.8h0.7M55.1 170.1h0.7M62.0 169.3h0.7M57.4 166.3h0.7M59.4 168.4h0.7M60.5 162.8h0.7M44.5 178.5h0.7M59.8 169.5h0.7M60.4 175.7h0.7M57.4 172.0h0.7M50.3 175.0h0.7M61.7 171.0h0.7M61.0 163.0h0.7M63.7 168.5h0.7M55.2 168.4h0.7M58.9 165.7h0.7M63.1 169.0h0.7M66.5 163.7h0.7M65.1 168.5h0.7M54.9 165.3h0.7M57.4 169.8h0.7M56.5 167.5h0.7M57.3 168.0h0.7M50.8 166.4h0.7M62.1 169.1h0.7M53.2 172.3h0.7M50.7 169.7h0.7M56.2 164.9h0.7M52.1 169.2h0.7M57.5 173.7h0.7M45.4 176.3h0.7M60.2 165.9h0.7M57.3 170.7h0.7M55.8 169.9h0.7M59.3 168.4h0.7M58.8 170.6h0.7M53.3 172.7h0.7M68.5 164.7h0.7M52.2 168.0h0.7M61.7 166.3h0.7M65.6 162.3h0.7M53.4 171.8h0.7M56.9 169.0h0.7M51.2 170.7h0.7M61.5 165.0h0.7M56.2 172.9h0.7M49.8 171.9h0.7M61.5 161.9h0.7M62.3 167.8h0.7M53.4 174.9h0.7M62.3 164.7h0.7M57.7 169.1h0.7M69.5 158.1h0.7M65.2 163.1h0.7M55.3 174.1h0.7M56.4 172.4h0.7M52.1 172.9h0.7M56.8 168.3h0.7M54.1 165.3h0.7M60.9 167.7h0.7M57.7 170.3h0.7M50.4 177.1h0.7M55.4 177.2h0.7M64.6 165.6h0.7M64.1 167.9h0.7M53.9 167.3h0.7M57.7 172.9h0.7M57.0 172.2h0.7M58.8 172.8h0.7M48.7 176.9h0.7M62.0 167.5h0.7M55.4 175.4h0.7M56.2 167.4h0.7M44.2 179.8h0.7M59.5 171.4h0.7M62.3 163.0h0.7M42.9 174.3h0.7M65.2 165.4h0.7M59.2 168.2h0.7M53.6 173.5h0.7M49.2 176.5h0.7M61.4 163.6h0.7M58.4 169.4h0.7M61.4 170.3h0.7M54.5 169.6h0.7M51.8 171.6h0.7M59.3 163.8h0.7M52.8 174.8h0.7M64.4 171.2h0.7M45.5 171.9h0.7M52.8 174.6h0.7M50.3 176.7h0.7M62.6 163.7h0.7" stroke="#000" stroke-width="0.65" stroke-opacity="0.85" fill="none"/>
<path d="M45.8 185.1h0.6M36.8 182.6h0.6M37.5 179.5h0.6M46.9 178.4h0.6M50.0 175.4h0.6M42.4 172.7h0.6M54.0 178.0h0.6M45.1 175.3h0.6M31.8 177.3h0.6M57.8 174.3h0.6M56.2 176.1h0.6M42.0 184.7h0.6M58.2 169.9h0.6M45.6 171.8h0.6M47.3 179.4h0.6M62.2 173.4h0.6M36.3 190.3h0.6M47.6 171.0h0.6M44.8 181.6h0.6M39.6 184.9h0.6M51.7 164.6h0.6M44.1 169.3h0.6M33.5 181.1h0.6M39.7 180.6h0.6M51.4 174.3h0.6M56.6 167.3h0.6M29.7 186.9h0.6M45.8 175.4h0.6M41.8 179.2h0.6M33.1 187.7h0.6M44.2 179.5h0.6M32.7 184.9h0.6M41.0 180.6h0.6M54.9 167.4h0.6M49.8 177.0h0.6M48.8 171.5h0.6M52.4 179.3h0.6M46.8 175.2h0.6M52.0 173.0h0.6M34.2 180.4h0.6M41.0 177.7h0.6M50.9 173.3h0.6M39.2 180.7h0.6M39.8 177.2h0.6M50.4 167.2h0.6M55.5 169.4h0.6M40.4 180.6h0.6M39.8 182.9h0.6M51.4 178.1h0.6M45.6 174.6h0.6M35.0 173.9h0.6M48.4 173.5h0.6M44.2 168.2h0.6M42.0 172.4h0.6M67.9 165.5h0.6M55.5 172.0h0.6M48.8 170.8h0.6M50.3 169.8h0.6M65.5 161.8h0.6M48.3 165.7h0.6M40.3 182.2h0.6M45.9 174.2h0.6M49.1 182.6h0.6M37.9 176.4h0.6M48.6 178.9h0.6M44.7 173.5h0.6M46.4 180.6h0.6M38.7 176.2h0.6M52.1 175.2h0.6M31.9 183.6h0.6M48.5 170.1h0.6M44.2 176.4h0.6M47.5 177.1h0.6M28.2 190.3h0.6M60.1 173.6h0.6M33.8 188.4h0.6M32.2 172.7h0.6M48.2 172.4h0.6M35.5 173.5h0.6M40.6 177.8h0.6M29.8 190.3h0.6M38.2 174.8h0.6M43.3 172.0h0.6M49.7 174.0h0.6M41.7 177.5h0.6M49.6 181.0h0.6M48.3 175.8h0.6M40.8 182.1h0.6M43.0 186.5h0.6M57.5 165.4h0.6M38.3 181.3h0.6M51.1 167.5h0.6M45.6 177.4h0.6M57.5 172.9h0.6M43.0 184.7h0.6M48.1 174.2h0.6M45.2 173.0h0.6M41.1 175.6h0.6M43.5 170.8h0.6M39.2 181.2h0.6M47.0 181.8h0.6M36.2 171.2h0.6M45.0 166.0h0.6M47.0 182.0h0.6M30.7 178.7h0.6M42.5 179.9h0.6M40.9 173.3h0.6M39.7 184.1h0.6M55.9 172.8h0.6M47.8 175.5h0.6M52.5 175.4h0.6M39.1 181.0h0.6M42.9 180.8h0.6M55.9 177.8h0.6M36.6 187.8h0.6M45.6 173.0h0.6M43.3 173.9h0.6M40.3 178.7h0.6M44.6 175.8h0.6M36.9 182.7h0.6M44.7 173.9h0.6M37.2 185.3h0.6M35.3 183.6h0.6M55.4 171.1h0.6M39.4 180.6h0.6M30.6 189.7h0.6M48.8 168.1h0.6M42.5 186.1h0.6M45.1 178.8h0.6M52.6 174.3h0.6M49.5 178.8h0.6M58.6 170.7h0.6M44.1 178.4h0.6M48.4 173.4h0.6M33.4 176.7h0.6M46.2 176.9h0.6M54.9 168.2h0.6M47.4 173.4h0.6M51.2 184.0h0.6M25.9 180.9h0.6M41.9 179.1h0.6M38.0 187.5h0.6M52.3 176.2h0.6M42.0 184.8h0.6M44.2 171.0h0.6M35.0 178.9h0.6M59.6 169.5h0.6M35.3 182.0h0.6M49.4 181.9h0.6M64.1 164.4h0.6M46.5 176.6h0.6M39.2 182.9h0.6M48.4 173.0h0.6M52.0 172.4h0.6M49.3 170.4h0.6M30.2 186.9h0.6M45.0 174.3h0.6M29.7 188.7h0.6" stroke="#000" stroke-width="0.60" stroke-opacity="0.4" fill="none"/>
<path d="M57.6 176.4h0.6M55.4 174.3h0.6M63.7 158.9h0.6M63.2 161.4h0.6M60.7 174.5h0.6M63.6 168.3h0.6M55.5 168.2h0.6M76.6 155.2h0.6M53.0 171.7h0.6M72.2 153.5h0.6M56.9 167.0h0.6M64.0 159.8h0.6M60.1 163.7h0.6M61.4 167.2h0.6M66.7 156.5h0.6M69.8 162.6h0.6M61.1 165.6h0.6M58.6 170.6h0.6M78.4 157.3h0.6M74.9 161.6h0.6M65.2 165.3h0.6M62.5 167.6h0.6M64.3 162.0h0.6M64.6 165.4h0.6M68.6 155.5h0.6M55.9 167.5h0.6M64.7 166.3h0.6M57.5 167.3h0.6M72.4 159.4h0.6M72.2 152.2h0.6M65.3 168.8h0.6M65.0 159.5h0.6M72.9 158.7h0.6M60.8 165.2h0.6M58.8 171.2h0.6M68.7 157.9h0.6M63.8 158.3h0.6M57.1 158.6h0.6M71.7 156.2h0.6M61.6 158.9h0.6M52.4 173.8h0.6M68.4 167.0h0.6M57.3 156.9h0.6M72.2 151.0h0.6M63.4 165.0h0.6M64.3 168.9h0.6M66.4 162.9h0.6M65.2 163.8h0.6M54.8 172.0h0.6M64.9 165.2h0.6M64.5 170.8h0.6M73.4 159.5h0.6M75.7 148.8h0.6M54.4 167.5h0.6M57.0 169.0h0.6M55.4 165.1h0.6M57.9 166.0h0.6M57.1 165.3h0.6M61.6 161.3h0.6M71.6 161.2h0.6M53.4 168.6h0.6M50.2 167.4h0.6M49.1 170.0h0.6M70.2 158.9h0.6M76.4 164.7h0.6M53.4 171.8h0.6M55.6 176.3h0.6M64.8 164.9h0.6M65.0 151.8h0.6M70.4 160.5h0.6M62.1 160.2h0.6M64.2 156.3h0.6M62.5 158.8h0.6M63.3 172.3h0.6M71.7 149.9h0.6M61.4 161.8h0.6M58.2 172.8h0.6M61.3 168.2h0.6M48.8 165.3h0.6M62.7 163.4h0.6M68.8 157.1h0.6M54.1 169.0h0.6M72.0 161.2h0.6M75.2 152.4h0.6M64.6 161.1h0.6M58.6 174.0h0.6M53.0 161.7h0.6M59.8 164.2h0.6M55.5 171.3h0.6M51.8 165.5h0.6M59.7 163.0h0.6M58.6 160.4h0.6M67.2 161.6h0.6M53.5 167.3h0.6M76.9 157.9h0.6M72.1 162.4h0.6M68.8 159.9h0.6M57.7 165.6h0.6M74.8 156.7h0.6M60.7 165.6h0.6" stroke="#000" stroke-width="0.60" stroke-opacity="0.35" fill="none"/>
<path d="M143.9 167.1h0.6M136.8 168.5h0.6M136.4 166.3h0.6M143.6 169.2h0.6M121.6 173.8h0.6M120.6 175.7h0.6M125.2 178.5h0.6M123.7 178.7h0.6M148.4 170.8h0.6M123.5 174.9h0.6M127.3 164.6h0.6M141.1 168.5h0.6M130.4 177.8h0.6M147.0 161.0h0.6M150.7 167.1h0.6M135.5 177.3h0.6M136.2 165.1h0.6M142.6 162.2h0.6M146.8 155.9h0.6M142.0 167.5h0.6M135.0 172.5h0.6M122.6 179.4h0.6M136.6 162.1h0.6M138.2 163.5h0.6M137.8 160.5h0.6M127.0 166.0h0.6M143.0 157.7h0.6M134.4 161.8h0.6M131.0 170.5h0.6M128.2 175.1h0.6M122.3 179.7h0.6M141.3 165.1h0.6M128.1 170.0h0.6M145.6 162.6h0.6M130.9 174.2h0.6M128.6 171.5h0.6M143.6 164.1h0.6M130.8 170.1h0.6M148.5 158.4h0.6M137.0 167.9h0.6M145.8 157.2h0.6M125.9 179.5h0.6M118.1 171.6h0.6M121.4 179.4h0.6M143.4 157.4h0.6M137.5 174.8h0.6M143.9 167.9h0.6M134.0 165.7h0.6M148.1 159.0h0.6M141.9 159.4h0.6M134.3 169.2h0.6M126.3 176.2h0.6M136.9 180.1h0.6M128.8 166.1h0.6M133.4 175.9h0.6M140.2 163.1h0.6M145.7 163.9h0.6M146.8 166.2h0.6M127.1 176.4h0.6M126.0 176.5h0.6M139.7 165.2h0.6M142.0 164.8h0.6M143.8 164.4h0.6M149.6 166.0h0.6M127.0 166.8h0.6M121.0 175.0h0.6M128.5 166.9h0.6M127.7 168.8h0.6M121.6 173.2h0.6M142.7 169.6h0.6M139.9 176.4h0.6M141.6 171.6h0.6M143.6 158.2h0.6M137.4 167.9h0.6M144.2 158.0h0.6M145.4 164.9h0.6M138.5 173.0h0.6M139.8 168.9h0.6M136.0 172.6h0.6M131.3 170.5h0.6M137.8 157.9h0.6M133.8 160.2h0.6M130.9 171.0h0.6M140.8 168.3h0.6M138.8 172.8h0.6M122.6 174.8h0.6M142.5 164.9h0.6M135.4 170.0h0.6M150.1 165.0h0.6M146.8 161.6h0.6M121.1 172.1h0.6M130.3 177.0h0.6M141.8 166.9h0.6M126.8 175.7h0.6M142.0 158.7h0.6M140.2 165.8h0.6M144.9 154.8h0.6M126.3 164.6h0.6M140.1 164.8h0.6M137.1 165.6h0.6M141.7 167.7h0.6M151.5 166.0h0.6M130.5 171.5h0.6M130.7 180.1h0.6M142.9 161.4h0.6M126.1 178.0h0.6M133.9 163.6h0.6M148.0 161.8h0.6M144.7 161.6h0.6M140.3 164.8h0.6M121.7 179.8h0.6M145.4 153.7h0.6M133.8 170.3h0.6M127.0 169.9h0.6M122.3 177.2h0.6M125.2 176.8h0.6M120.6 175.9h0.6M136.0 166.6h0.6M129.0 167.1h0.6M130.0 174.6h0.6M143.1 160.9h0.6M123.3 178.1h0.6M129.6 165.4h0.6M147.0 168.4h0.6M142.7 159.5h0.6M143.7 169.3h0.6M134.8 167.0h0.6M125.9 177.1h0.6M131.6 170.4h0.6M143.3 167.3h0.6M143.4 164.0h0.6M141.0 171.5h0.6M148.4 164.2h0.6M138.4 170.2h0.6M149.0 168.6h0.6M145.7 159.3h0.6M127.8 179.6h0.6M124.5 175.6h0.6M146.5 155.0h0.6M129.9 174.4h0.6M133.0 169.2h0.6M136.3 176.3h0.6M144.4 161.0h0.6M120.5 177.9h0.6M135.2 170.0h0.6M129.8 163.0h0.6M124.0 178.0h0.6M131.3 166.5h0.6M149.2 167.2h0.6M125.1 182.9h0.6M127.5 173.5h0.6M134.9 161.5h0.6M136.7 168.9h0.6M143.2 164.9h0.6M131.8 174.4h0.6M123.1 174.7h0.6M128.6 167.2h0.6M144.6 162.6h0.6M131.1 166.9h0.6M135.6 177.1h0.6M142.0 161.4h0.6M136.2 165.2h0.6M124.0 175.4h0.6M128.8 166.8h0.6M146.3 160.1h0.6M120.6 177.0h0.6M141.8 162.6h0.6M128.7 171.6h0.6M145.1 168.9h0.6M125.8 176.6h0.6M136.9 161.5h0.6M144.9 161.0h0.6M123.6 179.4h0.6M147.3 158.5h0.6M123.4 176.4h0.6M120.3 177.7h0.6M145.8 165.1h0.6M135.0 168.1h0.6M120.8 176.9h0.6M137.8 163.2h0.6M136.0 170.1h0.6M147.9 156.8h0.6M152.9 166.5h0.6M146.3 162.1h0.6M135.2 167.8h0.6M146.2 166.0h0.6M141.9 164.4h0.6M128.4 173.4h0.6M142.3 164.4h0.6M127.3 170.1h0.6M130.7 167.2h0.6M120.9 174.1h0.6M126.5 179.5h0.6M133.7 166.8h0.6M144.3 161.5h0.6M142.9 162.1h0.6M126.2 177.6h0.6M140.5 175.2h0.6M127.2 169.2h0.6M127.3 176.2h0.6M131.2 171.8h0.6M139.8 164.7h0.6M148.8 163.1h0.6M120.2 171.8h0.6M130.5 175.6h0.6M142.9 165.3h0.6M132.8 165.5h0.6M135.0 176.6h0.6M145.8 166.6h0.6M123.0 181.8h0.6M145.3 155.9h0.6M127.6 172.1h0.6M144.3 160.9h0.6M146.4 165.2h0.6M148.0 167.7h0.6M134.6 160.2h0.6M139.5 166.4h0.6M121.2 176.7h0.6M134.9 173.8h0.6M138.7 166.6h0.6M125.5 168.6h0.6M140.0 165.1h0.6M134.4 164.4h0.6M138.4 163.3h0.6M145.8 162.7h0.6M129.0 170.3h0.6M139.3 167.7h0.6M118.3 171.8h0.6M148.8 171.8h0.6M147.1 167.8h0.6M142.2 168.1h0.6M138.0 161.0h0.6M132.3 160.3h0.6M127.9 169.1h0.6M143.4 162.8h0.6M128.6 183.5h0.6M140.2 172.1h0.6M122.1 174.2h0.6M144.9 168.8h0.6M137.6 173.3h0.6M139.0 166.7h0.6M127.7 179.2h0.6M133.2 171.7h0.6M138.4 163.8h0.6M130.8 165.9h0.6M141.4 164.5h0.6M124.6 180.0h0.6M127.9 166.8h0.6M119.8 170.4h0.6M143.3 166.6h0.6M126.1 161.4h0.6M146.3 170.9h0.6M141.8 162.8h0.6M122.7 179.9h0.6M142.5 173.3h0.6M141.1 158.4h0.6M145.3 157.8h0.6M127.4 184.3h0.6M122.2 175.3h0.6M133.0 169.6h0.6M143.0 165.3h0.6M125.6 179.7h0.6M152.7 164.7h0.6M141.6 165.6h0.6M119.7 176.6h0.6M142.2 164.5h0.6M133.5 171.3h0.6M128.0 179.4h0.6M140.2 166.5h0.6M145.3 171.5h0.6M136.8 163.8h0.6M128.7 175.3h0.6M129.2 180.9h0.6M124.5 181.4h0.6M125.7 176.1h0.6M129.0 168.4h0.6M128.6 169.4h0.6M121.8 176.2h0.6M146.0 163.9h0.6M125.1 173.8h0.6M119.3 171.4h0.6M124.7 171.7h0.6M134.3 171.9h0.6M140.5 169.7h0.6M119.5 171.6h0.6M123.8 174.0h0.6M117.3 171.7h0.6M130.8 168.9h0.6M157.4 172.4h0.6M143.6 164.2h0.6M144.9 161.4h0.6M146.2 159.5h0.6M124.1 169.8h0.6M135.5 159.8h0.6M132.4 170.4h0.6M130.3 170.5h0.6M145.9 169.5h0.6M133.4 162.1h0.6M139.6 168.3h0.6M130.9 177.8h0.6M144.1 154.2h0.6M141.1 168.5h0.6M135.5 161.0h0.6M143.9 166.2h0.6M150.5 166.7h0.6M125.3 174.8h0.6M128.5 174.3h0.6M147.7 158.1h0.6M140.8 166.9h0.6M149.0 166.0h0.6M129.6 171.4h0.6M149.3 159.8h0.6M133.8 171.6h0.6M145.9 166.4h0.6M143.9 155.9h0.6M135.6 168.9h0.6M131.1 168.1h0.6M136.0 170.8h0.6M126.1 179.3h0.6M122.8 177.8h0.6M151.1 165.5h0.6M137.5 162.8h0.6M121.7 175.1h0.6M135.6 163.9h0.6M127.6 173.7h0.6M145.4 163.2h0.6M130.4 170.8h0.6M118.0 173.4h0.6M139.8 165.8h0.6M148.9 158.6h0.6M143.4 166.9h0.6M148.3 159.8h0.6M125.5 180.2h0.6M129.2 173.6h0.6M139.4 157.5h0.6M133.5 169.1h0.6M122.3 169.8h0.6M132.3 175.2h0.6M131.6 177.9h0.6M141.1 165.2h0.6M144.1 165.7h0.6M139.0 159.7h0.6M135.3 158.1h0.6M141.3 162.6h0.6M147.2 160.5h0.6M124.7 167.9h0.6M128.5 173.3h0.6M150.1 161.4h0.6M147.8 164.4h0.6M143.2 171.5h0.6M145.5 166.6h0.6M138.5 165.1h0.6M129.5 172.8h0.6M138.2 169.9h0.6M125.1 169.9h0.6M125.8 180.9h0.6M132.1 175.1h0.6M143.8 162.7h0.6M122.8 173.3h0.6M129.4 190.5h0.6M128.8 176.7h0.6M145.5 167.2h0.6M150.3 168.4h0.6M130.3 176.5h0.6M149.3 161.5h0.6M135.8 171.9h0.6M138.7 162.4h0.6M141.5 168.5h0.6M130.1 164.6h0.6M146.1 164.4h0.6M148.1 163.8h0.6M130.9 164.1h0.6M133.1 179.3h0.6M145.7 157.1h0.6M143.2 169.1h0.6M129.8 169.6h0.6M125.6 176.2h0.6M130.5 168.6h0.6M138.6 178.8h0.6M146.6 167.0h0.6" stroke="#000" stroke-width="0.60" stroke-opacity="0.6" fill="none"/>
<path d="M158.9 158.9h0.6M149.5 161.5h0.6M148.3 161.1h0.6M143.9 163.6h0.6M140.8 165.3h0.6M145.9 158.6h0.6M144.9 165.1h0.6M143.0 167.5h0.6M132.2 171.3h0.6M140.1 165.3h0.6M148.1 162.3h0.6M139.7 167.7h0.6M146.4 164.1h0.6M144.4 169.6h0.6M133.9 167.9h0.6M136.5 170.0h0.6M138.2 169.9h0.6M141.0 166.5h0.6M140.8 165.7h0.6M150.9 157.6h0.6M133.8 168.7h0.6M127.8 176.0h0.6M150.6 165.0h0.6M138.8 165.6h0.6M142.9 166.6h0.6M164.3 154.4h0.6M156.2 160.4h0.6M148.3 162.8h0.6M151.4 161.6h0.6M145.3 166.4h0.6M149.4 158.0h0.6M138.4 167.9h0.6M135.3 164.4h0.6M137.0 162.8h0.6M154.8 155.9h0.6M153.8 154.4h0.6M139.1 168.9h0.6M153.8 161.8h0.6M141.6 165.0h0.6M151.7 159.7h0.6M140.4 165.9h0.6M150.6 160.0h0.6M142.6 165.8h0.6M141.4 167.0h0.6M142.5 164.0h0.6M143.6 162.5h0.6M138.0 166.5h0.6M133.4 173.0h0.6M156.3 156.2h0.6M142.0 169.9h0.6M128.5 172.8h0.6M126.9 178.4h0.6M119.4 175.3h0.6M137.5 166.2h0.6M154.8 159.7h0.6M130.9 173.5h0.6M140.6 166.1h0.6M131.2 177.9h0.6M152.2 160.0h0.6M146.6 163.9h0.6M145.2 162.2h0.6M156.2 162.3h0.6M157.6 159.2h0.6M152.1 161.0h0.6M136.6 164.0h0.6M133.2 171.8h0.6M134.4 168.7h0.6M129.8 173.9h0.6M159.0 158.5h0.6M140.9 164.1h0.6M144.7 164.8h0.6M146.0 165.9h0.6M159.7 155.9h0.6M138.4 166.8h0.6M151.5 157.1h0.6M144.9 162.0h0.6M140.5 162.8h0.6M129.2 175.9h0.6M150.9 160.9h0.6M135.9 165.7h0.6M139.7 167.0h0.6M143.6 161.0h0.6M140.0 157.3h0.6M153.9 162.3h0.6M139.5 170.5h0.6M142.8 160.9h0.6M144.7 162.0h0.6M143.8 165.2h0.6M148.3 160.9h0.6M140.3 164.2h0.6M152.4 158.2h0.6M137.4 167.6h0.6M131.1 170.3h0.6M143.3 165.5h0.6M152.6 158.9h0.6M138.3 165.6h0.6M138.4 167.8h0.6M138.5 162.9h0.6M146.5 167.2h0.6M139.8 161.9h0.6M145.8 163.3h0.6M130.0 173.6h0.6M155.9 158.8h0.6M148.4 162.7h0.6M138.0 171.6h0.6M153.0 156.1h0.6M146.9 162.6h0.6M155.4 158.4h0.6M133.3 169.2h0.6M155.9 155.9h0.6M145.3 167.4h0.6M126.0 172.9h0.6M148.8 160.3h0.6M140.6 165.7h0.6M135.0 169.1h0.6M141.8 166.2h0.6M127.5 173.4h0.6M148.5 163.0h0.6M141.8 166.2h0.6M141.8 167.2h0.6M156.4 161.3h0.6M142.6 162.9h0.6M140.1 171.5h0.6M135.2 168.3h0.6M143.7 166.6h0.6M152.1 160.3h0.6M138.3 166.9h0.6M132.6 165.4h0.6M152.8 164.1h0.6M142.9 162.9h0.6M142.2 163.3h0.6M161.4 157.5h0.6M133.7 170.6h0.6M147.3 168.0h0.6M131.2 176.7h0.6M141.8 167.8h0.6M148.4 162.7h0.6M153.3 161.3h0.6M131.5 167.9h0.6M150.3 161.4h0.6M149.8 161.5h0.6M141.8 164.4h0.6M163.4 154.0h0.6M141.5 161.7h0.6M137.4 170.9h0.6M148.4 165.7h0.6M126.8 170.7h0.6M156.1 157.9h0.6M153.2 163.6h0.6M140.7 167.6h0.6M147.0 159.8h0.6M146.4 160.2h0.6M159.9 157.7h0.6M140.7 171.7h0.6M131.6 168.5h0.6M127.1 174.4h0.6M140.0 164.6h0.6M130.4 171.5h0.6M142.3 166.3h0.6M146.6 162.9h0.6M139.0 165.4h0.6M138.4 173.8h0.6M152.7 159.0h0.6M141.5 165.4h0.6M146.6 166.2h0.6M151.0 160.5h0.6M132.6 170.5h0.6M137.1 171.2h0.6M162.1 151.1h0.6M143.0 167.2h0.6M136.3 171.9h0.6M142.1 167.5h0.6M138.5 167.1h0.6M133.5 170.5h0.6M137.9 163.1h0.6M143.0 164.7h0.6M143.6 165.5h0.6M148.7 164.2h0.6M129.6 173.2h0.6M130.9 171.0h0.6M148.6 159.4h0.6M139.7 166.8h0.6M153.3 159.5h0.6M147.3 166.0h0.6M132.0 171.4h0.6M147.0 161.3h0.6M135.1 169.3h0.6M144.8 162.6h0.6M152.9 158.7h0.6M157.6 150.3h0.6M140.8 161.8h0.6M147.5 159.1h0.6M146.3 164.5h0.6M149.6 161.0h0.6M123.1 177.0h0.6M141.7 169.1h0.6M144.4 161.3h0.6M148.5 165.1h0.6M137.8 169.2h0.6M149.1 159.5h0.6M154.0 162.9h0.6M142.1 161.5h0.6M140.1 163.5h0.6M140.2 166.1h0.6M145.0 165.1h0.6M152.6 159.0h0.6M152.7 153.3h0.6M139.2 166.4h0.6M135.8 169.0h0.6M140.1 174.0h0.6M152.9 163.2h0.6M145.3 164.1h0.6M144.4 161.1h0.6M147.6 163.4h0.6M144.9 160.6h0.6M142.6 165.8h0.6M135.5 170.4h0.6M137.9 166.8h0.6M144.6 164.8h0.6M146.1 162.3h0.6M139.7 165.3h0.6M141.9 170.0h0.6M155.0 159.8h0.6M139.2 166.3h0.6M144.2 162.2h0.6M141.0 166.7h0.6M137.2 170.0h0.6M132.3 173.7h0.6M140.9 170.5h0.6M137.4 169.6h0.6M148.7 158.5h0.6M136.7 174.5h0.6M141.5 169.2h0.6M149.6 163.6h0.6M144.1 168.2h0.6M145.5 159.4h0.6M149.6 160.2h0.6M129.5 171.4h0.6M141.5 169.3h0.6M134.2 166.7h0.6M153.7 157.9h0.6M144.3 168.6h0.6M148.1 163.9h0.6M156.4 156.2h0.6M142.8 170.5h0.6M142.3 161.7h0.6M147.2 163.9h0.6M140.9 165.6h0.6M154.0 160.2h0.6M149.5 160.5h0.6" stroke="#000" stroke-width="0.60" stroke-opacity="0.6" fill="none"/>
<path d="M162.6 149.4h0.6M168.5 146.0h0.6M147.2 157.4h0.6M145.7 159.4h0.6M157.1 149.5h0.6M155.6 151.9h0.6M167.3 144.0h0.6M152.2 154.4h0.6M162.6 149.7h0.6M162.8 149.0h0.6M151.7 157.4h0.6M145.3 160.5h0.6M156.6 154.8h0.6M150.2 157.1h0.6M150.8 158.6h0.6M157.0 153.2h0.6M150.2 158.4h0.6M158.9 150.6h0.6M159.1 147.9h0.6M155.3 150.1h0.6M161.1 153.5h0.6M150.3 157.6h0.6M159.8 151.1h0.6M166.2 145.3h0.6M165.7 145.0h0.6M150.7 162.8h0.6M152.0 153.2h0.6M162.9 147.9h0.6M159.7 150.1h0.6M153.5 152.1h0.6M164.5 144.0h0.6M166.7 143.8h0.6M158.7 150.1h0.6M150.7 155.4h0.6M169.9 144.9h0.6M155.8 150.4h0.6M154.1 155.0h0.6M149.7 160.4h0.6M169.5 145.3h0.6M161.1 146.7h0.6M143.7 154.9h0.6M150.4 158.6h0.6M168.6 145.1h0.6M146.3 158.3h0.6M163.2 150.6h0.6M158.8 149.9h0.6M157.6 151.9h0.6M161.2 146.9h0.6M153.7 155.1h0.6M160.2 148.9h0.6M166.4 144.4h0.6M160.4 152.1h0.6M158.3 151.6h0.6M158.7 147.6h0.6M150.4 158.3h0.6M154.2 155.9h0.6M162.0 146.7h0.6M158.8 150.0h0.6M148.0 158.5h0.6M166.4 144.9h0.6M155.4 153.5h0.6M151.8 157.1h0.6M148.2 157.2h0.6M170.3 147.4h0.6M162.5 146.7h0.6M152.2 154.3h0.6M151.8 160.0h0.6M168.7 149.1h0.6M148.7 158.0h0.6M157.9 151.1h0.6M160.6 147.2h0.6M169.6 145.8h0.6M162.3 148.7h0.6M146.8 157.4h0.6M158.4 152.0h0.6M169.2 146.6h0.6M152.5 156.8h0.6M149.5 162.2h0.6M147.7 161.2h0.6M166.3 146.5h0.6M168.3 144.1h0.6M157.1 153.2h0.6M153.9 156.9h0.6M155.8 154.8h0.6M150.5 158.9h0.6M156.1 153.2h0.6M157.6 153.4h0.6M159.6 153.0h0.6M147.5 158.4h0.6M168.0 141.5h0.6M162.4 152.1h0.6M159.9 151.3h0.6M165.2 145.4h0.6M146.5 160.0h0.6M159.4 149.9h0.6M152.5 151.5h0.6M160.8 149.0h0.6M167.0 142.0h0.6M147.0 159.6h0.6M149.2 157.3h0.6M154.9 156.0h0.6M158.2 151.0h0.6M166.1 146.6h0.6M163.0 147.2h0.6M158.3 150.3h0.6M148.4 155.1h0.6M158.6 153.1h0.6M156.2 153.1h0.6M147.2 157.7h0.6M168.1 144.8h0.6M165.6 145.2h0.6M159.6 148.7h0.6M151.4 156.5h0.6M160.7 152.2h0.6M152.8 154.4h0.6M159.7 147.1h0.6M145.3 158.9h0.6M161.9 152.6h0.6M158.2 149.5h0.6M169.4 146.1h0.6M159.0 150.2h0.6M165.3 147.9h0.6M150.4 156.5h0.6M157.2 148.5h0.6M152.7 154.2h0.6M171.8 146.4h0.6M168.8 143.5h0.6M151.7 157.0h0.6M160.2 149.1h0.6M146.6 159.1h0.6M159.0 151.4h0.6M170.1 144.0h0.6M150.8 161.3h0.6M163.2 147.7h0.6M157.7 151.2h0.6M169.2 142.1h0.6M153.9 151.4h0.6M164.0 143.7h0.6M160.6 151.0h0.6M163.1 143.8h0.6M167.8 147.7h0.6M162.1 150.4h0.6M153.4 153.9h0.6M158.7 148.4h0.6M164.8 146.7h0.6M165.5 146.2h0.6M162.0 151.1h0.6M155.6 151.4h0.6M146.7 158.5h0.6M147.8 158.4h0.6M160.9 148.8h0.6M154.2 152.7h0.6M160.2 146.1h0.6M156.3 149.0h0.6M154.3 152.5h0.6M149.9 156.6h0.6M167.2 147.2h0.6M154.2 159.2h0.6M162.6 152.0h0.6M148.0 159.3h0.6M171.0 146.4h0.6M148.7 157.7h0.6M157.1 150.9h0.6M167.7 149.7h0.6M149.7 154.9h0.6M160.7 148.6h0.6M154.9 153.0h0.6M170.6 145.8h0.6M147.7 157.3h0.6M150.6 158.3h0.6" stroke="#000" stroke-width="0.60" stroke-opacity="0.55" fill="none"/>
<path d="M127.2 166.4h0.6M123.3 175.0h0.6M121.2 175.6h0.6M117.5 176.1h0.6M118.5 173.4h0.6M123.8 172.4h0.6M123.5 175.2h0.6M124.1 172.9h0.6M119.1 177.5h0.6M117.1 175.8h0.6M126.8 169.8h0.6M122.0 171.0h0.6M129.6 170.2h0.6M129.4 168.2h0.6M120.8 171.1h0.6M122.3 170.2h0.6M128.2 169.0h0.6M119.4 175.7h0.6M128.1 167.8h0.6M122.9 173.5h0.6M122.4 176.1h0.6M124.1 172.2h0.6M124.9 168.2h0.6M128.7 167.6h0.6M127.6 166.7h0.6M117.4 175.9h0.6M120.0 175.5h0.6M121.9 173.1h0.6M117.5 175.3h0.6M123.5 172.0h0.6M123.0 171.3h0.6M125.0 171.7h0.6M122.0 172.9h0.6M121.0 174.7h0.6M125.2 170.3h0.6M118.8 177.1h0.6M117.9 176.4h0.6M127.5 168.8h0.6M119.6 174.4h0.6M119.7 175.4h0.6M119.5 172.6h0.6M127.3 173.2h0.6M120.2 173.7h0.6M126.5 169.8h0.6M125.8 169.5h0.6M122.6 172.1h0.6M130.3 167.2h0.6M127.3 168.2h0.6M119.0 175.1h0.6M119.5 173.2h0.6M118.3 174.9h0.6M126.2 168.1h0.6M121.4 176.6h0.6M122.6 170.8h0.6M117.9 175.0h0.6M129.5 167.5h0.6M128.6 170.1h0.6M125.2 168.1h0.6M125.7 167.9h0.6M122.5 173.1h0.6M120.3 175.2h0.6M116.7 175.5h0.6M121.7 170.8h0.6M129.0 166.1h0.6M118.4 177.4h0.6M120.1 174.8h0.6M125.2 171.9h0.6M118.4 176.1h0.6M121.5 173.7h0.6M128.1 169.3h0.6M120.3 174.5h0.6M121.8 173.9h0.6M120.6 173.0h0.6M119.8 174.2h0.6M128.7 168.5h0.6M130.1 166.3h0.6M124.9 169.8h0.6M121.4 174.8h0.6M121.2 174.8h0.6M126.8 169.4h0.6M126.6 168.4h0.6M129.2 168.8h0.6M121.2 177.8h0.6M119.5 174.0h0.6M120.9 171.8h0.6M122.7 171.5h0.6M127.8 167.2h0.6M117.7 174.8h0.6M120.6 172.6h0.6M119.7 176.5h0.6M129.0 168.9h0.6M128.2 170.5h0.6M129.0 168.8h0.6M121.4 173.0h0.6M125.4 172.2h0.6M129.0 166.7h0.6M117.5 176.4h0.6M127.4 167.1h0.6M128.8 169.7h0.6M124.1 173.1h0.6M127.6 168.0h0.6M127.5 168.4h0.6M119.9 175.0h0.6M130.7 166.5h0.6M130.8 167.4h0.6M121.0 174.2h0.6M130.7 166.8h0.6M123.7 169.6h0.6M124.1 171.1h0.6M126.6 166.8h0.6M131.2 168.6h0.6M122.0 175.5h0.6M119.7 176.3h0.6M129.6 168.8h0.6M125.0 174.0h0.6M125.6 171.8h0.6M122.7 170.2h0.6M129.2 167.1h0.6M123.4 168.5h0.6M126.4 168.5h0.6M126.9 167.4h0.6M117.5 176.9h0.6M125.3 171.2h0.6M124.9 169.5h0.6M118.7 175.6h0.6M119.9 175.4h0.6M118.3 176.1h0.6M122.9 172.2h0.6M126.1 166.2h0.6M120.5 173.9h0.6M129.8 168.1h0.6M118.6 176.5h0.6M121.0 171.8h0.6M120.4 174.2h0.6M130.6 166.7h0.6M119.0 174.2h0.6M129.5 168.2h0.6M123.9 170.5h0.6M120.9 173.7h0.6M123.0 172.3h0.6M120.9 177.6h0.6M125.4 170.0h0.6M126.0 169.1h0.6M124.0 172.8h0.6M127.8 167.8h0.6M128.0 168.7h0.6M124.9 167.4h0.6M127.9 169.0h0.6M123.2 172.2h0.6M118.6 174.1h0.6M125.6 172.4h0.6M123.5 171.7h0.6M119.3 175.1h0.6M125.9 168.1h0.6M122.2 170.6h0.6M126.2 169.0h0.6M118.9 173.4h0.6M121.0 174.9h0.6M119.4 176.7h0.6M129.2 166.4h0.6M125.6 167.9h0.6M121.3 173.2h0.6M117.4 175.4h0.6M122.1 173.4h0.6M128.1 168.6h0.6M129.3 166.7h0.6M119.8 175.2h0.6M130.7 167.8h0.6M121.5 176.3h0.6M117.5 176.1h0.6M119.8 176.2h0.6M117.5 176.5h0.6M119.9 173.3h0.6M128.8 169.7h0.6M124.2 172.1h0.6M128.3 168.4h0.6M119.0 176.3h0.6M127.5 168.6h0.6M118.5 174.5h0.6M123.2 175.1h0.6M130.8 167.5h0.6M127.5 169.2h0.6M128.1 169.8h0.6M127.2 171.1h0.6M122.3 172.7h0.6M126.4 170.6h0.6M123.0 171.9h0.6M128.6 168.9h0.6M126.4 169.3h0.6M131.3 169.4h0.6M128.5 167.4h0.6M129.2 168.2h0.6M119.1 176.3h0.6M117.5 176.4h0.6M123.3 173.6h0.6M130.2 166.5h0.6M125.3 169.9h0.6M125.3 170.6h0.6M128.0 167.2h0.6M126.9 171.1h0.6M119.5 176.3h0.6M124.6 172.7h0.6M128.2 166.2h0.6M128.6 168.3h0.6M117.7 175.6h0.6M131.0 166.1h0.6M125.5 172.4h0.6M121.6 174.0h0.6M123.1 172.1h0.6M131.0 167.6h0.6M130.3 168.0h0.6M123.7 174.8h0.6M124.7 168.2h0.6M118.7 176.5h0.6M127.8 167.9h0.6M117.8 175.3h0.6M127.2 169.2h0.6M120.9 172.4h0.6M117.8 173.2h0.6M118.7 174.5h0.6" stroke="#000" stroke-width="0.60" stroke-opacity="0.9" fill="none"/>
<path d="M123.5 172.6h0.6M140.1 167.3h0.6M121.6 176.7h0.6M122.4 185.2h0.6M116.4 187.8h0.6M131.2 187.4h0.6M129.6 182.8h0.6M130.9 178.9h0.6M122.0 189.0h0.6M122.6 179.0h0.6M130.9 178.5h0.6M120.7 188.7h0.6M139.5 177.6h0.6M134.9 180.1h0.6M131.1 175.9h0.6M132.4 178.3h0.6M121.9 182.3h0.6M137.3 175.1h0.6M124.0 186.1h0.6M141.3 168.6h0.6M133.3 181.8h0.6M118.7 189.5h0.6M137.5 178.8h0.6M139.3 164.3h0.6M124.1 173.6h0.6M138.5 177.3h0.6M127.0 177.9h0.6M123.9 179.2h0.6M135.5 169.4h0.6M126.0 179.9h0.6M130.8 175.0h0.6M120.5 181.3h0.6M124.4 184.4h0.6M135.0 170.5h0.6M129.3 184.6h0.6M122.4 172.9h0.6M128.4 173.5h0.6M136.3 178.0h0.6M128.3 184.1h0.6M128.4 179.8h0.6M122.7 186.6h0.6M139.2 173.1h0.6M121.8 175.3h0.6M129.3 180.9h0.6M143.7 176.4h0.6M127.0 178.0h0.6M115.5 179.3h0.6M122.0 180.7h0.6M127.9 181.7h0.6M142.7 173.0h0.6M133.5 182.1h0.6M129.3 181.9h0.6M136.5 177.5h0.6M134.7 166.8h0.6M129.0 190.0h0.6M139.8 173.5h0.6M137.4 178.7h0.6M132.1 176.0h0.6M131.2 178.5h0.6M142.6 179.0h0.6M130.9 185.5h0.6M147.1 171.9h0.6M134.3 185.8h0.6M121.9 181.7h0.6M134.9 178.5h0.6M130.9 176.3h0.6M138.2 180.3h0.6M128.3 180.1h0.6M140.8 177.3h0.6M129.4 187.4h0.6M126.5 171.2h0.6M124.9 183.4h0.6M130.5 177.1h0.6M121.3 174.9h0.6M126.0 179.8h0.6M123.7 171.8h0.6M131.7 178.3h0.6M134.8 175.4h0.6M138.9 182.4h0.6M136.3 173.8h0.6M133.4 182.0h0.6M128.4 185.4h0.6M126.9 179.6h0.6M125.8 185.0h0.6M114.0 181.0h0.6M139.1 168.5h0.6M116.4 185.5h0.6M132.3 177.5h0.6M131.2 172.5h0.6M127.3 178.5h0.6M149.4 171.1h0.6M129.0 177.4h0.6M124.1 181.6h0.6M140.3 168.8h0.6M127.0 187.2h0.6M123.2 183.9h0.6M125.1 181.3h0.6M133.6 184.8h0.6M133.2 179.4h0.6M117.8 182.8h0.6M129.5 172.9h0.6M144.3 167.9h0.6M129.3 189.8h0.6M127.7 177.5h0.6M140.6 186.5h0.6M138.3 174.2h0.6M124.7 181.0h0.6M125.8 187.7h0.6M122.2 182.3h0.6M138.3 176.0h0.6M134.0 171.7h0.6" stroke="#000" stroke-width="0.60" stroke-opacity="0.35" fill="none"/>
<path d="M209.3 181.3h0.6M216.2 180.7h0.6M209.5 183.2h0.6M209.8 181.4h0.6M211.4 177.3h0.6M212.3 172.9h0.6M213.9 176.9h0.6M207.7 178.0h0.6M213.0 181.0h0.6M205.4 181.2h0.6M211.7 181.1h0.6M208.7 173.2h0.6M209.5 184.0h0.6M210.1 175.7h0.6M205.3 175.0h0.6M210.3 173.4h0.6M204.6 179.5h0.6M212.2 183.3h0.6M215.7 179.7h0.6M209.2 174.8h0.6M214.6 177.6h0.6M214.3 176.9h0.6M209.9 172.7h0.6M211.3 174.5h0.6M208.8 171.2h0.6M208.6 176.4h0.6M208.3 168.8h0.6M211.5 175.3h0.6M212.0 174.4h0.6M203.9 178.9h0.6M211.7 183.7h0.6M211.6 177.2h0.6M209.6 180.7h0.6M210.1 182.7h0.6M206.8 185.0h0.6M212.3 181.3h0.6M213.6 175.3h0.6M209.2 175.1h0.6M206.1 178.1h0.6M210.5 177.2h0.6M208.7 180.2h0.6M208.5 179.9h0.6M207.5 185.5h0.6M212.0 178.1h0.6M208.1 188.2h0.6M215.2 181.4h0.6M204.2 180.3h0.6M214.3 181.1h0.6M210.9 185.0h0.6M210.6 181.0h0.6M207.5 182.5h0.6M204.1 175.1h0.6M216.5 187.2h0.6M213.6 176.6h0.6M206.2 180.8h0.6M209.7 184.5h0.6M214.5 176.4h0.6M210.4 175.6h0.6M215.3 179.7h0.6M207.1 176.5h0.6M214.0 180.7h0.6M212.3 178.9h0.6M214.4 182.2h0.6M207.7 175.4h0.6M210.1 184.9h0.6M209.2 181.2h0.6M209.9 188.1h0.6M204.7 179.3h0.6M212.0 186.6h0.6M214.8 180.2h0.6M209.7 183.1h0.6M209.3 176.7h0.6M214.2 179.8h0.6M207.2 183.8h0.6M207.3 177.3h0.6M206.7 176.1h0.6M210.8 175.8h0.6M216.6 182.6h0.6M205.3 182.5h0.6M212.1 182.5h0.6M205.5 183.0h0.6M208.2 180.9h0.6M209.4 180.8h0.6M207.1 179.2h0.6M211.2 184.2h0.6M208.9 180.8h0.6M210.4 180.3h0.6M205.1 175.9h0.6M209.4 181.1h0.6M206.0 178.6h0.6M208.3 178.2h0.6M213.9 182.1h0.6M214.6 176.3h0.6M207.6 183.4h0.6M214.9 182.0h0.6M207.0 178.8h0.6M206.3 182.8h0.6M213.4 179.0h0.6M208.7 175.3h0.6M203.9 173.2h0.6M205.5 173.4h0.6M214.7 179.8h0.6M212.2 178.8h0.6M205.5 176.0h0.6M206.3 178.6h0.6M210.0 177.8h0.6M205.6 180.2h0.6M207.2 180.7h0.6M216.9 185.6h0.6M210.9 175.7h0.6M205.5 182.4h0.6M208.1 177.1h0.6M207.9 177.8h0.6M210.9 175.2h0.6M208.9 179.1h0.6M206.3 178.9h0.6M214.0 179.0h0.6M207.3 181.8h0.6M209.9 175.7h0.6M211.2 187.2h0.6M209.2 174.8h0.6M207.3 182.4h0.6M217.5 185.1h0.6M207.5 177.7h0.6M214.1 183.2h0.6M215.0 183.2h0.6M210.3 180.8h0.6" stroke="#000" stroke-width="0.60" stroke-opacity="0.6" fill="none"/>
<path d="M221.2 174.3h0.6M225.4 176.0h0.6M225.2 174.7h0.6M218.5 176.6h0.6M222.4 170.3h0.6M213.7 172.8h0.6M215.7 173.4h0.6M218.1 172.7h0.6M214.8 174.9h0.6M216.3 171.2h0.6M218.1 182.0h0.6M223.5 173.4h0.6M218.3 167.0h0.6M215.7 172.2h0.6M217.9 169.9h0.6M219.3 175.6h0.6M225.0 175.8h0.6M216.2 172.3h0.6M218.4 177.6h0.6M222.3 171.9h0.6M224.5 176.4h0.6M224.4 177.4h0.6M216.2 177.6h0.6M216.6 179.0h0.6M224.3 171.9h0.6M224.1 170.5h0.6M215.1 172.3h0.6M220.5 175.3h0.6M219.5 174.2h0.6M217.2 174.2h0.6M215.7 176.3h0.6M217.2 175.0h0.6M222.8 168.5h0.6M218.5 172.9h0.6M219.0 179.4h0.6M215.4 175.9h0.6M223.8 177.8h0.6M221.4 168.8h0.6M215.2 171.4h0.6M222.8 173.2h0.6M216.5 179.3h0.6M215.2 174.2h0.6M222.5 175.4h0.6M217.5 179.4h0.6M221.5 177.8h0.6M219.7 174.0h0.6M215.2 176.7h0.6M220.4 167.3h0.6M222.4 173.0h0.6M223.4 173.5h0.6M223.9 177.8h0.6M215.6 171.5h0.6M220.5 170.5h0.6M219.0 170.7h0.6M222.8 176.4h0.6M218.2 165.0h0.6M216.0 172.0h0.6M227.7 178.4h0.6M220.7 176.5h0.6M215.9 171.1h0.6M220.2 173.9h0.6M226.2 174.3h0.6M223.0 174.8h0.6M215.6 175.8h0.6M216.4 173.0h0.6M223.2 175.9h0.6M224.6 171.7h0.6M221.8 176.5h0.6M221.1 175.3h0.6M214.2 175.5h0.6M219.0 180.6h0.6M222.2 171.0h0.6M218.2 177.0h0.6M219.3 172.1h0.6M221.4 172.5h0.6M220.5 173.0h0.6M221.5 170.7h0.6M221.8 174.2h0.6M220.3 179.4h0.6M224.0 179.5h0.6M224.4 177.6h0.6M215.4 176.1h0.6M227.1 176.2h0.6M221.9 174.9h0.6M227.8 177.2h0.6M221.5 168.4h0.6M217.8 181.4h0.6M214.8 174.7h0.6M225.5 175.9h0.6M216.7 174.2h0.6M225.7 174.8h0.6M224.3 170.7h0.6M219.5 167.0h0.6M219.6 170.6h0.6M219.0 173.8h0.6M224.1 172.1h0.6M217.5 166.6h0.6M213.9 172.8h0.6M221.0 170.7h0.6M218.0 174.5h0.6M216.7 176.9h0.6M217.3 172.4h0.6M221.0 167.6h0.6M222.9 173.9h0.6M218.2 173.9h0.6M224.7 175.2h0.6M219.7 172.3h0.6M219.5 177.1h0.6M214.5 173.7h0.6M222.3 174.1h0.6M217.6 175.9h0.6M220.8 175.6h0.6M215.8 172.8h0.6M221.1 173.2h0.6M214.1 174.1h0.6M217.5 175.0h0.6M222.3 175.5h0.6M228.5 181.6h0.6M222.4 173.1h0.6M219.1 177.6h0.6M219.2 175.2h0.6M221.9 177.7h0.6M225.3 173.2h0.6M218.5 179.3h0.6M223.5 173.8h0.6M220.2 183.8h0.6M225.7 176.6h0.6M213.2 171.1h0.6M219.3 175.8h0.6M218.8 175.2h0.6M217.9 166.5h0.6M216.7 172.6h0.6M222.3 171.2h0.6M223.6 169.3h0.6M222.4 173.5h0.6M212.2 171.4h0.6M217.2 178.8h0.6M224.4 175.0h0.6M219.7 175.9h0.6" stroke="#000" stroke-width="0.60" stroke-opacity="0.6" fill="none"/>
<path d="M232.6 163.3h0.6M227.6 172.9h0.6M231.9 164.8h0.6M229.4 164.8h0.6M229.5 171.5h0.6M229.7 171.9h0.6M225.5 169.0h0.6M231.1 171.6h0.6M228.7 172.9h0.6M231.0 166.2h0.6M237.6 171.0h0.6M227.9 169.6h0.6M228.0 170.6h0.6M226.6 162.3h0.6M227.2 172.5h0.6M225.5 169.1h0.6M227.5 171.6h0.6M230.7 162.2h0.6M231.9 171.5h0.6M235.2 170.6h0.6M236.3 171.4h0.6M223.5 162.2h0.6M227.7 172.0h0.6M226.2 172.1h0.6M227.7 159.4h0.6M229.3 166.5h0.6M233.4 166.3h0.6M233.8 171.3h0.6M225.5 168.4h0.6M230.2 169.2h0.6M229.0 169.0h0.6M226.8 171.8h0.6M225.9 169.7h0.6M233.5 169.6h0.6M233.2 170.1h0.6M227.2 165.6h0.6M228.0 173.7h0.6M226.5 168.1h0.6M229.0 168.3h0.6M234.2 170.1h0.6M229.4 169.4h0.6M233.5 168.6h0.6M229.9 171.4h0.6M232.0 169.5h0.6M231.7 165.7h0.6M227.8 166.6h0.6M230.8 170.5h0.6M226.8 173.2h0.6M226.7 171.9h0.6M231.6 167.0h0.6M227.4 173.2h0.6M226.9 170.4h0.6M227.8 165.2h0.6M234.8 166.8h0.6M235.8 166.9h0.6M234.0 169.0h0.6M227.3 167.2h0.6M225.7 168.6h0.6M229.7 170.0h0.6M225.0 170.1h0.6M227.8 169.8h0.6M233.6 169.8h0.6M231.9 168.9h0.6M237.2 170.7h0.6M228.7 170.5h0.6M231.9 173.5h0.6M234.1 170.0h0.6M231.5 176.7h0.6M227.5 170.3h0.6M234.8 165.6h0.6M230.6 172.9h0.6M233.1 165.1h0.6M228.4 168.1h0.6M234.5 166.9h0.6M234.0 167.7h0.6M225.9 166.3h0.6M226.0 172.0h0.6M231.3 166.9h0.6M228.5 169.6h0.6M228.7 170.2h0.6M232.0 166.9h0.6M230.9 172.0h0.6M228.6 171.3h0.6M233.5 166.1h0.6M233.2 167.1h0.6M234.8 169.5h0.6M229.6 171.8h0.6M236.9 169.1h0.6M230.0 168.3h0.6M228.5 170.2h0.6M229.6 176.0h0.6M233.2 166.8h0.6M234.8 171.8h0.6M235.8 168.3h0.6M225.4 170.1h0.6M223.6 167.8h0.6M235.0 168.0h0.6M226.6 168.4h0.6M227.4 168.0h0.6M223.8 166.6h0.6M232.0 171.8h0.6M227.4 170.8h0.6M225.8 171.5h0.6M235.3 167.0h0.6M226.9 171.6h0.6M229.0 169.8h0.6M228.0 171.9h0.6M233.0 166.1h0.6M229.0 160.5h0.6M235.5 168.1h0.6M230.6 170.0h0.6M233.1 167.1h0.6M235.7 171.0h0.6M231.4 163.2h0.6M222.3 163.4h0.6M232.3 172.6h0.6M232.3 168.9h0.6M225.7 165.7h0.6M232.4 166.0h0.6M232.5 169.5h0.6M231.3 163.9h0.6M233.5 168.7h0.6M232.8 174.6h0.6M228.5 174.6h0.6M227.5 170.2h0.6M230.6 169.6h0.6M233.2 163.6h0.6M227.4 170.9h0.6M232.8 166.0h0.6M226.2 167.7h0.6M229.0 164.8h0.6M237.1 171.3h0.6M229.8 169.3h0.6M225.8 167.8h0.6M227.6 168.8h0.6M234.9 171.1h0.6M234.3 171.9h0.6M230.5 166.4h0.6M227.6 171.0h0.6M234.1 169.5h0.6M233.0 165.9h0.6M228.0 166.0h0.6M226.4 167.6h0.6M231.3 168.1h0.6M231.8 165.1h0.6M227.7 165.7h0.6M230.4 167.8h0.6M234.1 169.7h0.6M235.4 168.0h0.6M225.6 170.7h0.6M235.0 172.5h0.6M224.6 169.4h0.6M227.7 170.0h0.6M229.9 164.2h0.6M228.1 172.7h0.6M231.6 167.5h0.6M230.4 162.8h0.6M230.7 165.6h0.6M236.1 171.4h0.6M232.4 169.9h0.6M230.4 169.0h0.6" stroke="#000" stroke-width="0.60" stroke-opacity="0.6" fill="none"/>
<path d="M236.1 163.4h0.6M239.7 161.8h0.6M243.0 161.3h0.6M242.9 158.3h0.6M233.9 160.7h0.6M240.5 161.6h0.6M235.5 164.5h0.6M241.4 161.8h0.6M243.7 158.6h0.6M240.9 165.8h0.6M239.8 157.6h0.6M239.7 158.4h0.6M242.6 161.4h0.6M235.1 161.9h0.6M240.6 162.0h0.6M235.5 165.0h0.6M235.9 158.2h0.6M236.6 166.4h0.6M246.8 160.5h0.6M238.7 163.1h0.6M235.2 160.7h0.6M245.2 159.8h0.6M237.6 159.9h0.6M239.9 161.1h0.6M244.3 159.3h0.6M238.9 159.7h0.6M236.2 158.9h0.6M242.1 159.3h0.6M237.9 162.9h0.6M235.1 162.5h0.6M240.9 158.1h0.6M241.1 162.9h0.6M244.8 157.3h0.6M239.7 160.1h0.6M243.0 157.1h0.6M235.6 165.4h0.6M235.3 165.4h0.6M238.2 162.3h0.6M241.1 156.0h0.6M239.1 160.9h0.6M240.0 159.3h0.6M238.7 162.7h0.6M240.2 165.0h0.6M239.8 164.7h0.6M238.8 164.4h0.6M235.5 165.4h0.6M241.2 159.4h0.6M238.6 163.6h0.6M243.4 157.1h0.6M240.3 160.0h0.6M235.2 162.5h0.6M237.8 163.0h0.6M236.6 163.8h0.6M245.4 163.0h0.6M238.4 164.5h0.6M239.9 160.2h0.6M240.5 163.5h0.6M237.9 161.6h0.6M245.2 160.5h0.6M241.3 162.9h0.6M242.6 168.7h0.6M234.9 161.9h0.6M237.8 162.9h0.6M236.7 163.7h0.6M242.1 160.7h0.6M243.5 160.9h0.6M239.4 158.7h0.6M240.9 158.3h0.6M242.9 160.0h0.6M242.2 162.8h0.6M235.1 161.7h0.6M238.9 157.3h0.6M237.0 167.5h0.6M241.0 163.3h0.6M238.3 166.3h0.6M240.4 157.9h0.6M241.3 159.7h0.6M238.6 163.2h0.6M241.5 161.6h0.6M241.9 159.5h0.6M240.0 161.2h0.6M239.1 165.4h0.6M235.4 163.7h0.6M242.8 157.4h0.6M235.1 163.9h0.6M236.1 162.8h0.6M243.0 159.4h0.6M235.1 164.6h0.6M235.7 163.4h0.6M240.9 165.2h0.6M236.9 164.8h0.6M234.8 164.4h0.6M244.7 161.7h0.6M235.8 163.0h0.6M244.1 158.1h0.6M235.3 164.9h0.6M236.8 162.1h0.6M240.1 160.1h0.6M236.1 164.8h0.6M237.5 158.8h0.6M239.2 160.8h0.6M241.3 161.1h0.6M244.6 158.6h0.6M239.5 162.7h0.6M247.7 162.7h0.6M238.2 165.0h0.6M241.3 159.9h0.6M239.0 161.8h0.6M242.7 159.2h0.6M240.8 162.1h0.6M243.0 158.0h0.6M238.8 167.1h0.6M235.9 161.2h0.6M241.4 162.3h0.6M242.1 161.3h0.6M237.0 160.2h0.6M244.0 160.2h0.6M239.6 163.5h0.6M243.3 156.7h0.6M247.8 162.5h0.6M236.5 166.5h0.6M240.8 159.7h0.6M242.8 157.6h0.6M234.3 163.6h0.6M242.7 160.0h0.6M240.9 160.9h0.6M237.9 158.6h0.6M236.1 161.2h0.6M241.2 158.2h0.6M236.5 162.9h0.6M236.2 163.3h0.6M237.4 161.3h0.6M245.8 158.7h0.6M240.5 164.0h0.6M236.5 164.4h0.6M235.5 158.0h0.6M242.4 159.0h0.6M242.0 161.5h0.6M242.0 159.5h0.6M243.6 159.3h0.6M238.0 163.3h0.6M236.1 159.8h0.6M239.6 153.7h0.6M239.7 163.6h0.6M239.3 160.3h0.6" stroke="#000" stroke-width="0.60" stroke-opacity="0.6" fill="none"/>
<path d="M248.4 154.4h0.6M244.9 153.6h0.6M247.3 153.2h0.6M247.0 153.8h0.6M250.2 155.0h0.6M250.1 154.2h0.6M247.8 155.2h0.6M251.1 149.2h0.6M246.3 155.2h0.6M256.9 149.0h0.6M257.1 150.0h0.6M249.0 150.2h0.6M253.2 149.2h0.6M247.7 155.4h0.6M248.9 154.9h0.6M255.9 147.9h0.6M251.5 153.4h0.6M252.0 147.6h0.6M256.6 151.1h0.6M251.9 148.4h0.6M250.5 152.8h0.6M250.2 154.2h0.6M247.1 158.5h0.6M256.5 149.7h0.6M254.4 151.4h0.6M247.3 158.6h0.6M254.8 148.5h0.6M249.3 155.5h0.6M257.1 150.7h0.6M245.8 154.8h0.6M243.5 155.2h0.6M254.0 147.0h0.6M257.4 150.1h0.6M252.4 154.1h0.6M255.5 147.4h0.6M246.3 156.9h0.6M247.4 156.6h0.6M257.9 148.8h0.6M253.9 144.9h0.6M252.6 149.4h0.6M248.7 153.6h0.6M253.9 150.4h0.6M245.1 157.6h0.6M248.8 153.3h0.6M255.6 148.9h0.6M244.5 151.4h0.6M250.4 160.5h0.6M251.9 153.5h0.6M254.2 151.7h0.6M247.9 153.3h0.6M255.3 149.5h0.6M258.4 150.9h0.6M249.9 157.8h0.6M249.7 153.5h0.6M253.4 146.9h0.6M251.2 152.4h0.6M253.6 149.2h0.6M249.8 155.4h0.6M253.2 147.0h0.6M254.8 148.4h0.6M254.6 149.7h0.6M254.9 147.6h0.6M251.0 154.9h0.6M249.7 150.4h0.6M253.1 147.2h0.6M253.2 149.4h0.6M252.5 153.0h0.6M245.0 156.7h0.6M246.8 154.3h0.6M251.4 153.9h0.6M254.3 149.9h0.6M255.2 147.2h0.6M257.0 147.3h0.6M249.3 153.1h0.6M257.3 148.2h0.6" stroke="#000" stroke-width="0.60" stroke-opacity="0.6" fill="none"/>
<path d="M212.5 171.5h0.6M206.5 171.3h0.6M208.2 170.5h0.6M207.9 169.2h0.6M213.1 169.7h0.6M216.1 175.9h0.6M207.5 173.9h0.6M211.1 173.0h0.6M216.2 177.1h0.6M216.8 167.7h0.6M212.0 168.8h0.6M222.7 168.6h0.6M210.5 168.7h0.6M216.1 171.1h0.6M211.6 175.8h0.6M205.4 171.6h0.6M211.8 170.4h0.6M216.5 175.3h0.6M212.3 168.4h0.6M211.8 169.9h0.6M210.4 173.4h0.6M207.2 173.2h0.6M209.3 170.5h0.6M216.3 175.0h0.6M216.1 168.2h0.6M214.5 169.4h0.6M217.2 168.8h0.6M216.8 165.3h0.6M215.0 173.5h0.6M214.8 169.2h0.6M211.1 176.4h0.6M210.0 169.2h0.6M214.0 169.4h0.6M206.7 175.9h0.6M207.9 174.2h0.6M212.1 169.8h0.6M204.8 174.9h0.6M210.6 168.5h0.6M204.2 175.7h0.6M209.7 164.6h0.6M212.2 172.4h0.6M210.6 176.9h0.6M208.1 176.6h0.6M210.3 175.5h0.6M210.4 174.2h0.6M212.0 170.7h0.6M218.0 168.8h0.6M209.1 173.0h0.6M206.9 163.6h0.6M220.2 171.0h0.6M221.5 169.0h0.6M210.4 175.4h0.6M216.2 167.0h0.6M218.8 170.9h0.6M215.1 172.0h0.6M204.0 168.5h0.6M204.8 169.7h0.6M214.9 170.7h0.6M223.2 164.6h0.6M210.9 172.4h0.6M219.3 166.5h0.6M223.6 171.3h0.6M207.1 169.9h0.6M218.6 165.8h0.6M215.3 166.0h0.6M214.0 169.1h0.6M211.8 171.9h0.6M213.5 167.0h0.6M209.0 174.5h0.6M226.5 169.3h0.6M207.2 177.7h0.6M204.9 181.6h0.6M214.0 174.6h0.6M219.4 168.4h0.6M211.5 177.9h0.6M212.5 174.0h0.6M208.8 179.4h0.6" stroke="#000" stroke-width="0.60" stroke-opacity="0.4" fill="none"/>
<path d="M292.2 180.3h0.6M297.2 179.3h0.6M298.7 182.1h0.6M295.5 186.1h0.6M297.6 180.5h0.6M290.5 183.1h0.6M294.2 181.8h0.6M302.8 185.0h0.6M293.2 186.8h0.6M290.1 180.3h0.6M293.2 182.4h0.6M290.7 181.9h0.6M294.4 180.2h0.6M290.4 176.8h0.6M295.9 181.0h0.6M296.9 177.5h0.6M296.9 187.1h0.6M292.4 187.7h0.6M294.2 178.0h0.6M289.2 180.6h0.6M289.9 180.7h0.6M293.5 173.8h0.6M298.9 177.6h0.6M289.9 180.0h0.6M297.5 183.2h0.6M290.7 184.1h0.6M298.9 176.4h0.6M303.2 183.9h0.6M297.9 182.7h0.6M292.5 183.4h0.6M297.3 188.4h0.6M298.4 185.2h0.6M291.0 180.9h0.6M296.4 182.0h0.6M298.1 177.3h0.6M296.4 189.2h0.6M302.8 183.1h0.6M295.9 175.0h0.6M290.9 186.4h0.6M298.6 183.9h0.6M298.2 179.0h0.6M299.2 177.3h0.6M293.6 188.1h0.6M294.6 181.8h0.6M294.4 180.6h0.6M300.4 182.0h0.6M294.0 180.7h0.6M291.8 187.6h0.6M290.3 184.5h0.6M296.5 184.2h0.6M292.3 186.1h0.6M296.6 184.0h0.6M293.6 177.7h0.6M298.9 187.5h0.6M295.3 180.5h0.6M293.4 190.6h0.6M295.6 178.3h0.6M289.4 183.9h0.6M294.3 180.7h0.6M293.6 187.7h0.6M292.9 180.9h0.6M298.9 180.7h0.6M295.0 174.2h0.6M297.8 177.3h0.6M297.3 180.9h0.6M294.9 181.0h0.6M294.0 173.5h0.6M291.3 186.2h0.6M302.9 185.1h0.6M296.7 179.4h0.6M298.9 189.3h0.6M293.6 185.4h0.6M300.7 179.7h0.6M290.8 182.0h0.6M292.0 182.9h0.6M300.4 179.9h0.6M293.4 173.5h0.6M300.6 182.3h0.6M296.9 174.7h0.6M299.0 177.5h0.6M293.1 184.8h0.6M297.0 183.5h0.6M294.2 183.3h0.6M293.8 183.7h0.6M294.8 179.8h0.6M299.3 179.3h0.6M297.9 185.1h0.6M292.2 181.3h0.6M292.6 185.3h0.6M299.8 181.6h0.6M295.7 179.8h0.6M292.3 184.3h0.6M298.5 180.1h0.6M289.3 182.9h0.6M291.7 181.6h0.6M301.4 185.1h0.6M297.3 184.8h0.6M292.4 173.7h0.6M299.6 179.5h0.6M302.1 181.5h0.6M300.1 181.8h0.6M292.2 179.1h0.6M295.8 182.1h0.6M293.6 181.2h0.6M293.4 183.4h0.6M298.5 186.6h0.6M290.4 186.2h0.6M301.8 181.8h0.6M292.0 177.8h0.6M288.8 180.2h0.6M295.2 179.0h0.6M299.4 186.7h0.6M294.1 175.8h0.6M296.5 173.0h0.6M294.0 181.7h0.6M292.1 188.9h0.6M293.3 181.4h0.6M289.3 178.9h0.6M297.8 186.3h0.6M297.7 182.9h0.6M295.6 182.3h0.6M290.0 184.5h0.6M289.3 184.1h0.6M290.1 185.3h0.6M295.3 178.2h0.6M291.9 179.4h0.6M292.9 177.6h0.6M293.8 182.3h0.6M295.1 177.6h0.6M301.8 180.9h0.6M291.4 174.0h0.6M292.9 185.4h0.6M298.3 181.7h0.6M294.4 187.5h0.6M296.2 179.4h0.6M292.3 176.2h0.6M293.9 187.4h0.6M291.3 182.5h0.6M292.6 181.1h0.6M297.5 177.0h0.6M296.8 179.9h0.6M294.1 180.9h0.6M290.4 177.2h0.6M288.6 182.9h0.6M294.0 186.8h0.6M301.9 183.6h0.6M293.2 182.0h0.6M291.3 181.4h0.6M302.3 182.8h0.6M291.5 182.9h0.6M295.4 175.6h0.6M293.3 182.0h0.6M294.9 184.7h0.6M296.4 187.7h0.6M291.3 181.6h0.6M293.5 184.9h0.6M291.8 182.0h0.6M296.9 185.5h0.6M294.7 182.8h0.6M290.3 185.7h0.6M291.5 179.1h0.6M297.4 178.3h0.6M296.7 178.7h0.6M293.5 186.4h0.6M296.1 180.6h0.6M295.7 180.0h0.6M289.3 183.5h0.6" stroke="#000" stroke-width="0.60" stroke-opacity="0.6" fill="none"/>
<path d="M304.2 179.3h0.6M300.7 178.6h0.6M307.9 177.2h0.6M306.7 168.5h0.6M306.8 169.1h0.6M308.5 172.2h0.6M302.1 176.8h0.6M308.7 172.5h0.6M301.6 179.0h0.6M301.6 174.2h0.6M304.5 166.8h0.6M301.7 178.7h0.6M307.4 172.7h0.6M309.4 175.7h0.6M312.8 178.8h0.6M308.7 173.2h0.6M308.2 175.5h0.6M300.1 174.4h0.6M302.8 180.0h0.6M301.4 178.6h0.6M303.6 176.9h0.6M304.8 178.9h0.6M308.0 168.8h0.6M309.6 174.6h0.6M301.8 178.9h0.6M307.6 179.9h0.6M304.9 167.9h0.6M303.8 175.4h0.6M309.1 181.4h0.6M308.1 171.6h0.6M308.4 171.3h0.6M304.9 182.3h0.6M312.7 180.5h0.6M304.7 175.7h0.6M299.0 175.8h0.6M302.0 174.5h0.6M308.2 171.6h0.6M300.4 174.5h0.6M300.3 174.7h0.6M309.9 172.8h0.6M304.4 175.6h0.6M310.0 174.0h0.6M302.9 176.5h0.6M298.5 174.1h0.6M310.5 174.7h0.6M303.7 176.9h0.6M308.4 170.7h0.6M306.3 173.2h0.6M309.0 174.0h0.6M303.4 176.4h0.6M306.9 173.4h0.6M309.5 175.4h0.6M308.7 177.1h0.6M308.7 171.6h0.6M309.1 172.6h0.6M303.7 171.4h0.6M309.2 171.9h0.6M308.0 175.2h0.6M310.7 175.1h0.6M301.8 177.7h0.6M302.9 176.0h0.6M300.3 175.0h0.6M300.7 178.5h0.6M304.7 170.9h0.6M310.0 172.6h0.6M306.4 174.3h0.6M308.2 169.5h0.6M308.8 174.1h0.6M305.8 173.7h0.6M305.1 177.4h0.6M301.2 175.4h0.6M310.5 173.7h0.6M312.2 177.0h0.6M309.3 173.2h0.6M304.8 178.4h0.6M306.4 171.7h0.6M304.8 173.8h0.6M304.9 167.6h0.6M305.4 174.2h0.6M298.2 174.7h0.6M303.0 176.7h0.6M299.1 170.4h0.6M301.8 173.5h0.6M303.6 176.2h0.6M300.9 179.1h0.6M302.2 170.1h0.6M308.7 171.2h0.6M310.7 181.9h0.6M303.6 179.1h0.6M310.0 172.7h0.6M303.9 164.7h0.6M307.2 170.0h0.6M302.1 178.9h0.6M307.5 174.5h0.6M304.1 177.4h0.6M309.7 176.1h0.6M303.9 176.1h0.6M304.0 179.1h0.6M306.6 167.0h0.6M313.0 180.3h0.6M306.0 173.3h0.6M303.7 173.3h0.6M308.3 179.1h0.6M307.7 175.9h0.6M306.0 178.3h0.6M303.0 173.8h0.6M303.2 177.3h0.6M307.5 176.4h0.6M300.9 173.0h0.6M303.8 174.9h0.6M302.5 175.6h0.6M308.6 171.7h0.6M304.0 172.9h0.6M299.3 173.4h0.6M302.0 178.6h0.6M308.2 174.1h0.6M311.4 175.8h0.6M302.2 176.5h0.6M304.5 172.6h0.6M302.3 170.9h0.6M304.6 175.7h0.6M306.5 172.9h0.6M311.6 179.1h0.6M312.3 179.9h0.6M305.0 181.3h0.6M304.5 171.8h0.6M299.1 173.0h0.6M301.5 176.2h0.6M301.9 173.3h0.6M308.2 178.8h0.6M305.1 175.4h0.6M299.8 176.6h0.6M304.9 175.0h0.6M303.9 180.7h0.6M300.1 174.2h0.6M309.5 174.3h0.6M304.2 170.3h0.6M302.1 175.9h0.6M306.6 171.5h0.6M310.4 173.1h0.6M308.8 173.4h0.6M303.6 180.7h0.6M307.8 176.1h0.6M303.1 173.8h0.6M302.1 171.5h0.6M300.4 174.5h0.6M300.5 176.0h0.6M309.4 171.5h0.6M303.2 173.1h0.6M303.6 180.2h0.6M306.3 178.0h0.6M304.1 174.5h0.6M300.7 175.6h0.6M307.0 172.9h0.6M306.2 174.1h0.6M307.2 173.6h0.6M305.6 168.2h0.6M308.0 171.5h0.6M306.7 166.5h0.6M307.1 173.9h0.6M311.0 174.1h0.6M308.0 169.0h0.6M302.2 177.3h0.6M302.8 173.9h0.6M303.6 173.1h0.6M308.2 181.0h0.6M302.6 180.1h0.6M304.8 177.1h0.6M307.1 172.0h0.6M305.8 176.2h0.6M306.3 173.5h0.6M307.7 175.2h0.6M304.7 171.6h0.6M300.0 177.7h0.6M303.1 174.6h0.6M305.0 169.4h0.6M306.7 180.8h0.6M311.1 174.6h0.6M308.2 169.9h0.6M302.5 170.6h0.6M308.5 170.0h0.6M300.6 174.3h0.6M303.7 173.3h0.6M306.6 168.0h0.6M299.4 175.0h0.6M305.2 175.1h0.6M304.9 176.7h0.6M300.4 169.9h0.6M304.3 175.4h0.6M304.3 171.5h0.6M307.4 169.4h0.6M300.0 176.8h0.6M300.2 175.1h0.6M308.1 175.9h0.6M306.6 176.8h0.6M306.7 172.8h0.6M307.3 171.0h0.6M311.4 178.4h0.6M306.5 181.6h0.6M302.9 177.9h0.6M305.9 173.8h0.6M302.3 180.7h0.6M308.5 178.7h0.6M305.3 172.7h0.6M308.0 180.4h0.6M308.3 172.4h0.6M302.6 180.8h0.6M299.3 176.4h0.6M309.4 172.6h0.6M307.6 171.6h0.6M300.4 177.9h0.6M309.0 176.7h0.6M304.3 171.8h0.6M300.9 176.3h0.6M305.1 177.1h0.6M305.1 173.0h0.6M309.7 180.4h0.6M299.4 172.5h0.6M304.6 185.4h0.6M299.5 175.7h0.6M304.1 179.4h0.6M306.0 180.9h0.6M303.0 178.3h0.6M300.9 171.8h0.6M300.4 176.4h0.6M304.1 175.9h0.6M304.4 177.7h0.6M304.8 179.1h0.6M305.8 179.1h0.6M311.3 177.2h0.6M306.2 170.5h0.6M303.1 180.2h0.6M297.9 172.2h0.6M305.9 175.1h0.6M299.0 174.3h0.6M305.0 167.8h0.6M305.4 178.5h0.6M309.8 172.0h0.6M305.4 178.7h0.6M302.6 170.1h0.6" stroke="#000" stroke-width="0.60" stroke-opacity="0.6" fill="none"/>
<path d="M319.8 169.9h0.6M317.9 168.6h0.6M311.8 174.5h0.6M313.6 166.5h0.6M315.9 166.0h0.6M316.2 161.8h0.6M317.9 169.5h0.6M311.3 168.8h0.6M312.6 173.2h0.6M320.5 168.3h0.6M316.7 163.7h0.6M315.3 171.5h0.6M314.5 170.4h0.6M318.0 168.3h0.6M317.1 169.7h0.6M312.6 170.5h0.6M314.9 169.4h0.6M321.3 169.4h0.6M313.1 166.9h0.6M308.5 168.7h0.6M309.9 169.4h0.6M313.0 173.9h0.6M316.1 167.6h0.6M316.5 175.0h0.6M312.1 160.3h0.6M311.8 168.5h0.6M317.3 166.5h0.6M315.4 170.0h0.6M321.3 170.4h0.6M317.4 167.3h0.6M313.3 166.7h0.6M320.9 168.9h0.6M315.5 174.3h0.6M311.0 162.7h0.6M314.4 171.6h0.6M310.8 172.6h0.6M311.9 168.1h0.6M310.0 170.4h0.6M311.6 172.1h0.6M311.2 171.4h0.6M313.4 169.3h0.6M313.9 165.9h0.6M316.1 169.6h0.6M315.4 166.7h0.6M312.0 171.2h0.6M312.0 168.9h0.6M311.6 171.8h0.6M320.1 169.0h0.6M311.9 171.8h0.6M317.3 170.3h0.6M312.9 165.6h0.6M311.4 172.8h0.6M318.7 168.2h0.6M314.2 167.6h0.6M315.4 168.5h0.6M313.4 160.5h0.6M313.2 170.5h0.6M313.3 168.8h0.6M308.1 165.2h0.6M319.5 168.5h0.6M312.9 168.2h0.6M318.9 168.1h0.6M318.2 166.7h0.6M314.8 171.0h0.6M316.1 168.9h0.6M311.9 169.9h0.6M315.5 170.6h0.6M314.4 172.4h0.6M316.0 160.9h0.6M316.7 168.4h0.6M318.1 165.5h0.6M310.9 167.7h0.6M314.0 174.3h0.6M311.4 174.5h0.6M314.4 166.0h0.6M311.3 167.4h0.6M313.9 172.6h0.6M313.6 167.9h0.6M315.2 168.0h0.6M314.6 162.7h0.6M318.7 166.8h0.6M313.6 173.9h0.6M314.3 168.1h0.6M319.0 166.6h0.6M315.7 174.8h0.6M316.8 171.2h0.6M316.5 173.3h0.6M318.4 169.5h0.6M319.0 171.1h0.6M311.6 165.4h0.6M311.5 168.4h0.6M313.9 164.2h0.6M322.5 172.7h0.6M314.3 170.3h0.6M314.8 168.9h0.6M311.4 168.6h0.6M317.4 164.4h0.6M306.5 164.3h0.6M317.0 175.8h0.6M310.8 171.3h0.6M314.5 169.7h0.6M314.0 165.0h0.6M311.0 171.2h0.6M317.2 169.3h0.6M312.5 170.3h0.6M313.0 172.4h0.6M312.2 167.9h0.6M319.7 167.7h0.6M320.1 169.5h0.6M313.8 171.8h0.6M310.9 172.8h0.6M310.8 171.2h0.6M313.1 166.9h0.6M311.0 173.3h0.6M316.3 167.2h0.6M314.6 166.2h0.6M315.2 171.7h0.6M309.2 166.9h0.6M318.7 165.3h0.6M314.8 172.0h0.6M313.8 173.1h0.6M319.3 165.6h0.6M317.6 168.0h0.6M316.2 170.4h0.6M313.4 169.9h0.6M317.0 165.5h0.6M317.6 169.3h0.6M319.1 167.5h0.6M319.9 166.9h0.6M317.4 171.7h0.6M318.7 168.2h0.6M318.5 165.8h0.6M312.3 171.3h0.6M319.1 173.6h0.6M317.4 165.4h0.6M317.6 166.9h0.6M316.2 165.8h0.6M315.1 170.4h0.6M316.8 163.9h0.6M315.5 170.5h0.6M314.0 172.4h0.6M313.3 167.5h0.6M317.0 165.2h0.6M308.6 167.6h0.6M310.2 172.0h0.6M309.0 168.7h0.6M310.4 169.6h0.6M311.7 169.6h0.6M310.4 169.4h0.6M311.4 174.1h0.6M315.0 174.7h0.6M312.9 163.1h0.6M316.2 165.8h0.6M315.1 170.0h0.6M317.7 164.1h0.6M309.6 170.3h0.6M319.1 167.7h0.6M312.5 175.4h0.6M317.7 171.8h0.6M311.6 170.1h0.6M317.4 168.4h0.6M316.9 166.9h0.6M317.9 167.0h0.6M311.2 167.3h0.6M309.0 166.5h0.6M317.1 166.8h0.6M318.3 170.8h0.6M315.6 171.5h0.6M311.6 164.7h0.6M314.7 168.7h0.6M318.6 165.1h0.6M311.7 172.0h0.6M314.4 165.8h0.6M319.9 169.7h0.6M310.7 170.9h0.6M318.3 169.4h0.6M319.4 169.8h0.6M309.7 165.5h0.6M313.1 169.5h0.6M316.5 173.6h0.6M319.9 166.6h0.6M320.6 169.7h0.6M319.9 168.0h0.6M312.9 168.7h0.6M319.2 167.9h0.6M316.5 172.0h0.6M317.8 172.1h0.6M318.7 172.2h0.6M315.8 165.0h0.6M314.5 172.3h0.6M311.7 166.3h0.6M311.1 171.0h0.6M318.4 166.7h0.6M315.4 171.1h0.6M320.0 167.5h0.6M314.4 173.8h0.6M315.4 166.9h0.6M321.2 168.7h0.6M317.5 169.2h0.6M319.0 167.1h0.6M317.6 163.7h0.6M316.2 170.5h0.6M312.3 171.8h0.6M317.4 170.6h0.6M316.5 168.3h0.6M312.8 169.5h0.6M312.4 172.0h0.6M314.1 171.3h0.6M318.8 169.5h0.6M315.9 175.2h0.6M317.1 166.0h0.6M316.5 175.3h0.6M313.7 159.8h0.6M317.5 171.2h0.6M318.2 164.7h0.6" stroke="#000" stroke-width="0.60" stroke-opacity="0.6" fill="none"/>
<path d="M319.7 163.6h0.6M324.4 163.2h0.6M326.2 160.1h0.6M324.6 168.7h0.6M327.7 162.8h0.6M323.1 164.3h0.6M327.5 165.7h0.6M327.8 160.8h0.6M323.8 161.6h0.6M326.3 161.5h0.6M322.9 163.3h0.6M325.9 162.5h0.6M329.4 162.6h0.6M328.6 160.1h0.6M329.4 159.7h0.6M324.4 166.6h0.6M321.4 166.4h0.6M321.7 168.3h0.6M321.7 165.7h0.6M325.2 158.7h0.6M320.2 162.8h0.6M325.2 157.6h0.6M322.2 168.5h0.6M328.5 161.9h0.6M323.4 162.6h0.6M320.1 163.3h0.6M326.5 163.1h0.6M327.3 160.9h0.6M321.0 166.8h0.6M322.9 161.8h0.6M319.3 163.5h0.6M331.9 163.1h0.6M322.9 161.5h0.6M324.7 163.2h0.6M328.0 165.1h0.6M325.5 156.9h0.6M330.4 161.4h0.6M324.1 163.8h0.6M324.0 163.2h0.6M328.8 161.2h0.6M325.6 158.8h0.6M323.5 157.0h0.6M330.8 164.9h0.6M328.9 159.4h0.6M321.8 168.0h0.6M327.3 164.9h0.6M323.1 165.3h0.6M329.9 161.0h0.6M321.3 167.9h0.6M326.3 167.0h0.6M325.4 164.2h0.6M322.7 168.6h0.6M322.9 163.6h0.6M323.2 162.9h0.6M321.1 166.0h0.6M328.3 162.0h0.6M324.3 165.2h0.6M327.5 167.4h0.6M329.3 162.6h0.6M329.2 160.2h0.6M325.5 168.9h0.6M328.0 161.9h0.6M323.5 165.2h0.6M330.2 160.9h0.6M328.7 159.3h0.6M323.4 160.7h0.6M321.1 166.1h0.6M328.1 159.9h0.6M325.6 159.9h0.6M328.1 161.2h0.6M324.8 162.5h0.6M328.8 158.5h0.6M320.9 160.3h0.6M327.5 160.8h0.6M323.6 169.5h0.6M330.5 161.9h0.6M325.0 166.4h0.6M321.4 165.5h0.6M325.8 165.8h0.6M320.3 164.2h0.6M325.1 161.5h0.6M327.1 163.2h0.6M320.3 161.8h0.6M321.0 166.0h0.6M328.9 161.2h0.6M329.3 165.3h0.6M325.2 160.7h0.6M330.2 160.7h0.6M320.1 164.4h0.6M324.5 161.7h0.6M316.5 160.5h0.6M327.3 158.5h0.6M330.1 163.0h0.6M324.7 164.8h0.6M326.1 162.7h0.6M331.0 166.5h0.6M327.3 163.1h0.6M325.1 159.0h0.6M322.4 164.2h0.6M327.2 161.3h0.6M329.8 164.7h0.6M323.5 161.2h0.6M326.1 163.6h0.6M325.5 165.7h0.6M324.9 160.5h0.6M329.2 160.3h0.6M317.4 162.0h0.6M327.8 161.3h0.6M324.0 156.8h0.6M323.8 162.7h0.6M324.6 168.7h0.6M326.9 163.0h0.6M327.7 161.3h0.6M321.8 165.8h0.6M328.8 167.1h0.6M328.3 162.5h0.6M324.2 166.8h0.6M327.6 159.8h0.6M324.8 161.8h0.6M319.2 163.8h0.6M328.1 160.3h0.6M319.3 164.8h0.6M329.7 162.8h0.6M326.5 164.0h0.6M319.9 166.2h0.6M320.7 164.3h0.6M317.0 159.5h0.6M325.6 160.7h0.6M328.1 161.8h0.6M324.6 165.4h0.6M321.9 155.5h0.6M322.1 157.5h0.6M328.8 160.8h0.6M320.9 162.7h0.6M321.0 165.2h0.6M323.4 162.6h0.6M329.2 161.9h0.6M319.8 160.8h0.6M327.3 159.6h0.6M322.3 167.9h0.6M328.9 160.9h0.6M323.3 161.6h0.6M329.0 161.7h0.6M325.1 163.9h0.6M324.0 161.0h0.6M328.0 163.1h0.6M322.7 166.8h0.6M320.1 166.1h0.6M325.3 165.8h0.6M319.6 163.1h0.6M323.4 166.5h0.6M321.4 164.9h0.6M319.8 163.7h0.6M327.6 159.3h0.6M327.9 164.6h0.6M322.7 162.9h0.6M328.4 159.6h0.6M319.1 165.1h0.6M328.0 158.5h0.6M329.4 162.9h0.6M328.0 167.9h0.6M331.3 162.8h0.6" stroke="#000" stroke-width="0.60" stroke-opacity="0.6" fill="none"/>
<path d="M331.9 157.6h0.6M327.8 156.0h0.6M341.3 151.4h0.6M337.8 153.0h0.6M343.3 152.3h0.6M337.5 156.8h0.6M333.8 157.7h0.6M332.3 161.2h0.6M336.6 154.1h0.6M339.3 152.0h0.6M340.1 149.4h0.6M334.2 155.4h0.6M333.5 157.3h0.6M334.2 158.9h0.6M340.4 149.5h0.6M339.1 154.3h0.6M339.3 158.1h0.6M339.4 148.7h0.6M338.7 152.0h0.6M336.4 154.5h0.6M340.5 153.7h0.6M340.4 156.3h0.6M340.5 154.3h0.6M334.0 156.3h0.6M337.4 151.5h0.6M331.9 157.9h0.6M330.5 159.0h0.6M336.3 155.1h0.6M338.1 150.9h0.6M334.6 159.8h0.6M339.8 150.0h0.6M336.5 156.1h0.6M338.3 153.5h0.6M339.1 149.6h0.6M339.7 152.0h0.6M337.9 153.4h0.6M333.1 156.6h0.6M333.1 159.1h0.6M336.3 153.4h0.6M340.2 157.8h0.6M338.6 155.6h0.6M333.7 154.3h0.6M329.1 154.0h0.6M342.7 152.7h0.6M338.4 153.5h0.6M338.4 153.1h0.6M329.1 157.8h0.6M334.6 152.2h0.6M334.1 151.6h0.6M334.1 162.8h0.6M334.6 159.9h0.6M331.2 157.2h0.6M339.7 156.5h0.6M338.2 148.4h0.6M338.4 154.6h0.6M334.8 157.5h0.6M339.1 150.1h0.6M336.1 153.6h0.6M338.6 150.1h0.6M337.0 154.0h0.6M333.5 160.0h0.6M336.4 157.0h0.6M333.7 157.6h0.6M335.1 158.3h0.6M328.5 156.2h0.6M341.7 155.3h0.6M336.7 154.1h0.6M332.2 154.4h0.6M338.1 152.1h0.6M334.9 154.0h0.6M331.0 159.0h0.6M340.0 152.4h0.6M336.8 148.2h0.6M338.2 156.2h0.6M339.9 156.1h0.6M335.5 152.6h0.6M335.3 159.1h0.6M332.2 160.9h0.6M339.0 154.9h0.6M335.4 159.4h0.6M337.2 150.3h0.6M334.6 157.7h0.6M333.4 154.3h0.6M343.8 154.6h0.6M330.1 156.9h0.6M331.7 155.1h0.6M339.7 154.7h0.6M335.9 156.4h0.6M340.5 151.3h0.6M331.7 158.5h0.6M331.0 160.3h0.6M341.7 154.6h0.6M331.0 156.9h0.6M332.7 155.9h0.6M331.6 156.7h0.6M335.1 155.3h0.6M340.9 150.9h0.6M334.2 152.9h0.6M339.1 153.1h0.6M330.3 156.0h0.6M336.0 153.9h0.6M332.3 157.0h0.6M332.3 157.0h0.6M335.5 158.9h0.6" stroke="#000" stroke-width="0.60" stroke-opacity="0.6" fill="none"/>
<path d="M319.1 168.7h0.7M315.3 169.4h0.7M318.1 167.7h0.7M308.6 175.5h0.7M316.5 167.2h0.7M308.6 172.5h0.7M310.8 172.6h0.7M311.4 173.1h0.7M302.8 179.0h0.7M305.7 174.8h0.7M308.5 173.6h0.7M308.0 166.1h0.7M309.8 175.6h0.7M302.3 171.9h0.7M302.5 176.2h0.7M312.3 178.0h0.7M302.0 175.7h0.7M300.4 172.9h0.7M310.5 176.4h0.7M309.3 170.7h0.7M304.2 174.9h0.7M298.8 177.9h0.7M311.6 173.2h0.7M314.6 171.6h0.7M306.6 173.6h0.7M308.3 176.2h0.7M294.8 178.1h0.7M314.9 171.1h0.7M302.1 174.7h0.7M313.9 171.7h0.7M304.9 173.0h0.7M307.7 172.0h0.7M309.8 176.3h0.7M297.5 175.9h0.7M323.0 161.0h0.7M300.9 178.8h0.7M309.3 171.6h0.7M303.9 174.2h0.7M307.5 173.0h0.7M319.4 172.6h0.7M297.2 176.3h0.7M307.9 172.4h0.7M312.0 171.3h0.7M308.5 170.1h0.7M311.2 171.1h0.7M305.4 176.0h0.7M298.6 175.9h0.7M303.0 179.2h0.7M305.3 171.4h0.7M313.0 169.8h0.7M309.9 173.0h0.7M322.0 174.2h0.7M307.4 168.4h0.7M310.4 172.5h0.7M313.3 177.3h0.7M298.5 176.8h0.7M313.6 173.0h0.7M303.0 176.6h0.7M305.1 170.6h0.7M322.7 165.7h0.7M300.9 174.6h0.7M309.8 172.3h0.7M308.8 168.3h0.7M310.6 173.7h0.7M306.0 167.3h0.7M305.6 174.0h0.7M321.8 168.8h0.7M298.4 180.1h0.7M302.8 175.1h0.7M317.1 167.2h0.7M311.6 169.8h0.7M308.1 180.9h0.7M303.9 175.3h0.7M307.6 173.3h0.7M322.9 162.3h0.7M311.2 169.9h0.7M304.0 177.2h0.7M309.6 170.4h0.7M304.5 172.8h0.7M316.7 166.4h0.7M310.2 170.8h0.7M316.3 168.8h0.7M309.3 170.9h0.7M320.2 165.5h0.7M310.4 169.5h0.7M312.1 174.3h0.7M303.4 176.0h0.7M306.2 173.2h0.7M311.6 171.9h0.7M306.1 174.0h0.7M321.0 161.0h0.7M308.7 172.1h0.7M306.8 178.6h0.7M315.2 170.4h0.7M307.5 176.8h0.7M310.5 169.7h0.7M306.6 169.6h0.7M304.1 173.3h0.7M318.5 170.9h0.7M308.3 170.0h0.7M314.1 167.2h0.7M308.5 176.0h0.7M300.7 176.6h0.7M301.8 176.1h0.7M306.6 175.0h0.7M308.1 173.3h0.7M308.9 171.7h0.7M312.2 171.4h0.7M301.1 175.0h0.7M310.2 171.7h0.7M303.0 177.9h0.7M303.8 172.4h0.7M323.2 163.7h0.7M314.7 165.9h0.7M307.9 175.3h0.7M319.9 168.0h0.7M318.2 169.9h0.7M315.3 171.8h0.7M318.5 169.9h0.7M308.5 174.9h0.7M307.3 171.2h0.7M305.3 177.3h0.7M311.1 168.6h0.7M304.9 181.6h0.7M306.5 174.8h0.7M312.3 172.3h0.7M304.6 171.5h0.7M312.3 173.7h0.7M320.7 169.1h0.7M301.5 172.3h0.7M316.2 166.7h0.7M304.6 173.7h0.7M302.9 174.1h0.7M312.0 174.8h0.7M317.5 173.8h0.7M303.6 172.5h0.7M306.2 177.1h0.7M306.2 173.4h0.7M306.7 177.8h0.7M307.0 166.6h0.7M304.4 173.9h0.7M309.1 176.0h0.7M310.0 169.7h0.7M308.1 176.4h0.7M314.9 167.6h0.7M306.6 177.2h0.7M305.4 176.3h0.7M319.9 165.0h0.7M316.5 165.9h0.7M309.2 171.9h0.7M315.1 172.3h0.7M310.9 171.4h0.7M305.3 172.7h0.7M317.0 177.5h0.7M308.7 168.1h0.7M315.9 167.8h0.7M299.3 179.7h0.7M312.2 167.6h0.7M309.9 171.9h0.7M304.6 173.8h0.7M304.7 170.7h0.7M307.3 174.8h0.7M300.1 174.3h0.7M304.8 172.7h0.7M314.9 172.6h0.7M299.1 175.0h0.7M307.6 175.0h0.7M297.2 182.7h0.7M307.0 176.5h0.7M311.8 172.2h0.7M308.4 172.1h0.7M307.5 169.3h0.7M302.9 176.4h0.7M312.8 171.6h0.7M303.3 174.3h0.7M312.9 167.4h0.7M311.3 173.7h0.7M305.5 171.4h0.7M317.9 168.6h0.7M306.2 172.7h0.7M312.6 165.5h0.7M311.6 175.6h0.7M309.8 173.8h0.7M315.3 170.4h0.7M309.7 168.0h0.7M308.8 172.2h0.7M308.7 173.5h0.7M309.2 170.2h0.7M311.5 175.8h0.7M304.6 169.1h0.7M304.0 177.4h0.7M292.0 176.8h0.7M306.4 169.4h0.7M306.0 170.5h0.7M316.5 169.7h0.7M310.6 169.4h0.7M314.6 167.3h0.7M317.6 164.8h0.7M306.5 169.6h0.7M303.1 173.2h0.7M312.3 167.6h0.7M305.2 173.7h0.7M307.1 172.4h0.7M314.1 162.5h0.7M311.3 169.2h0.7M316.6 171.5h0.7M300.8 175.8h0.7M309.1 172.1h0.7M314.3 167.2h0.7M300.9 175.0h0.7M310.0 171.6h0.7M309.5 168.1h0.7M295.7 179.5h0.7M315.8 163.5h0.7M305.3 175.4h0.7M306.2 169.4h0.7M319.2 168.3h0.7M300.1 180.3h0.7M309.5 167.3h0.7M307.2 175.2h0.7M308.6 171.3h0.7M305.8 177.5h0.7M315.9 166.7h0.7M302.2 175.3h0.7M310.6 170.5h0.7M313.5 173.3h0.7M306.0 168.4h0.7M308.3 174.8h0.7M307.5 173.3h0.7M314.0 167.9h0.7M311.1 170.3h0.7M309.6 174.6h0.7M303.8 177.6h0.7M311.9 175.4h0.7M311.1 169.2h0.7M306.3 168.3h0.7M316.3 166.4h0.7M297.9 178.1h0.7M322.4 163.2h0.7M309.4 175.5h0.7M305.3 180.9h0.7M299.5 178.8h0.7M311.5 165.6h0.7M313.4 172.7h0.7M306.9 171.6h0.7M308.7 172.5h0.7M310.9 173.5h0.7M307.0 174.4h0.7M315.3 168.4h0.7M312.8 170.8h0.7M309.2 174.3h0.7M300.4 178.9h0.7M319.2 172.3h0.7M302.5 167.3h0.7M302.1 173.9h0.7M315.4 166.8h0.7M312.7 172.4h0.7M297.8 179.3h0.7M300.6 179.5h0.7M304.9 170.5h0.7M301.5 175.9h0.7M308.8 174.1h0.7M323.6 163.6h0.7M325.2 161.7h0.7M309.0 173.0h0.7M315.5 173.2h0.7M311.3 164.8h0.7M310.2 176.1h0.7M300.9 177.6h0.7M313.9 166.9h0.7M308.7 174.2h0.7M311.5 170.9h0.7M314.4 172.6h0.7M303.4 173.1h0.7M319.6 168.8h0.7M308.2 170.0h0.7M310.6 172.2h0.7M307.3 175.2h0.7M312.8 169.8h0.7M315.4 170.3h0.7M305.0 172.8h0.7M313.5 172.6h0.7M305.8 172.6h0.7M301.1 174.7h0.7M306.9 173.1h0.7M312.3 170.1h0.7M311.0 168.6h0.7M316.0 170.4h0.7M305.0 174.2h0.7M308.0 174.5h0.7M307.5 168.8h0.7M310.8 167.4h0.7M307.9 172.0h0.7M302.3 173.2h0.7M300.0 177.0h0.7M316.3 169.6h0.7M316.4 171.2h0.7M307.0 177.6h0.7M318.3 169.1h0.7M307.7 170.9h0.7M312.2 171.9h0.7M315.4 167.0h0.7M306.9 175.0h0.7M303.2 172.5h0.7M300.8 180.8h0.7M311.2 172.1h0.7M311.1 170.1h0.7M312.1 166.5h0.7M312.7 170.9h0.7M308.9 170.7h0.7M315.7 169.0h0.7M302.3 174.0h0.7M310.5 169.8h0.7M312.6 171.9h0.7M310.1 175.8h0.7M317.1 163.9h0.7M311.2 170.4h0.7M317.1 168.7h0.7M313.8 169.0h0.7M307.4 171.9h0.7M322.6 170.6h0.7M314.2 166.8h0.7M309.5 172.9h0.7M307.7 171.6h0.7M303.0 175.4h0.7M305.3 167.8h0.7M308.7 174.9h0.7M309.9 171.1h0.7M305.4 171.5h0.7M314.3 174.0h0.7M308.2 171.9h0.7M299.3 176.1h0.7M305.0 172.0h0.7M305.2 177.5h0.7M301.8 176.4h0.7M307.1 172.4h0.7M312.5 166.4h0.7M301.5 173.9h0.7M298.1 179.5h0.7M308.0 172.7h0.7M323.3 158.1h0.7M304.5 172.3h0.7M310.8 171.8h0.7M310.0 179.4h0.7M312.9 167.8h0.7M314.3 162.7h0.7M309.0 174.4h0.7M315.1 167.3h0.7M301.2 172.9h0.7M310.9 172.8h0.7M301.5 175.9h0.7M308.8 169.5h0.7M303.9 171.4h0.7M310.2 171.2h0.7M302.8 176.1h0.7M308.1 167.6h0.7M310.9 174.0h0.7M304.2 171.3h0.7M306.2 177.9h0.7M302.7 176.8h0.7M306.5 173.1h0.7M311.7 171.6h0.7M307.5 171.4h0.7M309.8 171.6h0.7M318.2 171.6h0.7M306.5 172.0h0.7M311.7 173.0h0.7M312.6 167.6h0.7M311.9 170.5h0.7M312.4 173.0h0.7M308.0 169.3h0.7M320.3 166.6h0.7M305.9 167.8h0.7M305.4 171.0h0.7M311.8 169.4h0.7M319.4 168.8h0.7M317.9 169.1h0.7M308.1 170.1h0.7M313.6 169.2h0.7M312.1 171.0h0.7M307.5 168.6h0.7M313.2 171.0h0.7M314.2 173.1h0.7M311.4 174.4h0.7M318.0 165.3h0.7M306.4 172.5h0.7M315.7 165.6h0.7M320.3 164.3h0.7M320.7 164.8h0.7M311.4 172.8h0.7M308.1 173.0h0.7M298.8 175.4h0.7M309.7 174.2h0.7M323.9 166.1h0.7M299.4 176.0h0.7M300.0 176.7h0.7M313.6 169.2h0.7M310.5 166.6h0.7M298.9 178.4h0.7M309.5 173.8h0.7M313.4 175.3h0.7M300.7 177.6h0.7M314.1 168.4h0.7M301.3 176.2h0.7M316.2 169.8h0.7M311.2 173.3h0.7M304.0 172.6h0.7M300.2 177.9h0.7M307.9 174.7h0.7M306.0 168.2h0.7M310.0 175.6h0.7M305.4 173.7h0.7M308.9 174.8h0.7M313.9 169.3h0.7M303.6 174.6h0.7M307.7 172.7h0.7M312.0 171.3h0.7M310.0 174.2h0.7M313.6 168.8h0.7M316.4 164.7h0.7M306.1 171.9h0.7M309.0 169.4h0.7M293.4 183.4h0.7M305.9 171.3h0.7M314.7 173.3h0.7M302.8 176.2h0.7M316.4 167.7h0.7M300.0 181.2h0.7M316.2 167.0h0.7M305.7 173.3h0.7M304.2 177.2h0.7M307.2 175.4h0.7M306.3 170.9h0.7M306.3 180.9h0.7M301.9 178.0h0.7M304.5 171.2h0.7M314.1 168.8h0.7M312.5 172.9h0.7M316.9 168.3h0.7M306.6 176.1h0.7M309.9 178.5h0.7M308.3 175.4h0.7M312.3 176.1h0.7M312.5 172.2h0.7M318.1 165.1h0.7M314.9 173.2h0.7M309.1 170.2h0.7M317.9 169.9h0.7M305.4 176.2h0.7M300.5 174.7h0.7" stroke="#000" stroke-width="0.65" stroke-opacity="0.85" fill="none"/>
<path d="M301.9 173.2h0.6M304.0 166.3h0.6M308.0 161.6h0.6M316.9 158.3h0.6M305.0 162.9h0.6M319.5 151.5h0.6M316.0 165.9h0.6M303.4 174.4h0.6M299.1 166.4h0.6M304.7 161.9h0.6M298.8 163.7h0.6M299.5 156.4h0.6M309.6 156.4h0.6M305.5 159.7h0.6M313.0 158.3h0.6M296.1 162.3h0.6M292.4 159.3h0.6M294.1 173.0h0.6M293.5 179.6h0.6M295.4 156.2h0.6M304.9 162.3h0.6M305.1 167.9h0.6M301.8 158.1h0.6M318.8 146.8h0.6M295.3 168.8h0.6M301.8 163.5h0.6M298.9 162.9h0.6M300.9 174.8h0.6M320.2 162.9h0.6M306.1 166.2h0.6M315.4 156.6h0.6M294.2 167.4h0.6M323.2 157.6h0.6M323.8 150.9h0.6M300.9 174.0h0.6M307.8 168.7h0.6M302.1 161.2h0.6M311.5 163.7h0.6M297.5 176.5h0.6M310.5 163.7h0.6M308.7 155.5h0.6M299.0 165.1h0.6M299.2 167.2h0.6M301.5 165.4h0.6M310.6 157.9h0.6M301.6 170.1h0.6M298.3 174.9h0.6M308.8 157.7h0.6M304.4 155.0h0.6M312.2 161.2h0.6M305.3 163.1h0.6M315.1 159.8h0.6M307.6 157.8h0.6M290.2 173.5h0.6M304.4 158.4h0.6M314.4 164.2h0.6M309.5 170.4h0.6M315.3 152.0h0.6M294.5 154.4h0.6M309.8 157.7h0.6M293.0 167.2h0.6M305.5 164.2h0.6M300.3 166.2h0.6M297.6 170.5h0.6M300.5 181.6h0.6M305.5 159.8h0.6M307.8 159.6h0.6M300.6 168.4h0.6M289.7 161.5h0.6M299.4 171.2h0.6M310.0 156.9h0.6M291.0 163.2h0.6M312.8 154.0h0.6M291.8 173.9h0.6M309.6 165.6h0.6M313.9 165.5h0.6M316.7 159.2h0.6M299.5 162.4h0.6M299.8 169.6h0.6M292.5 170.2h0.6M318.8 169.0h0.6M298.8 155.1h0.6M305.1 172.7h0.6M303.4 168.9h0.6M308.3 163.9h0.6M305.1 162.9h0.6M313.9 155.1h0.6M308.5 152.5h0.6M305.6 174.9h0.6M306.8 167.9h0.6M304.1 167.9h0.6M305.3 165.5h0.6M306.9 151.4h0.6M306.4 161.2h0.6M292.9 171.2h0.6M307.5 168.8h0.6M301.8 159.6h0.6M309.0 162.8h0.6M304.9 162.2h0.6M304.5 164.0h0.6M312.1 155.0h0.6M296.6 170.5h0.6M324.3 152.9h0.6M295.6 158.2h0.6M299.3 173.9h0.6M317.5 169.1h0.6M312.3 154.3h0.6M318.9 162.2h0.6" stroke="#000" stroke-width="0.60" stroke-opacity="0.3" fill="none"/>
<path d="M289.3 183.5h0.6M298.5 180.0h0.6M294.7 184.1h0.6M296.9 179.2h0.6M296.2 185.9h0.6M297.3 182.9h0.6M292.8 183.6h0.6M299.6 183.8h0.6M294.2 173.2h0.6M294.2 180.3h0.6M291.2 182.3h0.6M296.3 184.0h0.6M292.7 178.9h0.6M288.6 180.4h0.6M294.8 179.6h0.6M290.3 182.3h0.6M299.1 180.4h0.6M292.4 176.5h0.6M293.0 172.5h0.6M292.5 188.4h0.6M293.0 178.5h0.6M298.7 182.8h0.6M291.3 179.1h0.6M297.9 185.3h0.6M291.4 184.1h0.6M294.9 184.5h0.6M297.1 184.3h0.6M292.4 179.5h0.6M289.7 182.9h0.6M289.8 172.6h0.6M293.6 185.1h0.6M292.6 183.9h0.6M295.0 183.0h0.6M292.0 173.7h0.6M292.2 182.9h0.6M297.2 181.2h0.6M292.2 187.9h0.6M291.8 179.0h0.6M290.9 186.6h0.6M298.3 189.4h0.6M288.5 181.6h0.6M291.4 179.9h0.6M293.3 179.2h0.6M296.3 188.8h0.6M291.4 176.9h0.6M292.5 180.5h0.6M293.0 188.4h0.6M296.4 182.5h0.6M292.2 183.2h0.6M293.7 178.9h0.6M289.5 182.9h0.6M293.7 180.9h0.6M297.7 182.3h0.6M290.7 183.3h0.6M294.1 186.2h0.6M289.2 172.8h0.6M296.1 184.1h0.6M292.0 178.9h0.6M292.1 182.0h0.6M294.1 184.4h0.6M294.3 184.2h0.6M297.1 179.8h0.6M301.2 183.2h0.6M296.7 185.5h0.6M288.9 181.9h0.6M291.9 182.9h0.6M294.0 178.5h0.6M294.0 180.0h0.6M290.4 183.2h0.6M299.1 184.5h0.6M296.0 182.8h0.6M297.9 186.8h0.6M295.5 188.8h0.6M289.0 176.5h0.6M291.1 184.4h0.6M291.7 179.6h0.6M292.9 175.1h0.6M291.1 179.6h0.6M297.5 188.3h0.6M293.6 181.5h0.6M292.8 180.4h0.6M294.1 176.3h0.6M293.1 182.3h0.6M290.5 182.4h0.6M289.0 180.9h0.6M294.1 184.4h0.6M289.6 183.0h0.6M294.5 184.3h0.6M290.2 177.5h0.6M290.6 183.5h0.6M301.1 181.2h0.6M291.4 178.1h0.6M291.6 179.9h0.6M291.1 180.9h0.6M292.9 178.4h0.6M297.1 180.3h0.6M294.9 186.1h0.6M290.8 184.9h0.6M296.7 185.0h0.6M288.9 190.2h0.6M291.2 179.1h0.6M292.5 183.3h0.6M292.3 179.7h0.6M289.7 187.4h0.6M290.1 181.2h0.6M288.8 183.0h0.6M295.3 189.8h0.6M293.5 180.0h0.6M290.9 183.5h0.6M296.5 180.8h0.6M291.0 179.8h0.6M292.0 188.0h0.6M292.1 179.0h0.6M293.0 180.3h0.6M291.0 178.6h0.6M293.9 182.8h0.6M289.3 183.1h0.6M289.5 178.3h0.6M292.1 184.0h0.6M291.4 173.8h0.6M295.3 177.0h0.6M297.9 184.5h0.6M290.8 187.5h0.6M296.2 182.6h0.6M288.9 185.8h0.6M299.8 184.6h0.6M290.0 185.0h0.6M289.0 185.9h0.6M298.5 185.0h0.6M291.8 189.5h0.6M291.1 181.9h0.6M298.5 188.7h0.6M293.5 184.1h0.6M295.7 185.9h0.6M288.5 178.1h0.6M292.1 177.6h0.6M298.4 188.2h0.6M290.9 187.5h0.6M291.9 183.0h0.6M294.6 178.1h0.6M293.0 188.4h0.6M294.1 177.6h0.6M292.4 188.0h0.6M296.1 183.9h0.6M292.3 189.8h0.6M293.0 179.0h0.6M297.8 185.7h0.6M298.0 182.8h0.6M296.2 178.5h0.6M296.5 182.9h0.6M302.5 184.2h0.6M299.9 183.5h0.6M289.9 185.4h0.6M294.8 184.3h0.6M290.1 179.9h0.6M294.2 184.2h0.6M294.7 182.3h0.6" stroke="#000" stroke-width="0.60" stroke-opacity="0.5" fill="none"/>
<path d="M142.3 148.3 L130.5 158.5" fill="none" stroke="#000" stroke-width="3.2"/>
<path d="M127.3 161.8 L129.0 153.5 L135.5 160.2 Z" fill="#000" stroke="#000" stroke-width="0.6"/>
<text x="32.00" y="25.00" font-size="8.2" font-weight="bold" text-anchor="start" fill="#000" stroke="#000" stroke-width="0.3" textLength="26.2" lengthAdjust="spacingAndGlyphs">Control</text>
<text x="72.40" y="25.00" font-size="8.2" font-weight="bold" text-anchor="start" fill="#000" stroke="#000" stroke-width="0.3" textLength="8.9" lengthAdjust="spacingAndGlyphs">0h</text>
<text x="119.80" y="25.00" font-size="8.2" font-weight="bold" text-anchor="start" fill="#000" stroke="#000" stroke-width="0.3" textLength="26.4" lengthAdjust="spacingAndGlyphs">Control</text>
<text x="156.00" y="25.00" font-size="8.2" font-weight="bold" text-anchor="start" fill="#000" stroke="#000" stroke-width="0.3" textLength="13.2" lengthAdjust="spacingAndGlyphs">24h</text>
<text x="209.80" y="25.00" font-size="8.2" font-weight="bold" text-anchor="start" fill="#000" stroke="#000" stroke-width="0.3" textLength="26.4" lengthAdjust="spacingAndGlyphs">Control</text>
<text x="246.00" y="25.00" font-size="8.2" font-weight="bold" text-anchor="start" fill="#000" stroke="#000" stroke-width="0.3" textLength="13.2" lengthAdjust="spacingAndGlyphs">24h</text>
<text x="209.80" y="34.80" font-size="8.2" font-weight="bold" text-anchor="start" fill="#000" stroke="#000" stroke-width="0.3" textLength="29.8" lengthAdjust="spacingAndGlyphs">GM6001</text>
<text x="294.80" y="25.00" font-size="8.2" font-weight="bold" text-anchor="start" fill="#000" stroke="#000" stroke-width="0.3" textLength="26.4" lengthAdjust="spacingAndGlyphs">Control</text>
<text x="331.00" y="25.00" font-size="8.2" font-weight="bold" text-anchor="start" fill="#000" stroke="#000" stroke-width="0.3" textLength="13.2" lengthAdjust="spacingAndGlyphs">24h</text>
<text x="294.80" y="34.40" font-size="8.2" font-weight="bold" text-anchor="start" fill="#000" stroke="#000" stroke-width="0.3" textLength="33.2" lengthAdjust="spacingAndGlyphs">Calpeptin</text>
<text x="30.90" y="122.70" font-size="8.2" font-weight="bold" text-anchor="start" fill="#000" stroke="#000" stroke-width="0.3" textLength="31.1" lengthAdjust="spacingAndGlyphs">FlnA-null</text>
<text x="70.70" y="122.70" font-size="8.2" font-weight="bold" text-anchor="start" fill="#000" stroke="#000" stroke-width="0.3" textLength="8.1" lengthAdjust="spacingAndGlyphs">0h</text>
<text x="119.00" y="124.50" font-size="8.2" font-weight="bold" text-anchor="start" fill="#000" stroke="#000" stroke-width="0.3" textLength="30.6" lengthAdjust="spacingAndGlyphs">FlnA-null</text>
<text x="154.80" y="124.50" font-size="8.2" font-weight="bold" text-anchor="start" fill="#000" stroke="#000" stroke-width="0.3" textLength="12.7" lengthAdjust="spacingAndGlyphs">24h</text>
<text x="208.20" y="124.20" font-size="8.2" font-weight="bold" text-anchor="start" fill="#000" stroke="#000" stroke-width="0.3" textLength="31.4" lengthAdjust="spacingAndGlyphs">FlnA-null</text>
<text x="244.20" y="124.20" font-size="8.2" font-weight="bold" text-anchor="start" fill="#000" stroke="#000" stroke-width="0.3" textLength="12.8" lengthAdjust="spacingAndGlyphs">24h</text>
<text x="208.20" y="134.20" font-size="8.2" font-weight="bold" text-anchor="start" fill="#000" stroke="#000" stroke-width="0.3" textLength="29.1" lengthAdjust="spacingAndGlyphs">GM6001</text>
<text x="294.60" y="124.20" font-size="8.2" font-weight="bold" text-anchor="start" fill="#000" stroke="#000" stroke-width="0.3" textLength="30.6" lengthAdjust="spacingAndGlyphs">FlnA-null</text>
<text x="330.40" y="124.20" font-size="8.2" font-weight="bold" text-anchor="start" fill="#000" stroke="#000" stroke-width="0.3" textLength="12.9" lengthAdjust="spacingAndGlyphs">24h</text>
<text x="294.60" y="133.90" font-size="8.2" font-weight="bold" text-anchor="start" fill="#000" stroke="#000" stroke-width="0.3" textLength="33.5" lengthAdjust="spacingAndGlyphs">Calpeptin</text>
<text x="386.20" y="10.90" font-size="10.6" font-weight="bold" text-anchor="start" fill="#000">B</text>
<line x1="418.70" y1="16.50" x2="418.70" y2="162.90" stroke="#000" stroke-width="1.1"/>
<line x1="418.20" y1="162.40" x2="517.00" y2="162.40" stroke="#000" stroke-width="1.1"/>
<line x1="416.20" y1="162.40" x2="418.70" y2="162.40" stroke="#000" stroke-width="1"/>
<text x="416.10" y="165.30" font-size="7.8" font-weight="bold" text-anchor="end" fill="#000" stroke="#000" stroke-width="0.2">0</text>
<line x1="416.20" y1="133.30" x2="418.70" y2="133.30" stroke="#000" stroke-width="1"/>
<text x="416.10" y="136.20" font-size="7.8" font-weight="bold" text-anchor="end" fill="#000" stroke="#000" stroke-width="0.2">10</text>
<line x1="416.20" y1="104.20" x2="418.70" y2="104.20" stroke="#000" stroke-width="1"/>
<text x="416.10" y="107.10" font-size="7.8" font-weight="bold" text-anchor="end" fill="#000" stroke="#000" stroke-width="0.2">20</text>
<line x1="416.20" y1="75.10" x2="418.70" y2="75.10" stroke="#000" stroke-width="1"/>
<text x="416.10" y="78.00" font-size="7.8" font-weight="bold" text-anchor="end" fill="#000" stroke="#000" stroke-width="0.2">30</text>
<line x1="416.20" y1="46.00" x2="418.70" y2="46.00" stroke="#000" stroke-width="1"/>
<text x="416.10" y="48.90" font-size="7.8" font-weight="bold" text-anchor="end" fill="#000" stroke="#000" stroke-width="0.2">40</text>
<line x1="416.20" y1="16.90" x2="418.70" y2="16.90" stroke="#000" stroke-width="1"/>
<text x="416.10" y="19.80" font-size="7.8" font-weight="bold" text-anchor="end" fill="#000" stroke="#000" stroke-width="0.2">50</text>
<text x="404.80" y="152.10" font-size="5.9" font-weight="bold" text-anchor="start" fill="#000" stroke="#000" stroke-width="0.2" textLength="106.3" lengthAdjust="spacingAndGlyphs" transform="rotate(-90 404.80 152.10)">% Microvesicles/Microvesicles + Platelets</text>
<line x1="424.30" y1="21.50" x2="479.60" y2="21.50" stroke="#444" stroke-width="1"/>
<circle cx="452.2" cy="18.2" r="1.2" fill="#000"/>
<line x1="425.75" y1="145.23" x2="425.75" y2="147.85" stroke="#000" stroke-width="0.9"/>
<line x1="423.75" y1="145.23" x2="427.75" y2="145.23" stroke="#000" stroke-width="0.9"/>
<rect x="421.00" y="147.85" width="9.50" height="14.55" fill="#000" stroke="#000" stroke-width="1"/>
<line x1="439.45" y1="150.18" x2="439.45" y2="153.09" stroke="#000" stroke-width="0.9"/>
<line x1="437.45" y1="150.18" x2="441.45" y2="150.18" stroke="#000" stroke-width="0.9"/>
<rect x="434.70" y="153.09" width="9.50" height="9.31" fill="url(#chk)" stroke="#000" stroke-width="1"/>
<line x1="453.75" y1="141.45" x2="453.75" y2="144.36" stroke="#000" stroke-width="0.9"/>
<line x1="451.75" y1="141.45" x2="455.75" y2="141.45" stroke="#000" stroke-width="0.9"/>
<rect x="449.00" y="144.36" width="9.50" height="18.04" fill="#999" stroke="#000" stroke-width="1"/>
<line x1="481.80" y1="48.04" x2="481.80" y2="52.40" stroke="#000" stroke-width="0.9"/>
<line x1="479.80" y1="48.04" x2="483.80" y2="48.04" stroke="#000" stroke-width="0.9"/>
<rect x="477.20" y="52.40" width="9.20" height="110.00" fill="#fff" stroke="#444" stroke-width="1"/>
<line x1="495.75" y1="96.63" x2="495.75" y2="98.67" stroke="#000" stroke-width="0.9"/>
<line x1="493.75" y1="96.63" x2="497.75" y2="96.63" stroke="#000" stroke-width="0.9"/>
<rect x="491.00" y="98.67" width="9.50" height="63.73" fill="url(#chk)" stroke="#000" stroke-width="1"/>
<line x1="510.05" y1="126.61" x2="510.05" y2="128.35" stroke="#000" stroke-width="0.9"/>
<line x1="508.05" y1="126.61" x2="512.05" y2="126.61" stroke="#000" stroke-width="0.9"/>
<rect x="505.30" y="128.35" width="9.50" height="34.05" fill="#999" stroke="#000" stroke-width="1"/>
<circle cx="494.4" cy="87.9" r="1.3" fill="#000"/><circle cx="497.6" cy="87.9" r="1.3" fill="#000"/>
<line x1="494.40" y1="87.90" x2="497.60" y2="87.90" stroke="#000" stroke-width="1.1"/>
<text x="509.80" y="122.20" font-size="7" font-weight="bold" text-anchor="middle" fill="#000" stroke="#000" stroke-width="0.3">#</text>
<text x="427.30" y="183.60" font-size="5.7" font-weight="normal" text-anchor="start" fill="#000" textLength="15.9" lengthAdjust="spacingAndGlyphs" transform="rotate(-90 427.30 183.60)" stroke="#000" stroke-width="0.25">DMSO</text>
<text x="441.40" y="186.40" font-size="5.7" font-weight="normal" text-anchor="start" fill="#000" textLength="21.1" lengthAdjust="spacingAndGlyphs" transform="rotate(-90 441.40 186.40)" stroke="#000" stroke-width="0.25">GM6001</text>
<text x="454.30" y="191.70" font-size="5.7" font-weight="normal" text-anchor="start" fill="#000" textLength="25" lengthAdjust="spacingAndGlyphs" transform="rotate(-90 454.30 191.70)" stroke="#000" stroke-width="0.25">Calpeptin</text>
<text x="483.70" y="183.10" font-size="5.7" font-weight="normal" text-anchor="start" fill="#000" textLength="16.8" lengthAdjust="spacingAndGlyphs" transform="rotate(-90 483.70 183.10)" stroke="#000" stroke-width="0.25">DMSO</text>
<text x="496.90" y="186.40" font-size="5.7" font-weight="normal" text-anchor="start" fill="#000" textLength="21.1" lengthAdjust="spacingAndGlyphs" transform="rotate(-90 496.90 186.40)" stroke="#000" stroke-width="0.25">GM6001</text>
<text x="510.30" y="191.70" font-size="5.7" font-weight="normal" text-anchor="start" fill="#000" textLength="24.5" lengthAdjust="spacingAndGlyphs" transform="rotate(-90 510.30 191.70)" stroke="#000" stroke-width="0.25">Calpeptin</text>
<line x1="421.30" y1="193.50" x2="456.80" y2="193.50" stroke="#000" stroke-width="0.9"/>
<line x1="479.10" y1="193.50" x2="513.80" y2="193.50" stroke="#000" stroke-width="0.9"/>
<text x="426.00" y="199.50" font-size="5.8" font-weight="normal" text-anchor="start" fill="#000" textLength="20.7" lengthAdjust="spacingAndGlyphs" stroke="#000" stroke-width="0.2">Control</text>
<text x="482.30" y="199.50" font-size="5.8" font-weight="normal" text-anchor="start" fill="#000" textLength="24.7" lengthAdjust="spacingAndGlyphs" stroke="#000" stroke-width="0.2">FlnA-null</text>
<text x="3.60" y="260.30" font-size="10.6" font-weight="bold" text-anchor="start" fill="#000">C</text>
<line x1="25.80" y1="267.30" x2="25.80" y2="381.80" stroke="#000" stroke-width="1.1"/>
<line x1="25.30" y1="381.30" x2="153.70" y2="381.30" stroke="#000" stroke-width="1.1"/>
<line x1="23.30" y1="381.30" x2="25.80" y2="381.30" stroke="#000" stroke-width="1"/>
<text x="22.80" y="383.90" font-size="7.2" font-weight="bold" text-anchor="end" fill="#000" stroke="#000" stroke-width="0.2" textLength="2.95" lengthAdjust="spacingAndGlyphs">0</text>
<line x1="23.30" y1="362.37" x2="25.80" y2="362.37" stroke="#000" stroke-width="1"/>
<text x="22.80" y="364.97" font-size="7.2" font-weight="bold" text-anchor="end" fill="#000" stroke="#000" stroke-width="0.2" textLength="5.9" lengthAdjust="spacingAndGlyphs">20</text>
<line x1="23.30" y1="343.43" x2="25.80" y2="343.43" stroke="#000" stroke-width="1"/>
<text x="22.80" y="346.03" font-size="7.2" font-weight="bold" text-anchor="end" fill="#000" stroke="#000" stroke-width="0.2" textLength="5.9" lengthAdjust="spacingAndGlyphs">40</text>
<line x1="23.30" y1="324.50" x2="25.80" y2="324.50" stroke="#000" stroke-width="1"/>
<text x="22.80" y="327.10" font-size="7.2" font-weight="bold" text-anchor="end" fill="#000" stroke="#000" stroke-width="0.2" textLength="5.9" lengthAdjust="spacingAndGlyphs">60</text>
<line x1="23.30" y1="305.56" x2="25.80" y2="305.56" stroke="#000" stroke-width="1"/>
<text x="22.80" y="308.16" font-size="7.2" font-weight="bold" text-anchor="end" fill="#000" stroke="#000" stroke-width="0.2" textLength="5.9" lengthAdjust="spacingAndGlyphs">80</text>
<line x1="23.30" y1="286.63" x2="25.80" y2="286.63" stroke="#000" stroke-width="1"/>
<text x="22.80" y="289.23" font-size="7.2" font-weight="bold" text-anchor="end" fill="#000" stroke="#000" stroke-width="0.2" textLength="8.850000000000001" lengthAdjust="spacingAndGlyphs">100</text>
<line x1="23.30" y1="267.70" x2="25.80" y2="267.70" stroke="#000" stroke-width="1"/>
<text x="22.80" y="270.30" font-size="7.2" font-weight="bold" text-anchor="end" fill="#000" stroke="#000" stroke-width="0.2" textLength="8.850000000000001" lengthAdjust="spacingAndGlyphs">120</text>
<text x="7.80" y="367.00" font-size="7.2" font-weight="bold" text-anchor="start" fill="#000" stroke="#000" stroke-width="0.15" textLength="83.7" lengthAdjust="spacingAndGlyphs" transform="rotate(-90 7.80 367.00)">GPIb α, % pos. platelets</text>
<text x="37.00" y="394.00" font-size="6.9" font-weight="bold" text-anchor="middle" fill="#000" stroke="#000" stroke-width="0.15">0</text>
<text x="58.10" y="394.00" font-size="6.9" font-weight="bold" text-anchor="middle" fill="#000" stroke="#000" stroke-width="0.15">1</text>
<text x="79.40" y="394.00" font-size="6.9" font-weight="bold" text-anchor="middle" fill="#000" stroke="#000" stroke-width="0.15">3</text>
<text x="100.80" y="394.00" font-size="6.9" font-weight="bold" text-anchor="middle" fill="#000" stroke="#000" stroke-width="0.15">6</text>
<text x="122.30" y="394.00" font-size="6.9" font-weight="bold" text-anchor="middle" fill="#000" stroke="#000" stroke-width="0.15">18</text>
<text x="143.30" y="394.00" font-size="6.9" font-weight="bold" text-anchor="middle" fill="#000" stroke="#000" stroke-width="0.15">24h</text>
<path d="M37.0 287.3 L58.1 288.4 L79.4 293.9 L100.8 295.8 L122.3 367.8 L143.3 369.7" fill="none" stroke="#000" stroke-width="1.1"/>
<path d="M37.0 299.9 L58.1 299.6 L79.4 310.6 L100.8 322.5 L122.3 371.7 L143.3 373.9" fill="none" stroke="#000" stroke-width="1.1"/>
<circle cx="37" cy="287.29" r="2.2" fill="#000"/>
<circle cx="58.1" cy="288.43" r="2.2" fill="#000"/>
<line x1="79.40" y1="289.66" x2="79.40" y2="298.18" stroke="#000" stroke-width="0.8"/>
<line x1="77.10" y1="289.66" x2="81.70" y2="289.66" stroke="#000" stroke-width="0.8"/>
<line x1="77.10" y1="298.18" x2="81.70" y2="298.18" stroke="#000" stroke-width="0.8"/>
<circle cx="79.4" cy="293.92" r="2.2" fill="#000"/>
<circle cx="100.8" cy="295.81" r="2.2" fill="#000"/>
<line x1="122.30" y1="365.87" x2="122.30" y2="369.66" stroke="#000" stroke-width="0.8"/>
<line x1="120.00" y1="365.87" x2="124.60" y2="365.87" stroke="#000" stroke-width="0.8"/>
<line x1="120.00" y1="369.66" x2="124.60" y2="369.66" stroke="#000" stroke-width="0.8"/>
<circle cx="122.3" cy="367.76" r="2.2" fill="#000"/>
<line x1="143.30" y1="366.82" x2="143.30" y2="372.50" stroke="#000" stroke-width="0.8"/>
<line x1="141.00" y1="366.82" x2="145.60" y2="366.82" stroke="#000" stroke-width="0.8"/>
<line x1="141.00" y1="372.50" x2="145.60" y2="372.50" stroke="#000" stroke-width="0.8"/>
<circle cx="143.3" cy="369.66" r="2.2" fill="#000"/>
<rect x="34.90" y="297.78" width="4.20" height="4.20" fill="#000" stroke="none" stroke-width="0"/>
<rect x="56.00" y="297.50" width="4.20" height="4.20" fill="#000" stroke="none" stroke-width="0"/>
<line x1="79.40" y1="306.79" x2="79.40" y2="314.37" stroke="#000" stroke-width="0.8"/>
<line x1="77.10" y1="306.79" x2="81.70" y2="306.79" stroke="#000" stroke-width="0.8"/>
<line x1="77.10" y1="314.37" x2="81.70" y2="314.37" stroke="#000" stroke-width="0.8"/>
<rect x="77.30" y="308.48" width="4.20" height="4.20" fill="#000" stroke="none" stroke-width="0"/>
<rect x="98.70" y="320.41" width="4.20" height="4.20" fill="#000" stroke="none" stroke-width="0"/>
<line x1="122.30" y1="367.00" x2="122.30" y2="376.47" stroke="#000" stroke-width="0.8"/>
<line x1="120.00" y1="367.00" x2="124.60" y2="367.00" stroke="#000" stroke-width="0.8"/>
<line x1="120.00" y1="376.47" x2="124.60" y2="376.47" stroke="#000" stroke-width="0.8"/>
<rect x="120.20" y="369.64" width="4.20" height="4.20" fill="#000" stroke="none" stroke-width="0"/>
<line x1="143.30" y1="372.02" x2="143.30" y2="375.81" stroke="#000" stroke-width="0.8"/>
<line x1="141.00" y1="372.02" x2="145.60" y2="372.02" stroke="#000" stroke-width="0.8"/>
<line x1="141.00" y1="375.81" x2="145.60" y2="375.81" stroke="#000" stroke-width="0.8"/>
<rect x="141.20" y="371.82" width="4.20" height="4.20" fill="#000" stroke="none" stroke-width="0"/>
<line x1="39.40" y1="351.50" x2="48.50" y2="351.50" stroke="#000" stroke-width="1.1"/>
<circle cx="44.2" cy="351.5" r="2" fill="#000"/>
<line x1="39.40" y1="360.20" x2="48.50" y2="360.20" stroke="#000" stroke-width="1.1"/>
<rect x="42.20" y="358.20" width="4.00" height="4.00" fill="#000" stroke="none" stroke-width="1"/>
<text x="51.80" y="354.00" font-size="6.8" font-weight="bold" text-anchor="start" fill="#000" textLength="24" lengthAdjust="spacingAndGlyphs">Control</text>
<text x="51.80" y="362.70" font-size="6.8" font-weight="bold" text-anchor="start" fill="#000" textLength="29" lengthAdjust="spacingAndGlyphs">FlnA-null</text>
<text x="148.90" y="260.50" font-size="11.2" font-weight="bold" text-anchor="start" fill="#000">D</text>
<line x1="181.30" y1="263.80" x2="181.30" y2="381.70" stroke="#000" stroke-width="1.1"/>
<line x1="180.80" y1="381.20" x2="362.00" y2="381.20" stroke="#000" stroke-width="1.1"/>
<line x1="178.80" y1="381.20" x2="181.30" y2="381.20" stroke="#000" stroke-width="1"/>
<text x="178.30" y="383.60" font-size="6.8" font-weight="normal" text-anchor="end" fill="#000" stroke="#000" stroke-width="0.25">0</text>
<line x1="178.80" y1="361.64" x2="181.30" y2="361.64" stroke="#000" stroke-width="1"/>
<text x="178.30" y="364.04" font-size="6.8" font-weight="normal" text-anchor="end" fill="#000" stroke="#000" stroke-width="0.25">20</text>
<line x1="178.80" y1="342.08" x2="181.30" y2="342.08" stroke="#000" stroke-width="1"/>
<text x="178.30" y="344.48" font-size="6.8" font-weight="normal" text-anchor="end" fill="#000" stroke="#000" stroke-width="0.25">40</text>
<line x1="178.80" y1="322.52" x2="181.30" y2="322.52" stroke="#000" stroke-width="1"/>
<text x="178.30" y="324.92" font-size="6.8" font-weight="normal" text-anchor="end" fill="#000" stroke="#000" stroke-width="0.25">60</text>
<line x1="178.80" y1="302.96" x2="181.30" y2="302.96" stroke="#000" stroke-width="1"/>
<text x="178.30" y="305.36" font-size="6.8" font-weight="normal" text-anchor="end" fill="#000" stroke="#000" stroke-width="0.25">80</text>
<line x1="178.80" y1="283.40" x2="181.30" y2="283.40" stroke="#000" stroke-width="1"/>
<text x="178.30" y="285.80" font-size="6.8" font-weight="normal" text-anchor="end" fill="#000" stroke="#000" stroke-width="0.25">100</text>
<line x1="178.80" y1="263.84" x2="181.30" y2="263.84" stroke="#000" stroke-width="1"/>
<text x="178.30" y="266.24" font-size="6.8" font-weight="normal" text-anchor="end" fill="#000" stroke="#000" stroke-width="0.25">120</text>
<text x="166.30" y="345.00" font-size="5.8" font-weight="bold" text-anchor="start" fill="#000" textLength="47.5" lengthAdjust="spacingAndGlyphs" transform="rotate(-90 166.30 345.00)">% pos. platelets</text>
<rect x="182.80" y="284.38" width="3.60" height="96.82" fill="#fff" stroke="#222" stroke-width="0.9"/>
<line x1="190.25" y1="367.51" x2="190.25" y2="369.95" stroke="#000" stroke-width="0.7"/>
<line x1="189.05" y1="367.51" x2="191.45" y2="367.51" stroke="#000" stroke-width="0.7"/>
<rect x="188.45" y="369.95" width="3.60" height="11.25" fill="#777" stroke="#222" stroke-width="0.9"/>
<line x1="195.90" y1="284.87" x2="195.90" y2="286.33" stroke="#000" stroke-width="0.7"/>
<line x1="194.70" y1="284.87" x2="197.10" y2="284.87" stroke="#000" stroke-width="0.7"/>
<rect x="194.10" y="286.33" width="3.60" height="94.87" fill="#a8a8a8" stroke="#222" stroke-width="0.9"/>
<line x1="201.55" y1="373.57" x2="201.55" y2="374.35" stroke="#000" stroke-width="0.7"/>
<line x1="200.35" y1="373.57" x2="202.75" y2="373.57" stroke="#000" stroke-width="0.7"/>
<rect x="199.75" y="374.35" width="3.60" height="6.85" fill="url(#str)" stroke="#222" stroke-width="0.9"/>
<rect x="211.10" y="298.07" width="3.60" height="83.13" fill="#fff" stroke="#222" stroke-width="0.9"/>
<line x1="218.55" y1="373.38" x2="218.55" y2="373.87" stroke="#000" stroke-width="0.7"/>
<line x1="217.35" y1="373.38" x2="219.75" y2="373.38" stroke="#000" stroke-width="0.7"/>
<rect x="216.75" y="373.87" width="3.60" height="7.33" fill="#777" stroke="#222" stroke-width="0.9"/>
<line x1="224.20" y1="307.36" x2="224.20" y2="310.29" stroke="#000" stroke-width="0.7"/>
<line x1="223.00" y1="307.36" x2="225.40" y2="307.36" stroke="#000" stroke-width="0.7"/>
<rect x="222.40" y="310.29" width="3.60" height="70.91" fill="#a8a8a8" stroke="#222" stroke-width="0.9"/>
<line x1="229.85" y1="376.80" x2="229.85" y2="377.29" stroke="#000" stroke-width="0.7"/>
<line x1="228.65" y1="376.80" x2="231.05" y2="376.80" stroke="#000" stroke-width="0.7"/>
<rect x="228.05" y="377.29" width="3.60" height="3.91" fill="url(#str)" stroke="#222" stroke-width="0.9"/>
<rect x="245.90" y="283.40" width="3.60" height="97.80" fill="#fff" stroke="#222" stroke-width="0.9"/>
<rect x="251.55" y="283.40" width="3.60" height="97.80" fill="#777" stroke="#222" stroke-width="0.9"/>
<rect x="257.20" y="283.40" width="3.60" height="97.80" fill="#a8a8a8" stroke="#222" stroke-width="0.9"/>
<rect x="262.85" y="283.40" width="3.60" height="97.80" fill="url(#str)" stroke="#222" stroke-width="0.9"/>
<rect x="274.20" y="287.31" width="3.60" height="93.89" fill="#fff" stroke="#222" stroke-width="0.9"/>
<line x1="281.65" y1="299.54" x2="281.65" y2="301.00" stroke="#000" stroke-width="0.7"/>
<line x1="280.45" y1="299.54" x2="282.85" y2="299.54" stroke="#000" stroke-width="0.7"/>
<rect x="279.85" y="301.00" width="3.60" height="80.20" fill="#777" stroke="#222" stroke-width="0.9"/>
<line x1="287.30" y1="297.58" x2="287.30" y2="299.05" stroke="#000" stroke-width="0.7"/>
<line x1="286.10" y1="297.58" x2="288.50" y2="297.58" stroke="#000" stroke-width="0.7"/>
<rect x="285.50" y="299.05" width="3.60" height="82.15" fill="#a8a8a8" stroke="#222" stroke-width="0.9"/>
<line x1="292.95" y1="300.51" x2="292.95" y2="301.98" stroke="#000" stroke-width="0.7"/>
<line x1="291.75" y1="300.51" x2="294.15" y2="300.51" stroke="#000" stroke-width="0.7"/>
<rect x="291.15" y="301.98" width="3.60" height="79.22" fill="url(#str)" stroke="#222" stroke-width="0.9"/>
<rect x="308.80" y="283.40" width="3.60" height="97.80" fill="#fff" stroke="#222" stroke-width="0.9"/>
<rect x="314.45" y="283.40" width="3.60" height="97.80" fill="#777" stroke="#222" stroke-width="0.9"/>
<rect x="320.10" y="283.40" width="3.60" height="97.80" fill="#a8a8a8" stroke="#222" stroke-width="0.9"/>
<rect x="325.75" y="283.40" width="3.60" height="97.80" fill="url(#str)" stroke="#222" stroke-width="0.9"/>
<rect x="337.40" y="287.80" width="3.60" height="93.40" fill="#fff" stroke="#222" stroke-width="0.9"/>
<line x1="344.85" y1="299.54" x2="344.85" y2="301.00" stroke="#000" stroke-width="0.7"/>
<line x1="343.65" y1="299.54" x2="346.05" y2="299.54" stroke="#000" stroke-width="0.7"/>
<rect x="343.05" y="301.00" width="3.60" height="80.20" fill="#777" stroke="#222" stroke-width="0.9"/>
<line x1="350.50" y1="295.62" x2="350.50" y2="297.09" stroke="#000" stroke-width="0.7"/>
<line x1="349.30" y1="295.62" x2="351.70" y2="295.62" stroke="#000" stroke-width="0.7"/>
<rect x="348.70" y="297.09" width="3.60" height="84.11" fill="#a8a8a8" stroke="#222" stroke-width="0.9"/>
<line x1="356.15" y1="300.51" x2="356.15" y2="301.98" stroke="#000" stroke-width="0.7"/>
<line x1="354.95" y1="300.51" x2="357.35" y2="300.51" stroke="#000" stroke-width="0.7"/>
<rect x="354.35" y="301.98" width="3.60" height="79.22" fill="url(#str)" stroke="#222" stroke-width="0.9"/>
<text x="189.90" y="365.50" font-size="6.5" font-weight="bold" text-anchor="middle" fill="#000">#</text>
<text x="201.10" y="371.00" font-size="6.5" font-weight="bold" text-anchor="middle" fill="#000">#</text>
<circle cx="218.5" cy="367.5" r="1.2" fill="#000"/>
<circle cx="230.5" cy="371.5" r="1.2" fill="#000"/>
<circle cx="281.6" cy="294.2" r="1.2" fill="#000"/>
<circle cx="287.5" cy="291.4" r="1.2" fill="#000"/>
<circle cx="293.2" cy="296.5" r="1.2" fill="#000"/>
<circle cx="345" cy="293.1" r="1.2" fill="#000"/>
<circle cx="350.6" cy="291.1" r="1.2" fill="#000"/>
<circle cx="356.5" cy="295.5" r="1.2" fill="#000"/>
<rect x="186.70" y="245.20" width="5.40" height="5.40" fill="#fff" stroke="#222" stroke-width="0.9"/>
<text x="195.70" y="250.10" font-size="6.6" font-weight="bold" text-anchor="start" fill="#000" stroke="#000" stroke-width="0.2" textLength="6.3" lengthAdjust="spacingAndGlyphs">0h</text>
<rect x="186.70" y="254.05" width="5.40" height="5.40" fill="#777" stroke="#222" stroke-width="0.9"/>
<text x="195.70" y="258.95" font-size="6.6" font-weight="bold" text-anchor="start" fill="#000" stroke="#000" stroke-width="0.2" textLength="27.1" lengthAdjust="spacingAndGlyphs">37°C, 24h</text>
<rect x="186.70" y="262.90" width="5.40" height="5.40" fill="#a8a8a8" stroke="#222" stroke-width="0.9"/>
<text x="195.70" y="267.80" font-size="6.6" font-weight="bold" text-anchor="start" fill="#000" stroke="#000" stroke-width="0.2" textLength="79.3" lengthAdjust="spacingAndGlyphs">GM6001 100 μM, 37°C, 24h</text>
<rect x="186.70" y="271.75" width="5.40" height="5.40" fill="url(#str)" stroke="#222" stroke-width="0.9"/>
<text x="195.70" y="276.65" font-size="6.6" font-weight="bold" text-anchor="start" fill="#000" stroke="#000" stroke-width="0.2" textLength="86.7" lengthAdjust="spacingAndGlyphs">Calpeptin 20 μg/ml, 37°C, 24h</text>
<text x="190.50" y="387.90" font-size="5.9" font-weight="bold" text-anchor="middle" fill="#000" stroke="#000" stroke-width="0.2" textLength="21" lengthAdjust="spacingAndGlyphs">Control</text>
<text x="221.00" y="387.90" font-size="5.9" font-weight="bold" text-anchor="middle" fill="#000" stroke="#000" stroke-width="0.2" textLength="25.5" lengthAdjust="spacingAndGlyphs">FlnA-null</text>
<text x="255.00" y="387.90" font-size="5.9" font-weight="bold" text-anchor="middle" fill="#000" stroke="#000" stroke-width="0.2" textLength="21" lengthAdjust="spacingAndGlyphs">Control</text>
<text x="285.50" y="387.90" font-size="5.9" font-weight="bold" text-anchor="middle" fill="#000" stroke="#000" stroke-width="0.2" textLength="25.5" lengthAdjust="spacingAndGlyphs">FlnA-null</text>
<text x="318.80" y="387.90" font-size="5.9" font-weight="bold" text-anchor="middle" fill="#000" stroke="#000" stroke-width="0.2" textLength="21" lengthAdjust="spacingAndGlyphs">Control</text>
<text x="350.00" y="387.90" font-size="5.9" font-weight="bold" text-anchor="middle" fill="#000" stroke="#000" stroke-width="0.2" textLength="25.5" lengthAdjust="spacingAndGlyphs">FlnA-null</text>
<line x1="183.40" y1="392.50" x2="235.90" y2="392.50" stroke="#000" stroke-width="1"/>
<line x1="243.80" y1="392.50" x2="296.30" y2="392.50" stroke="#000" stroke-width="1"/>
<line x1="308.70" y1="392.50" x2="363.80" y2="392.50" stroke="#000" stroke-width="1"/>
<text x="205.50" y="401.50" font-size="7.4" font-weight="bold" text-anchor="middle" fill="#000" stroke="#000" stroke-width="0.3" textLength="22.9" lengthAdjust="spacingAndGlyphs">GPIb α</text>
<text x="268.80" y="401.50" font-size="7.4" font-weight="bold" text-anchor="middle" fill="#000" stroke="#000" stroke-width="0.3" textLength="22.9" lengthAdjust="spacingAndGlyphs">GPIb β</text>
<text x="333.80" y="401.50" font-size="7.4" font-weight="bold" text-anchor="middle" fill="#000" stroke="#000" stroke-width="0.3">CD61</text>
<text x="4.30" y="433.20" font-size="10.8" font-weight="bold" text-anchor="start" fill="#000">E</text>
<line x1="46.40" y1="461.00" x2="46.40" y2="528.10" stroke="#000" stroke-width="1"/>
<line x1="45.90" y1="527.60" x2="86.00" y2="527.60" stroke="#000" stroke-width="1"/>
<line x1="44.40" y1="527.60" x2="46.40" y2="527.60" stroke="#000" stroke-width="0.8"/>
<text x="44.10" y="528.90" font-size="3.7" font-weight="bold" text-anchor="end" fill="#333">0</text>
<line x1="44.40" y1="511.05" x2="46.40" y2="511.05" stroke="#000" stroke-width="0.8"/>
<text x="44.10" y="512.35" font-size="3.7" font-weight="bold" text-anchor="end" fill="#333">500</text>
<line x1="44.40" y1="494.50" x2="46.40" y2="494.50" stroke="#000" stroke-width="0.8"/>
<text x="44.10" y="495.80" font-size="3.7" font-weight="bold" text-anchor="end" fill="#333">1000</text>
<line x1="44.40" y1="477.95" x2="46.40" y2="477.95" stroke="#000" stroke-width="0.8"/>
<text x="44.10" y="479.25" font-size="3.7" font-weight="bold" text-anchor="end" fill="#333">1500</text>
<line x1="44.40" y1="461.40" x2="46.40" y2="461.40" stroke="#000" stroke-width="0.8"/>
<text x="44.10" y="462.70" font-size="3.7" font-weight="bold" text-anchor="end" fill="#333">2000</text>
<text x="49.10" y="456.10" font-size="6" font-weight="bold" text-anchor="start" fill="#000" stroke="#000" stroke-width="0.15" textLength="37.5" lengthAdjust="spacingAndGlyphs">Platelets, 24h</text>
<text x="34.90" y="516.60" font-size="6.0" font-weight="bold" text-anchor="start" fill="#000" stroke="#000" stroke-width="0.15" textLength="44.8" lengthAdjust="spacingAndGlyphs" transform="rotate(-90 34.90 516.60)">Annexin V, MFI</text>
<line x1="56.20" y1="491.85" x2="56.20" y2="496.98" stroke="#444" stroke-width="0.9"/>
<line x1="53.20" y1="491.85" x2="59.20" y2="491.85" stroke="#444" stroke-width="0.9"/>
<rect x="49.60" y="496.98" width="13.20" height="30.62" fill="#000" stroke="#000" stroke-width="1"/>
<line x1="75.70" y1="475.30" x2="75.70" y2="482.92" stroke="#444" stroke-width="0.9"/>
<line x1="72.70" y1="475.30" x2="78.70" y2="475.30" stroke="#444" stroke-width="0.9"/>
<rect x="69.10" y="482.92" width="13.20" height="44.69" fill="#fff" stroke="#555" stroke-width="1"/>
<text x="35.70" y="539.10" font-size="7.8" font-weight="bold" text-anchor="start" fill="#000" stroke="#000" stroke-width="0.2" textLength="25.9" lengthAdjust="spacingAndGlyphs">Control</text>
<text x="69.60" y="539.10" font-size="7.8" font-weight="bold" text-anchor="start" fill="#000" stroke="#000" stroke-width="0.2" textLength="31.3" lengthAdjust="spacingAndGlyphs">FlnA-null</text>
<text x="166.40" y="433.10" font-size="10.8" font-weight="bold" text-anchor="start" fill="#000">F</text>
<line x1="215.90" y1="434.50" x2="215.90" y2="530.10" stroke="#000" stroke-width="1"/>
<line x1="215.40" y1="529.60" x2="292.50" y2="529.60" stroke="#000" stroke-width="1"/>
<line x1="213.40" y1="529.60" x2="215.90" y2="529.60" stroke="#000" stroke-width="0.9"/>
<text x="213.80" y="531.45" font-size="5.2" font-weight="bold" text-anchor="end" fill="#000">0</text>
<line x1="213.40" y1="510.65" x2="215.90" y2="510.65" stroke="#000" stroke-width="0.9"/>
<text x="213.80" y="512.50" font-size="5.2" font-weight="bold" text-anchor="end" fill="#000">20</text>
<line x1="213.40" y1="491.70" x2="215.90" y2="491.70" stroke="#000" stroke-width="0.9"/>
<text x="213.80" y="493.55" font-size="5.2" font-weight="bold" text-anchor="end" fill="#000">40</text>
<line x1="213.40" y1="472.75" x2="215.90" y2="472.75" stroke="#000" stroke-width="0.9"/>
<text x="213.80" y="474.60" font-size="5.2" font-weight="bold" text-anchor="end" fill="#000">60</text>
<line x1="213.40" y1="453.80" x2="215.90" y2="453.80" stroke="#000" stroke-width="0.9"/>
<text x="213.80" y="455.65" font-size="5.2" font-weight="bold" text-anchor="end" fill="#000">80</text>
<line x1="213.40" y1="434.85" x2="215.90" y2="434.85" stroke="#000" stroke-width="0.9"/>
<text x="213.80" y="436.70" font-size="5.2" font-weight="bold" text-anchor="end" fill="#000">100</text>
<text x="220.20" y="427.60" font-size="6.3" font-weight="bold" text-anchor="start" fill="#000" stroke="#000" stroke-width="0.15" textLength="80.4" lengthAdjust="spacingAndGlyphs">FlnA-null microvesicles, 24h</text>
<text x="202.40" y="516.30" font-size="6.9" font-weight="bold" text-anchor="start" fill="#000" textLength="74.1" lengthAdjust="spacingAndGlyphs" transform="rotate(-90 202.40 516.30)">% positive microvesicles</text>
<line x1="225.50" y1="519.84" x2="225.50" y2="522.49" stroke="#000" stroke-width="0.9"/>
<line x1="222.50" y1="519.84" x2="228.50" y2="519.84" stroke="#000" stroke-width="0.9"/>
<rect x="218.90" y="522.49" width="13.20" height="7.11" fill="#777" stroke="#222" stroke-width="0.9"/>
<line x1="244.80" y1="505.44" x2="244.80" y2="509.23" stroke="#000" stroke-width="0.9"/>
<line x1="241.80" y1="505.44" x2="247.80" y2="505.44" stroke="#000" stroke-width="0.9"/>
<rect x="238.20" y="509.23" width="13.20" height="20.37" fill="url(#chk2)" stroke="#222" stroke-width="0.9"/>
<line x1="264.10" y1="491.23" x2="264.10" y2="496.91" stroke="#000" stroke-width="0.9"/>
<line x1="261.10" y1="491.23" x2="267.10" y2="491.23" stroke="#000" stroke-width="0.9"/>
<rect x="257.60" y="496.91" width="13.00" height="32.69" fill="#c2c2c2" stroke="#222" stroke-width="0.9"/>
<line x1="283.25" y1="444.99" x2="283.25" y2="449.54" stroke="#000" stroke-width="0.9"/>
<line x1="280.25" y1="444.99" x2="286.25" y2="444.99" stroke="#000" stroke-width="0.9"/>
<rect x="276.50" y="449.54" width="13.50" height="80.06" fill="#b8b8b8" stroke="#222" stroke-width="0.9"/>
<text x="227.10" y="556.00" font-size="7.2" font-weight="bold" text-anchor="start" fill="#000" stroke="#000" stroke-width="0.15" textLength="20.8" lengthAdjust="spacingAndGlyphs" transform="rotate(-90 227.10 556.00)">GPIbα</text>
<text x="245.70" y="558.30" font-size="7.2" font-weight="bold" text-anchor="start" fill="#000" stroke="#000" stroke-width="0.15" textLength="21.4" lengthAdjust="spacingAndGlyphs" transform="rotate(-90 245.70 558.30)">GPIbβ</text>
<text x="266.30" y="553.10" font-size="7.2" font-weight="bold" text-anchor="start" fill="#000" stroke="#000" stroke-width="0.15" textLength="17.3" lengthAdjust="spacingAndGlyphs" transform="rotate(-90 266.30 553.10)">CD61</text>
<text x="272.70" y="541.10" font-size="6.6" font-weight="bold" text-anchor="start" fill="#000" stroke="#000" stroke-width="0.15" textLength="32.7" lengthAdjust="spacingAndGlyphs">Annexin V</text></svg></body></html>
